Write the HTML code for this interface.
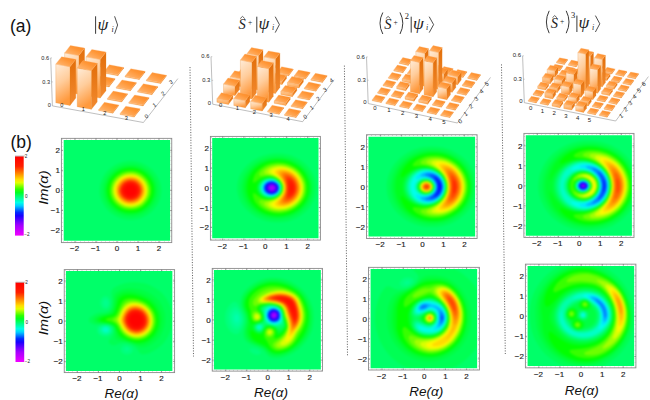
<!DOCTYPE html><html><head><meta charset="utf-8"><style>html,body{margin:0;padding:0;background:#fff}svg{display:block}text{font-family:"Liberation Sans",sans-serif}</style></head><body>
<svg width="650" height="400" viewBox="0 0 650 400">
<defs><filter id="bl" x="-5%" y="-5%" width="110%" height="110%" color-interpolation-filters="sRGB"><feGaussianBlur stdDeviation="0.8"/></filter></defs>
<rect width="650" height="400" fill="#fff"/>
<clipPath id="cP11"><rect x="63.70" y="140.00" width="106.40" height="100.75"/></clipPath>
<g clip-path="url(#cP11)"><g filter="url(#bl)"><rect x="59.7" y="136.0" width="114.4" height="108.8" fill="#00ff69"/><g transform="scale(.25)"><path fill="#00ff54" fill-rule="evenodd" d="M503 646l12-2 12 0 12 1 12 3 12 3 10 4 11 6 10 6 10 8 8 7 8 10 7 10 6 10 4 10 4 12 2 10 1 10 1 11-2 12-1 10-4 12-4 10-5 10-7 10-8 10-8 8-10 8-8 5-12 7-9 4-12 4-13 2-11 2-12 0-12-1-12-2-12-3-12-5-12-6-10-6-10-8-8-8-8-9-7-10-4-8-6-12-3-10-3-12-1-10 0-11 1-10 2-12 4-12 4-10 5-10 7-10 7-9 8-8 10-8 10-7 10-5 14-6 10-3 11-2z"/><path fill="#00ff43" fill-rule="evenodd" d="M507 658l10-1 12 0 12 1 10 2 10 3 10 4 9 6 8 5 8 7 8 7 8 10 5 8 5 8 4 10 3 10 2 10 1 10-1 11-1 10-2 10-4 12-4 8-5 8-6 8-7 8-8 7-8 7-10 6-7 4-10 4-12 3-10 2-10 1-12-1-10-1-10-2-10-3-10-4-8-4-10-6-8-6-8-7-7-8-7-10-5-10-4-8-3-10-2-10-1-10 0-11 1-10 2-10 3-8 4-10 5-10 6-8 7-8 7-7 8-7 10-6 10-5 10-4 12-4 8-1z"/><path fill="#00ff32" fill-rule="evenodd" d="M503 665l10-1 12 0 10 0 10 2 10 3 10 4 8 4 7 4 8 6 8 8 7 7 6 8 4 8 5 10 3 10 2 8 1 10 0 9 0 8-2 10-3 8-4 10-4 8-5 8-6 8-8 7-8 7-8 5-7 5-10 4-10 3-10 2-10 1-10 0-10 0-10-2-10-3-10-4-8-4-8-4-8-6-7-7-6-6-6-8-5-8-4-8-4-10-2-10-1-10-1-9 1-8 1-10 3-8 3-10 4-8 5-8 6-8 7-7 8-7 8-6 10-5 8-4 8-3 10-2z"/><path fill="#00ff1f" fill-rule="evenodd" d="M511 670l8-1 10 0 10 1 10 3 16 5 8 5 7 5 8 6 6 6 7 8 5 8 4 8 4 8 2 8 2 10 1 10 0 7-2 10-1 8-3 8-4 8-4 8-6 8-7 8-6 6-8 6-7 5-16 7-10 3-10 1-10 1-10 0-10-1-8-2-10-3-8-3-8-5-8-5-7-6-7-7-6-7-6-8-4-8-3-8-3-8-1-10-1-8 0-9 1-8 2-10 4-10 3-8 10-15 7-7 7-7 8-6 8-4 8-4 10-4 17-3z"/><path fill="#01ff00" fill-rule="evenodd" d="M505 676l8-1 10-1 10 1 8 1 16 5 8 3 8 5 7 5 6 6 6 6 6 8 5 8 4 8 3 8 2 8 1 10 0 7-2 16-2 8-4 10-8 14-11 13-6 5-7 5-8 5-8 4-10 3-8 2-8 1-10 0-10-1-8-1-16-5-8-3-8-5-8-6-6-5-6-6-6-8-5-8-4-8-2-8-2-8-2-10 0-7 2-16 2-8 3-8 4-8 6-8 10-12 6-5 8-6 8-5 8-3 8-3 9-2z"/><path fill="#37ff00" fill-rule="evenodd" d="M505 684l16-2 16 1 8 2 8 3 14 6 12 10 6 6 5 6 4 6 4 8 3 8 3 8 1 8 0 8 0 7-1 8-5 14-8 14-10 12-6 6-6 5-14 7-8 3-8 2-16 1-16-1-8-2-8-2-14-7-13-10-6-6-5-6-4-6-4-8-3-8-2-8-1-8-1-7 1-8 1-8 4-14 3-6 5-8 10-12 13-10 14-8 15-4z"/><path fill="#6dff00" fill-rule="evenodd" d="M507 689l14-1 8 0 8 1 14 4 14 7 11 10 9 10 7 12 5 14 2 14 0 7-1 8-5 14-6 12-9 10-5 6-6 5-14 7-14 4-14 2-16-1-14-3-14-7-12-9-6-6-5-6-7-12-5-14-1-14 1-13 4-14 3-8 4-6 10-12 12-9 12-7 14-4z"/><path fill="#a3ff00" fill-rule="evenodd" d="M513 694l14-1 14 2 14 6 11 7 10 9 8 11 6 12 3 14 0 13-2 12-5 12-8 13-9 10-12 8-12 5-14 3-14 0-14-2-14-6-12-7-10-9-8-11-5-12-4-14 0-13 2-12 5-12 8-12 10-10 10-7 14-6 13-3z"/><path fill="#d9ff00" fill-rule="evenodd" d="M517 698l14 0 12 3 12 5 11 8 10 10 6 10 5 12 2 12-1 11-2 12-6 12-7 11-10 9-10 6-12 4-14 3-14-1-12-2-12-6-10-6-10-10-7-10-5-12-2-12 0-13 3-12 5-12 8-10 9-8 11-7 12-5 13-2z"/><path fill="#fff700" fill-rule="evenodd" d="M517 702l12 0 12 2 12 5 9 7 9 8 7 10 4 10 2 12 1 11-3 12-4 10-7 10-8 9-10 6-12 5-12 2-12 1-12-2-12-5-10-6-9-8-7-10-5-12-3-12 0-11 3-12 4-10 7-10 10-10 10-6 12-4 11-2z"/><path fill="#ffda00" fill-rule="evenodd" d="M515 705l12 0 12 2 10 4 10 6 8 8 6 9 5 10 3 12 0 11-2 10-5 10-6 10-9 8-8 6-10 4-12 3-12 0-12-2-10-4-10-6-8-8-7-9-4-10-3-10 0-11 1-10 4-10 6-10 9-9 10-7 10-4 11-2z"/><path fill="#ffbc00" fill-rule="evenodd" d="M511 710l10-1 12 1 10 2 10 5 8 7 7 8 5 10 3 10 1 10-1 9-3 10-5 10-7 8-8 7-10 5-10 3-12 1-10-1-10-3-10-5-8-7-7-8-6-10-3-10-1-9 1-10 3-10 6-10 7-8 8-6 10-5z"/><path fill="#ff9f00" fill-rule="evenodd" d="M509 713l10-1 10 0 10 2 10 5 8 6 6 7 5 8 4 10 2 10-1 9-3 10-4 8-6 8-7 7-8 4-10 4-10 1-10 0-10-2-10-5-8-6-7-7-5-8-4-10-1-8 0-9 2-10 5-9 6-8 8-7 8-5 9-3z"/><path fill="#ff8200" fill-rule="evenodd" d="M515 716l10-1 8 1 10 3 8 5 6 6 7 8 4 8 2 8 1 9-2 8-2 8-5 8-5 7-8 7-8 4-10 2-10 1-8-1-10-3-8-4-8-6-6-7-4-8-3-10-1-9 1-8 4-10 5-8 6-7 8-5 8-4 9-2z"/><path fill="#ff6600" fill-rule="evenodd" d="M511 719l8-1 10 1 8 1 8 4 8 6 5 6 5 8 3 8 1 8 0 9-3 8-3 7-6 7-6 6-8 4-8 3-8 1-10 0-8-2-8-4-8-6-6-6-5-8-3-8-1-8 1-7 2-8 4-8 6-8 6-5 8-5 7-2z"/><path fill="#ff4900" fill-rule="evenodd" d="M517 721l8 0 8 2 8 2 8 5 5 6 5 6 3 8 2 8 0 7-2 8-3 8-4 6-6 6-6 4-8 3-8 2-8 0-8-1-8-3-7-5-7-6-4-6-3-6-2-8-1-7 2-8 3-8 4-6 5-6 8-5 8-4 7-1z"/><path fill="#ff2d00" fill-rule="evenodd" d="M513 725l8-1 8 1 6 1 7 4 6 4 5 5 4 5 2 8 2 6 0 7-2 8-3 6-4 6-5 5-6 4-8 3-8 2-8 0-8-2-6-3-7-5-5-5-4-6-3-7-1-6 0-7 2-8 3-6 5-7 6-5 6-4 6-2z"/><path fill="#ff1c00" fill-rule="evenodd" d="M519 727l8 1 6 1 6 3 6 4 4 4 4 6 3 6 2 8-1 7-2 6-3 6-3 5-4 4-6 4-6 2-8 2-8-1-6-1-6-2-6-4-5-5-4-6-3-6-1-6 0-7 1-6 3-6 4-6 5-5 6-3 6-3 7-1z"/><path fill="#ff1500" fill-rule="evenodd" d="M515 731l6 0 6 0 6 1 6 4 6 3 4 5 3 6 2 6 0 6 0 5-2 6-3 6-4 5-5 3-5 3-6 2-6 1-6-1-6-1-6-3-6-5-4-4-2-4-3-6-1-6 1-5 1-6 3-6 5-6 4-3 5-3 5-2z"/><path fill="#ff0f00" fill-rule="evenodd" d="M513 735l6-1 6 0 6 1 4 2 4 2 4 3 4 5 2 5 1 4 1 6-1 5-1 5-3 5-4 4-5 4-5 2-5 2-6 0-6-1-4-1-6-3-4-3-4-6-2-4-2-6 0-5 1-6 2-4 3-5 4-4 4-3 5-2z"/><path fill="#ff0900" fill-rule="evenodd" d="M521 737l6 1 4 1 4 2 4 3 3 4 3 4 2 4 0 6-1 7-2 4-3 5-4 3-4 3-6 1-4 1-6-1-4-1-4-2-4-3-4-4-2-4-3-8 1-5 1-4 2-4 3-4 4-4 4-2 8-2z"/><path fill="#ff0300" fill-rule="evenodd" d="M519 742l8 0 4 1 4 3 5 6 2 4 1 4 0 3-1 4-3 7-6 5-4 2-4 1-8-1-4-1-4-2-6-7-2-4 0-4 0-3 0-4 4-6 6-6 7-2z"/></g></g></g>

<rect x="61.40" y="138.35" width="110.35" height="104.25" fill="none" stroke="#8a8a8a" stroke-width="0.9"/><rect x="62.10" y="139.05" width="108.95" height="102.85" fill="none" stroke="#999" stroke-width="1.0" stroke-dasharray="0.45 3.75"/><path d="M75.0 242.6v-1.6M75.0 138.3v1.6M61.4 230.5h1.6M171.8 230.5h-1.6M96.0 242.6v-1.6M96.0 138.3v1.6M61.4 210.5h1.6M171.8 210.5h-1.6M117.0 242.6v-1.6M117.0 138.3v1.6M61.4 190.4h1.6M171.8 190.4h-1.6M138.0 242.6v-1.6M138.0 138.3v1.6M61.4 170.3h1.6M171.8 170.3h-1.6M159.0 242.6v-1.6M159.0 138.3v1.6M61.4 150.3h1.6M171.8 150.3h-1.6" stroke="#666" stroke-width="0.6" fill="none"/><g font-size="8.0" fill="#1a1a1a" stroke="#1a1a1a" stroke-width="0.15"><text x="74.6" y="251.2" text-anchor="middle">−2</text><text x="59.9" y="233.4" text-anchor="end">−2</text><text x="95.6" y="251.2" text-anchor="middle">−1</text><text x="59.9" y="213.4" text-anchor="end">−1</text><text x="117.0" y="251.2" text-anchor="middle">0</text><text x="59.9" y="193.3" text-anchor="end">0</text><text x="138.0" y="251.2" text-anchor="middle">1</text><text x="59.9" y="173.2" text-anchor="end">1</text><text x="159.0" y="251.2" text-anchor="middle">2</text><text x="59.9" y="153.2" text-anchor="end">2</text></g>

<clipPath id="cP12"><rect x="212.20" y="138.10" width="106.30" height="100.20"/></clipPath>
<g clip-path="url(#cP12)"><g filter="url(#bl)"><rect x="208.2" y="134.1" width="114.3" height="108.2" fill="#00ff69"/><g transform="scale(.25)"><path fill="#00ff54" fill-rule="evenodd" d="M1094 614l14 0 16 0 14 2 16 3 14 4 14 6 12 6 14 9 12 10 10 10 9 11 8 12 6 12 5 12 4 14 2 14 0 14-1 14-2 14-4 12-4 12-8 14-8 12-9 10-10 10-12 9-12 8-16 8-12 4-14 5-16 3-16 1-16 0-16-1-14-2-16-4-16-6-14-6-14-8-9-7-12-10-10-10-9-10-8-12-6-12-5-12-3-12-3-14 0-14 1-12 2-12 4-14 5-12 7-12 7-10 10-12 12-11 11-9 12-7 12-7 14-6 18-5 16-4 14-1zM1068 715l-8 2-8 5-5 5-5 6-4 8-2 6 0 8 2 8 4 8 5 6 5 4 8 5 8 3 8 1 8 0 9-1 7-2 8-5 6-5 6-6 3-6 2-8 0-8-1-8-3-6-5-7-6-6-8-4-8-3-8-2-10 0z"/><path fill="#00ff43" fill-rule="evenodd" d="M1090 626l14-1 14 0 14 1 14 3 12 3 14 5 12 6 12 7 10 8 10 9 9 10 8 10 7 12 5 12 4 12 2 12 1 14 0 12-2 12-3 12-4 12-6 12-6 10-9 11-10 10-10 9-10 7-12 6-12 6-14 4-14 3-14 2-12 1-14 0-14-2-14-2-14-4-14-6-12-6-12-7-10-7-9-9-10-10-7-10-6-10-6-12-4-12-3-12-1-12 0-12 2-12 2-12 4-10 5-12 8-12 8-10 9-10 9-8 11-8 12-7 12-6 14-5 14-4 15-2zM1072 713l-8 2-8 3-7 5-6 6-5 6-3 8-1 8 0 6 3 8 3 6 5 6 7 6 8 4 8 3 10 1 8 0 10-2 8-4 7-4 7-6 4-6 3-8 1-8 0-8-3-8-4-6-5-6-8-6-8-4-8-2-8-1z"/><path fill="#00ff32" fill-rule="evenodd" d="M1096 633l12-1 14 0 14 2 14 3 14 4 10 4 12 7 10 6 10 9 8 8 9 10 6 10 6 10 5 12 3 12 2 12 0 12 0 10-2 12-4 12-5 12-5 10-7 10-8 10-8 8-10 8-10 6-12 7-12 5-12 3-14 3-14 2-12 0-14 0-14-2-12-3-12-4-14-6-12-6-10-7-10-8-8-8-8-10-7-10-5-10-5-12-3-12-2-10-1-12 1-12 2-10 3-12 4-10 7-12 7-10 7-8 8-9 10-8 10-7 12-6 12-5 12-4 14-4zM1067 713l-9 3-8 4-6 5-5 6-4 6-2 8-1 8 1 8 4 8 4 6 6 6 7 5 8 3 10 3 10 0 9-1 9-3 8-4 7-5 5-7 4-7 2-8 1-8-2-8-4-8-4-6-7-6-6-4-8-3-10-3-10 0-8 1z"/><path fill="#00ff1f" fill-rule="evenodd" d="M1090 638l12-1 14 0 12 1 12 1 14 4 12 4 10 5 10 6 10 7 9 8 8 8 8 10 6 10 6 12 4 12 2 10 1 12 0 12-1 10-3 12-4 12-5 10-6 10-7 8-7 8-9 8-10 7-10 6-12 6-12 4-12 3-12 2-12 1-14 0-12-1-12-2-12-3-12-4-12-6-10-6-10-7-8-6-8-9-7-9-6-10-5-10-4-10-3-12-2-10 0-12 1-10 2-12 4-12 4-10 6-10 7-10 7-9 10-9 10-7 10-6 12-6 12-4 10-3 13-2zM1072 711l-10 2-8 3-8 5-6 6-5 6-4 8-1 8 0 8 2 6 3 8 5 6 8 7 8 4 10 4 8 1 10 0 10-2 8-3 8-5 6-5 6-7 4-8 1-8 0-8-2-8-4-8-5-6-8-7-8-4-8-2-10-2z"/><path fill="#01ff00" fill-rule="evenodd" d="M1098 642l12 0 12 0 12 1 12 3 12 3 10 4 12 7 10 6 10 8 8 9 7 8 6 10 4 8 4 10 4 12 1 10 1 12-1 10-1 10-4 12-4 10-4 8-7 10-6 8-8 8-8 6-10 7-10 6-10 4-12 4-14 4-12 1-12 1-12-1-12-2-12-2-10-3-12-5-10-5-10-7-8-6-8-8-7-8-7-10-5-10-4-10-3-10-2-10 0-10 0-12 2-12 2-10 4-10 5-10 5-8 6-9 7-7 10-8 9-7 10-6 10-4 12-5 12-2 13-2zM1064 711l-10 3-8 4-8 7-5 6-4 8-2 8-1 8 2 8 4 8 5 6 6 6 9 5 8 4 10 2 10 0 10-1 10-3 8-4 8-7 6-6 4-8 2-8 0-8-1-8-4-8-6-8-7-6-8-5-8-3-10-2-10 0z"/><path fill="#37ff00" fill-rule="evenodd" d="M1096 651l14-2 16 1 14 2 14 4 14 6 14 8 12 9 9 10 9 12 7 12 4 12 3 14 1 14-1 14-3 14-5 12-7 12-10 12-11 10-12 9-12 6-14 6-16 4-14 2-14 0-16-2-16-4-14-5-14-8-11-8-9-10-8-10-4-10-3-10-1-10 1-2 1-3 2 0 2 1 17 12 13 7 14 4 14 1 8-1 8-1 8-3 6-3 6-4 6-5 4-5 4-6 3-8 1-8-1-10-3-8-5-8-7-7-8-6-10-4-8-3-10-1-8 0-10 2-10 3-10 4-9 6-11 8-4 2-2 0-2-3 0-5 1-6 2-8 2-6 7-12 11-12 13-10 14-9 16-6z"/><path fill="#6dff00" fill-rule="evenodd" d="M1100 657l12-1 12 0 12 1 12 3 10 4 12 5 10 6 10 8 8 8 7 10 6 10 5 10 3 10 2 12 0 12-1 10-2 12-4 10-5 10-7 10-7 8-9 8-10 7-10 6-10 4-12 4-12 2-14 2-12-1-12-1-12-3-10-4-15-8-5-4-7-6-4-6-3-4-1-4 0-4 2-2 1-1 4-1 24 2 16-2 14-4 12-6 6-5 5-5 4-6 3-6 2-6 1-6 0-8-1-6-4-10-6-8-8-7-10-6-12-5-12-2-12 0-24 1-4-2-1-1 0-4 2-6 6-8 6-6 9-6 8-5 10-4 10-3z"/><path fill="#a3ff00" fill-rule="evenodd" d="M1100 662l10-1 10 0 12 1 10 2 10 3 10 4 10 5 8 6 9 7 7 8 6 8 5 8 4 10 3 8 2 10 0 10 0 10-2 10-3 10-3 8-6 9-6 8-8 9-7 6-9 6-10 5-10 4-10 3-12 2-10 1-10 0-10-1-16-4-8-4-7-4-5-4-4-4-3-4 0-4 1-3 4-2 30-8 10-4 8-5 8-6 5-6 5-8 3-8 1-6 1-6-1-6-1-6-5-10-4-6-4-5-8-6-10-6-12-4-26-6-4-3-1-2 0-4 2-4 4-4 5-4 7-4 7-4 8-2 9-2z"/><path fill="#d9ff00" fill-rule="evenodd" d="M1110 666l8 0 10 0 10 2 8 2 10 3 8 4 8 4 8 6 8 7 6 7 5 8 5 8 3 8 3 8 1 8 1 10-1 10-1 8-2 8-3 8-5 8-5 8-7 8-6 5-14 10-8 4-10 4-8 3-10 1-10 1-9 0-15-2-12-5-6-3-4-4-3-4 0-2 0-2 2-2 2-2 25-12 8-5 6-5 6-6 5-6 3-6 3-8 1-10-1-12-4-10-6-10-7-7-8-6-10-6-20-9-3-2-1-2-1-2 0-2 2-4 8-6 11-5 15-3z"/><path fill="#fff700" fill-rule="evenodd" d="M1106 673l8-2 8 0 16 1 16 5 8 3 8 5 13 10 10 12 4 6 4 8 3 8 2 8 2 8 0 8-1 8-1 8-5 14-4 8-4 6-11 12-13 10-15 7-16 5-16 1-8 0-8-1-8-3-6-3-2-2-3-4 0-4 4-4 21-15 6-5 6-7 7-11 3-6 1-8 1-10-1-8-4-10-4-8-7-8-6-6-23-16-3-4-1-4 1-2 2-3 6-4z"/><path fill="#ffda00" fill-rule="evenodd" d="M1116 676l14 0 14 2 14 5 14 8 11 10 10 12 6 12 4 14 1 14-2 14-4 14-7 12-9 11-11 9-13 7-12 5-16 2-14 0-7-2-5-2-3-2-2-4 1-4 2-4 16-15 10-12 4-7 3-6 2-12 1-8-1-8-3-8-4-8-8-12-19-18-3-4-1-2 1-4 2-3 6-3 6-2z"/><path fill="#ffbc00" fill-rule="evenodd" d="M1126 681l12 0 12 3 12 5 12 8 8 8 8 10 6 12 3 12 2 12-1 12-4 12-5 12-7 10-10 9-10 7-13 6-13 3-8 1-6-1-6-1-4-1-3-3-1-2 0-4 2-4 14-18 7-10 4-10 2-10 0-8 0-8-2-8-2-6-4-8-5-7-14-17-3-6 1-4 3-2 5-3z"/><path fill="#ff9f00" fill-rule="evenodd" d="M1126 687l10-1 10 1 12 4 10 6 9 8 7 8 6 10 5 12 2 10 0 12-2 12-4 10-6 10-7 8-8 8-10 6-6 3-8 2-12 2-6-1-4-1-4-3-1-2 0-4 2-4 11-18 5-10 3-10 1-10 0-12-2-8-2-6-5-10-10-16-3-6 0-4 1-2 2-2z"/><path fill="#ff8200" fill-rule="evenodd" d="M1132 692l8-1 10 2 10 4 8 5 8 7 7 8 4 8 4 10 2 10 1 10-2 10-2 8-5 10-6 8-7 7-8 6-10 5-6 2-6 1-6 0-4-1-3-2-1-2-1-4 1-4 9-18 4-10 2-10 0-8 0-10-3-12-3-8-8-18-2-4 0-4 2-2 2-2z"/><path fill="#ff6600" fill-rule="evenodd" d="M1138 698l6-1 6 1 8 3 8 4 8 7 6 7 4 8 4 8 1 8 1 10-1 8-2 8-3 8-5 8-5 6-6 6-10 6-10 3-6 0-3-1-3-2-1-2 0-4 1-4 8-24 1-8 1-8-1-8-1-10-9-28 0-4 1-2 2-2z"/><path fill="#ff4900" fill-rule="evenodd" d="M1146 704l6 0 6 2 6 3 6 5 5 5 4 6 3 6 3 8 1 7 0 7 0 8-2 6-2 6-4 7-4 5-6 6-8 5-8 3-6 0-3-2-1-2 0-6 5-22 1-12-1-16-5-26 0-5 1-1 2-2z"/><path fill="#ff2d00" fill-rule="evenodd" d="M1152 712l4 0 4 1 6 4 4 3 7 9 2 6 2 6 1 6 1 6-1 6-1 6-5 10-4 6-4 4-6 4-6 2-4 0-2-1-2-3 0-6 2-20 1-10-3-32 1-4 2-2z"/><path fill="#ff1c00" fill-rule="evenodd" d="M1158 722l2 0 4 1 6 5 5 9 3 10 0 8-2 10-4 7-6 7-4 2-4 0-2-1-2-4 0-45 0-4 2-4z"/><path fill="#ff1500" fill-rule="evenodd" d="M1164 737l2 1 3 3 2 4 0 6-1 9-2 4-2 2-2 0-2 0-2-7 0-16 2-5z"/><path fill="#00ff7c" fill-rule="evenodd" d="M1076 715l8-1 8 1 8 3 8 4 6 5 5 6 3 6 2 8 1 8-2 6-3 7-4 7-6 5-8 5-8 2-9 2-9 0-8-2-8-3-5-3-5-4-5-6-4-6-2-8-1-6 1-8 4-8 4-6 7-6 6-4 8-3 7-1z"/><path fill="#00ff8b" fill-rule="evenodd" d="M1070 717l8-2 8 0 8 2 8 2 6 4 7 6 4 6 4 8 1 6 0 8-3 8-3 6-5 6-7 5-6 3-8 2-8 1-8 0-8-2-8-3-6-4-6-6-4-6-3-6-1-8 0-6 2-6 3-6 4-6 5-5 8-5z"/><path fill="#00ff9a" fill-rule="evenodd" d="M1074 717l8-1 8 0 8 3 8 3 6 5 5 6 4 6 2 6 0 8 0 6-3 7-4 6-6 6-6 4-8 3-7 2-7 0-8 0-8-3-7-3-6-4-5-6-4-6-2-6-1-6 1-8 2-6 3-6 5-6 6-4 8-4z"/><path fill="#00ffab" fill-rule="evenodd" d="M1080 717l8 0 8 2 6 2 7 4 5 5 4 5 4 8 1 6-1 8-1 6-3 6-5 6-7 5-6 3-6 2-8 1-8 0-8-1-8-3-6-4-5-5-4-6-3-6-1-6 0-8 2-6 3-6 4-6 6-5 6-3 8-3z"/><path fill="#00ffc7" fill-rule="evenodd" d="M1074 719l8-1 8 0 8 2 6 3 6 4 6 6 3 6 2 6 1 8-1 6-2 6-4 6-5 5-6 4-6 3-8 2-6 1-8-1-8-2-6-3-6-4-5-5-4-6-2-6-1-6 1-6 1-6 3-6 5-6 5-4 7-4 7-2z"/><path fill="#00ffec" fill-rule="evenodd" d="M1074 721l6-1 8 0 8 1 6 3 6 3 4 4 5 6 2 6 2 6-1 6-1 6-3 6-4 5-6 5-6 3-7 3-7 1-8-1-8-2-6-2-5-4-5-4-4-6-2-6-1-6 1-6 1-6 4-6 3-5 6-4 6-3z"/><path fill="#00e6ff" fill-rule="evenodd" d="M1074 723l6-1 8-1 6 1 6 3 6 3 6 5 3 4 3 6 1 6 0 6-2 6-3 6-4 5-4 3-6 4-6 2-8 1-6 0-6-2-6-2-6-3-4-4-3-4-3-6-2-6 0-6 1-6 2-4 5-6 4-4 6-4z"/><path fill="#00b5ff" fill-rule="evenodd" d="M1076 724l6-1 6 0 6 1 6 2 6 4 4 4 4 5 2 5 1 5 0 6-1 4-2 6-4 5-4 3-6 4-6 2-6 1-6 0-6-1-6-2-6-4-4-3-4-5-2-4-1-6 0-6 1-6 2-4 3-4 4-4 5-4 6-2z"/><path fill="#0084ff" fill-rule="evenodd" d="M1076 726l6-1 6 0 10 2 6 4 4 3 4 5 2 4 2 6 0 4-1 6-3 5-3 5-5 4-4 2-6 2-6 1-6 0-10-2-5-3-5-4-3-4-2-4-1-4-1-6 1-6 2-4 2-4 4-4 6-4 5-2z"/><path fill="#0053ff" fill-rule="evenodd" d="M1086 727l6 0 5 2 5 2 4 3 4 5 2 4 2 4 0 6-1 6-2 4-3 4-4 4-4 2-6 2-10 1-6 0-4-2-4-2-4-3-4-4-2-4-2-4 0-6 0-5 2-5 3-4 3-3 4-3 5-2 5-2 5 0z"/><path fill="#0022ff" fill-rule="evenodd" d="M1084 729l6 0 4 1 8 3 4 4 4 4 1 4 1 4 0 6-1 4-2 4-3 4-4 3-4 2-4 2-6 1-6-1-4-1-8-3-3-3-3-4-2-4-2-4 0-6 1-4 2-4 3-4 4-4 4-2 9-2z"/><path fill="#0900ff" fill-rule="evenodd" d="M1084 731l8 0 4 1 5 3 3 2 3 4 2 4 2 4 0 4-1 4-2 4-2 4-4 3-4 2-8 3-6 0-4-1-8-3-6-6-2-4-1-4 0-4 0-4 2-4 3-4 6-5 9-3z"/><path fill="#2700ff" fill-rule="evenodd" d="M1084 733l8 0 4 1 4 2 3 3 3 4 3 6 0 4-1 4-3 6-3 2-4 3-8 3-8-1-8-3-3-2-3-4-2-6-1-4 1-4 3-6 5-5 4-2 5-1z"/><path fill="#4500ff" fill-rule="evenodd" d="M1084 735l8 0 6 2 6 6 3 6 0 4-1 4-4 6-6 4-6 2-8-1-6-2-5-5-3-6 0-6 3-6 5-5z"/><path fill="#6300ff" fill-rule="evenodd" d="M1088 737l6 1 5 3 4 4 1 6-1 6-3 4-6 4-6 1-6 0-5-3-4-4-2-6 1-6 2-5 6-4 7-1z"/><path fill="#8000ff" fill-rule="evenodd" d="M1082 740l4-1 6 1 6 3 3 4 1 6-1 4-4 4-5 2-6 1-4-1-4-2-3-4-1-4 0-5 2-3 5-4z"/><path fill="#9e00ff" fill-rule="evenodd" d="M1086 743l4 0 4 1 3 3 2 4-1 4-2 2-4 3-3 1-5-1-2-1-3-2-1-4 0-4 1-2 2-2 4-2z"/><path fill="#ad00ff" fill-rule="evenodd" d="M1084 749l4-2 4 2 1 2 0 2-1 2-4 1-3-1-2-2 0-2z"/></g></g></g>

<rect x="210.40" y="136.40" width="110.00" height="103.70" fill="none" stroke="#8a8a8a" stroke-width="0.9"/><rect x="211.10" y="137.10" width="108.60" height="102.30" fill="none" stroke="#999" stroke-width="1.0" stroke-dasharray="0.45 3.80"/><path d="M222.7 240.1v-1.6M222.7 136.4v1.6M210.4 227.3h1.6M320.4 227.3h-1.6M243.9 240.1v-1.6M243.9 136.4v1.6M210.4 207.6h1.6M320.4 207.6h-1.6M265.2 240.1v-1.6M265.2 136.4v1.6M210.4 187.9h1.6M320.4 187.9h-1.6M286.4 240.1v-1.6M286.4 136.4v1.6M210.4 168.2h1.6M320.4 168.2h-1.6M307.7 240.1v-1.6M307.7 136.4v1.6M210.4 148.5h1.6M320.4 148.5h-1.6" stroke="#666" stroke-width="0.6" fill="none"/><g font-size="8.0" fill="#1a1a1a" stroke="#1a1a1a" stroke-width="0.15"><text x="222.3" y="248.8" text-anchor="middle">−2</text><text x="208.9" y="230.2" text-anchor="end">−2</text><text x="243.5" y="248.8" text-anchor="middle">−1</text><text x="208.9" y="210.5" text-anchor="end">−1</text><text x="265.2" y="248.8" text-anchor="middle">0</text><text x="208.9" y="190.8" text-anchor="end">0</text><text x="286.4" y="248.8" text-anchor="middle">1</text><text x="208.9" y="171.1" text-anchor="end">1</text><text x="307.7" y="248.8" text-anchor="middle">2</text><text x="208.9" y="151.4" text-anchor="end">2</text></g>

<clipPath id="cP13"><rect x="368.50" y="136.85" width="106.60" height="99.75"/></clipPath>
<g clip-path="url(#cP13)"><g filter="url(#bl)"><rect x="364.5" y="132.8" width="114.6" height="107.8" fill="#00ff69"/><g transform="scale(.25)"><path fill="#00ff54" fill-rule="evenodd" d="M1702 587l16-1 16 0 16 1 16 2 16 4 16 5 14 6 14 8 14 9 12 9 12 11 10 12 8 12 7 12 7 14 4 14 0 84-3 10-6 14-7 14-9 12-11 14-14 12-14 11-16 10-16 8-18 6-20 5-20 3-18 0-18 0-16-2-18-4-18-6-14-6-16-8-12-8-14-11-11-10-11-12-10-14-7-14-7-14-5-16-3-16-1-16 0-16 2-14 4-16 6-16 6-12 8-14 11-14 11-12 13-11 14-10 14-8 16-8 16-5 16-5zM1688 675l-16 4-14 7-12 9-10 10-7 12-5 14-2 14 0 8 1 8 5 14 7 12 5 6 5 6 13 9 14 7 16 4 16 1 14-1 14-4 14-7 12-8 10-11 8-12 5-14 2-14-1-8-1-8-4-14-7-12-10-11-12-9-14-7-14-4-16-2zM1696 719l6-1 6 1 6 1 6 2 6 4 4 4 3 5 3 6 0 6 0 6-3 6-2 4-4 4-5 4-6 2-6 2-6 1-8-1-6-2-5-2-6-4-3-4-3-4-2-6-1-6 1-6 2-6 3-4 4-4 4-3 6-3z"/><path fill="#00ff43" fill-rule="evenodd" d="M1718 597l16 0 16 1 16 2 16 4 16 6 14 6 14 9 12 8 12 11 11 11 9 12 7 12 7 14 5 14 4 16 2 14 0 14-1 16-3 14-5 16-6 14-7 12-9 12-10 12-10 9-12 9-14 9-14 7-16 7-14 4-18 3-16 2-16 0-16-1-16-3-16-4-16-5-14-7-14-8-12-8-12-10-9-10-10-12-8-12-7-14-5-14-4-14-2-16-1-16 2-14 3-16 4-14 6-14 7-12 8-12 10-12 12-11 12-9 14-9 14-7 16-6 14-5 18-3 14-2zM1693 673l-9 1-8 2-14 6-14 8-12 11-8 12-3 6-3 8-3 14 0 14 3 14 4 8 3 6 9 12 11 10 14 8 15 5 16 3 16 0 16-3 8-3 8-3 12-8 6-5 6-6 8-12 3-6 3-8 3-14 0-14-3-14-6-12-8-12-6-6-6-5-6-4-8-5-14-5-16-3-16 0zM1702 719l6 0 6 1 6 3 6 4 4 4 4 6 1 4 1 6-1 6-1 4-4 6-4 4-4 3-6 3-6 1-6 1-6 0-6-2-5-2-5-3-4-4-4-5-1-4-2-6 1-6 1-4 3-6 3-4 5-4 4-3 6-2z"/><path fill="#00ff32" fill-rule="evenodd" d="M1706 605l16-1 16 0 16 1 16 3 16 4 14 6 12 6 12 7 12 9 11 9 9 10 9 12 8 14 6 12 4 14 3 14 2 14 0 16-2 14-3 14-4 12-6 14-7 12-8 12-11 12-11 9-12 9-12 7-14 7-14 5-14 4-16 3-16 1-16 0-14-1-16-3-16-4-12-5-14-6-14-9-12-9-12-10-9-10-8-12-7-12-6-14-4-12-3-14-2-14 0-14 1-14 3-14 5-14 6-14 7-12 9-12 9-10 11-10 12-9 12-8 14-7 14-5 14-4zM1683 673l-17 5-14 7-12 9-11 11-4 6-4 8-5 14-1 8 0 8 2 14 2 8 3 6 3 6 6 8 11 11 12 8 14 7 16 4 16 2 16-2 16-4 14-7 13-9 6-6 5-6 4-7 4-7 4-13 1-7 1-8-2-14-4-14-4-7-4-7-6-7-5-5-13-9-14-7-16-4-16-2-16 2zM1694 721l6-1 6 0 6 1 6 2 6 3 4 4 4 5 2 4 1 4 0 6-1 6-2 4-4 5-4 4-4 2-6 3-6 1-6 0-6 0-6-2-5-3-5-4-3-4-3-6-1-4-1-6 2-6 1-4 3-4 4-4 6-4z"/><path fill="#00ff1f" fill-rule="evenodd" d="M1718 609l16 0 14 0 16 3 12 2 12 4 14 6 14 8 12 8 12 9 9 10 9 10 7 12 7 12 5 14 4 14 2 12 0 12 0 14-2 14-4 14-5 14-6 12-8 12-8 10-10 10-12 9-12 8-12 7-14 6-14 5-14 3-14 2-14 0-16 0-14-2-16-3-14-5-14-6-12-6-12-8-10-8-10-10-8-10-8-12-6-12-4-12-4-14-3-14 0-14 0-14 2-14 3-14 6-14 5-12 8-12 8-10 10-10 11-10 12-8 12-6 14-6 14-5 14-3 14-2zM1685 671l-15 3-8 3-8 4-14 9-6 5-6 6-9 12-4 8-2 6-2 8-1 6 0 8 1 8 3 14 3 6 5 8 10 12 12 10 8 5 8 4 16 5 16 3 10 0 8-1 16-3 8-3 8-4 12-7 6-5 6-6 5-6 5-8 6-14 2-14 0-8 0-8-2-8-2-8-4-7-4-7-10-12-12-10-14-7-16-6-16-2-10 0-8 1zM1698 721l6-1 6 1 6 1 4 2 4 3 4 4 3 4 3 6 0 4 0 6-2 6-2 4-3 4-5 4-6 3-6 1-6 1-6-1-6-1-4-2-5-3-4-4-3-4-2-6-1-4 1-6 1-6 3-4 3-4 5-4 6-3 5-1z"/><path fill="#01ff00" fill-rule="evenodd" d="M1712 615l20-1 20 1 20 3 18 6 18 9 18 11 15 13 12 14 10 16 8 18 3 10 3 10 2 18-1 20-4 18-7 18-8 16-12 16-15 14-8 6-10 7-18 9-18 7-12 3-10 2-20 1-22-1-12-2-10-2-20-7-18-9-9-6-7-6-9-8-7-8-5-8-5-8-4-10-3-10-1-8 2-3 2 0 2 2 15 13 9 7 10 6 8 4 10 4 12 3 12 2 10 1 12-1 12-2 12-4 10-4 10-6 8-7 8-8 6-9 4-6 3-8 2-8 2-8 0-8 0-8-2-8-2-8-3-7-4-7-4-6-6-7-12-11-8-5-8-4-16-5-16-2-16 0-18 3-14 4-12 6-8 5-8 6-18 15-2 2-2 0-1-1-1-4 1-8 3-8 4-10 5-8 6-8 13-14 15-12 9-5 10-5 20-7 21-5zM1704 721l6 0 6 2 4 2 6 4 3 4 3 4 1 4 1 6-1 6-1 4-3 4-3 4-4 3-6 3-6 2-6 0-6 0-6-2-6-3-4-3-3-4-2-4-2-4-1-6 1-6 2-4 2-4 4-4 3-3 6-3 6-2 5 0z"/><path fill="#37ff00" fill-rule="evenodd" d="M1716 623l16-1 16 0 16 2 14 4 14 5 14 7 14 9 12 10 10 10 9 12 8 14 6 14 4 14 2 14 0 14-1 14-3 14-5 14-7 14-8 12-10 12-11 10-12 8-14 8-14 6-14 5-16 3-16 1-16 0-16-3-14-3-14-6-13-7-10-8-3-4-3-4 0-4 1-2 2-2 4 0 28 1 20-1 10-2 10-3 16-7 8-5 8-6 6-5 7-8 6-8 4-8 3-8 2-10 1-10-1-12-2-10-4-10-5-10-7-9-8-9-8-6-10-6-10-5-10-3-10-3-12-2-10 0-32 1-4 0-3-2-1-2 1-2 3-6 8-8 8-6 10-5 11-5 13-4zM1700 723l10 0 6 2 5 2 3 3 4 4 3 5 1 4 0 6 0 4-2 4-2 4-4 3-4 3-4 2-6 2-10 0-6-1-4-2-4-2-4-4-3-5-2-4 0-4 0-6 1-4 2-4 3-4 5-4 6-3 5-1z"/><path fill="#6dff00" fill-rule="evenodd" d="M1728 629l12 0 14 0 14 3 12 3 12 4 12 6 12 8 11 8 9 10 8 10 7 10 6 12 4 12 3 12 2 12 0 14-2 14-3 12-4 12-6 12-6 10-9 10-9 10-11 8-12 8-12 6-12 4-14 4-14 2-12 0-14 0-12-2-13-4-12-6-6-6-1-2 0-2 2-2 3-2 3-1 24-6 16-6 16-8 12-9 6-5 6-7 5-6 5-8 3-8 3-8 1-8 1-8 0-10-1-8-2-8-3-8-4-8-4-7-6-7-6-7-12-9-16-9-16-6-30-8-5-3-1-2 0-2 3-4 5-4 7-4 13-5 17-3zM1698 725l4-1 6 0 6 1 4 2 4 3 4 3 2 4 2 4 1 4 0 6-2 4-2 4-3 4-4 3-8 3-4 1-6 0-6-1-4-2-4-2-4-4-3-4-2-4 0-4 0-6 1-4 2-4 6-6 4-2 5-2z"/><path fill="#a3ff00" fill-rule="evenodd" d="M1738 635l10 0 12 1 12 2 10 3 10 4 10 5 10 6 10 8 8 8 8 9 6 8 6 10 4 10 4 12 2 10 1 12 0 10-1 12-3 10-4 12-4 10-6 10-6 8-7 8-8 8-10 7-10 6-10 5-12 5-10 2-10 2-12 1-16-1-14-3-9-4-3-4 0-2 1-2 5-4 22-11 14-8 12-10 10-10 9-13 7-14 3-14 1-8 0-8-2-14-5-14-6-12-9-11-10-10-10-8-14-8-22-11-5-4-1-2 0-2 4-4 3-2 11-4 12-2zM1696 727l4-1 6-1 8 2 4 2 4 3 3 3 3 4 1 4 1 4-1 4-1 4-2 4-4 3-4 3-4 2-4 1-6 1-9-2-7-4-3-4-3-4-1-4-1-4 1-4 1-4 3-4 3-4z"/><path fill="#d9ff00" fill-rule="evenodd" d="M1748 641l10 0 10 2 10 2 10 3 10 5 8 5 8 5 8 7 8 7 6 8 6 8 4 8 4 8 3 10 2 10 2 10 0 10-1 10-1 8-3 10-3 10-4 8-5 8-6 8-6 8-8 7-8 6-8 6-8 4-10 4-10 4-10 2-14 1-12-1-6-1-5-2-2-2-1-2 0-2 2-4 30-23 8-8 8-10 7-11 5-10 3-10 2-12 0-14-2-14-5-14-6-12-8-10-10-11-10-8-18-13-6-6 0-2 0-2 1-2 3-2 6-2 11-2zM1704 727l6 0 4 1 4 2 4 3 4 6 2 4 0 4 0 4-2 4-4 6-4 3-4 2-8 1-8-1-4-1-4-3-5-5-2-4 0-4 0-4 0-4 2-4 3-3 7-5 8-2z"/><path fill="#fff700" fill-rule="evenodd" d="M1748 649l6-1 8 0 8 0 10 3 16 6 8 4 9 6 13 12 11 14 5 8 3 8 4 10 2 8 2 16 0 10-1 8-2 10-2 8-7 16-5 8-6 7-12 12-14 11-16 8-16 4-14 2-6-1-5-1-4-2-1-2 0-4 3-4 23-24 7-8 7-10 4-10 4-10 2-10 1-12 0-10-2-10-2-8-4-10-6-12-7-10-8-9-15-15-6-6-1-4 0-2 2-2 3-2zM1700 729l8-1 8 3 6 5 3 3 1 4 1 4-1 4-3 6-5 5-6 3-8 1-8-2-4-3-3-2-4-6-1-4 0-4 2-6 3-4 3-2 4-3z"/><path fill="#ffda00" fill-rule="evenodd" d="M1762 655l6-1 6 1 14 4 14 6 14 10 12 12 9 14 7 14 4 16 1 14-1 16-3 16-6 14-9 13-10 11-12 10-13 8-13 4-12 3-6-1-4 0-3-2-1-2 0-4 2-4 18-23 6-9 4-8 4-10 3-10 1-10 1-8 0-10-2-10-2-10-4-10-5-9-5-9-17-22-4-6 0-2 0-3 2-2 3-1zM1700 731l8-1 6 2 6 4 4 5 1 4 0 4-2 6-5 5-6 3-8 1-6-1-6-4-4-6-2-6 1-4 1-3 4-5 7-4z"/><path fill="#ffbc00" fill-rule="evenodd" d="M1770 663l4-1 6 0 12 3 12 6 12 9 10 11 8 12 6 12 4 14 2 14-1 14-2 14-5 12-6 12-8 10-10 10-10 8-12 6-10 3-6 0-4 0-2-1-2-2 0-4 1-4 15-24 7-16 4-16 2-16-1-16-4-16-3-8-4-10-17-28 0-4 0-2zM1700 732l6-1 7 2 5 3 4 5 1 6-1 6-4 5-6 3-4 1-4 0-6-1-6-4-2-4-2-6 2-6 3-4 5-4z"/><path fill="#ff9f00" fill-rule="evenodd" d="M1780 671l4-1 4 0 10 4 10 5 10 9 8 9 6 10 6 12 3 12 1 12 0 12-2 12-4 12-5 10-6 10-9 9-8 7-10 5-8 3-4 1-4 0-2-1-2-2 0-4 2-4 9-22 6-16 3-12 1-14-1-14-2-12-5-16-12-28-1-5zM1700 734l6-1 6 1 5 3 3 4 2 6-2 6-3 4-5 3-6 1-6-1-5-3-3-4-1-4 0-6 3-5 4-3z"/><path fill="#ff8200" fill-rule="evenodd" d="M1790 680l2-1 4 1 8 3 8 5 8 8 6 8 5 9 4 10 3 10 1 10 0 10-2 10-2 10-5 10-4 8-6 8-8 7-8 5-8 3-4 1-2-1-2-1 0-2 0-6 7-22 4-12 1-12 1-12 0-10-2-12-4-14-7-22 0-4 0-4zM1700 736l6-1 6 1 4 3 3 4 1 4-2 5-4 5-4 1-6 1-4-1-4-3-2-2-1-4 0-4 2-4 4-4z"/><path fill="#ff6600" fill-rule="evenodd" d="M1798 690l4 0 6 2 6 5 6 6 5 6 4 8 3 9 2 9 1 8 0 8-1 8-2 9-2 7-4 7-4 6-6 7-8 7-6 2-4 0-2-3 0-6 6-28 2-18-1-10-1-12-6-28 0-6 1-2zM1700 739l4-2 6 1 4 2 3 3 1 4-1 4-3 3-4 2-4 1-4-1-4-2-2-3-1-2 0-4 3-4z"/><path fill="#ff4900" fill-rule="evenodd" d="M1806 702l2 0 4 2 4 3 4 5 6 11 3 6 1 8 1 14-2 12-5 13-6 9-6 5-4 2-2 0-2-3 0-8 2-18 1-14-1-16-2-22 0-6 1-2zM1702 741l2-1 4 0 3 1 2 2 1 2 1 4-3 3-2 2-2 0-4 0-2-1-3-2-1-2 1-4 1-2z"/><path fill="#ff2d00" fill-rule="evenodd" d="M1812 721l2-2 2 1 4 5 3 6 2 8 1 8-1 8-2 8-3 6-4 5-2 1-2-2 0-2-1-8 0-32 0-6zM1704 744l2 0 4 1 0 2 0 2-2 1-2 0-2 0-1-3 1-2z"/><path fill="#00ff7c" fill-rule="evenodd" d="M1688 677l14-1 16 1 14 3 14 7 12 9 10 11 8 12 2 7 2 7 2 14-2 14-2 7-2 7-8 12-10 11-12 9-14 7-14 3-16 1-14-1-14-4-14-7-12-9-9-10-7-12-2-6-3-8-1-14 1-14 3-8 2-6 7-12 9-10 12-9 14-7zM1692 719l-6 2-6 4-4 4-4 6-3 6 0 4 0 6 2 6 3 6 3 4 5 4 6 3 6 2 8 1 6-1 7-1 5-2 6-4 4-4 4-6 2-4 1-6 0-6-2-6-3-5-4-5-4-3-6-4-6-2-6-1-8 1z"/><path fill="#00ff8b" fill-rule="evenodd" d="M1698 677l16 0 14 3 14 6 12 7 10 10 9 12 5 12 3 14 0 14-3 12-6 13-8 11-10 10-6 4-8 4-14 5-14 3-16 0-14-3-14-5-12-8-10-9-8-11-6-12-3-14 0-14 3-14 5-12 8-12 11-10 12-8 14-5 15-3zM1697 717l-7 2-6 2-6 4-4 4-3 4-2 6-2 6 1 6 1 6 4 6 3 4 6 5 6 3 6 2 8 0 6 0 6-1 6-3 6-3 5-5 3-5 2-5 2-6-1-6-1-6-4-6-3-4-5-4-6-3-6-2-8-1-6 0z"/><path fill="#00ff9a" fill-rule="evenodd" d="M1692 679l16-1 14 2 14 4 12 6 12 9 8 10 7 12 2 6 2 8 1 14-2 14-4 12-7 12-9 10-12 8-12 6-14 4-16 1-14-1-14-4-12-6-6-4-6-6-9-10-7-12-4-12-1-14 2-14 3-12 7-12 9-10 12-10 13-6 14-4zM1693 717l-7 2-6 3-5 5-4 4-3 6-2 6 0 6 1 6 3 6 3 4 5 5 6 4 6 2 8 2 8 0 6-1 6-2 6-3 6-5 3-4 3-6 2-6 0-6-1-6-3-6-4-6-4-3-6-4-6-2-6-2-8 0-6 1z"/><path fill="#00ffab" fill-rule="evenodd" d="M1702 679l14 1 14 3 14 6 12 8 10 10 6 10 5 12 3 14-1 14-3 12-6 12-4 6-5 6-11 9-12 6-14 5-14 2-14-1-14-3-12-5-12-8-9-9-8-12-5-12-2-14 0-14 3-12 6-12 4-6 5-6 10-8 12-7 14-5 13-2zM1690 717l-6 2-6 4-5 4-4 6-3 6-1 6 0 6 2 6 3 6 4 5 6 5 6 3 6 2 8 1 8-1 6-1 6-2 6-4 5-4 4-6 3-6 1-6 0-6-2-6-3-6-4-5-6-4-6-4-6-2-8-1-8 1z"/><path fill="#00ffc7" fill-rule="evenodd" d="M1696 681l14-1 14 2 14 5 12 7 10 8 9 11 6 12 3 12 1 14-2 12-5 12-6 10-9 10-11 8-12 6-14 4-14 1-14-2-14-4-12-6-11-9-8-10-6-12-3-12-1-12 1-14 2-7 3-7 7-12 10-10 10-7 12-6zM1693 715l-7 2-6 3-6 4-5 5-3 6-3 6 0 6 0 6 2 6 4 6 5 5 6 4 6 3 8 2 8 1 8-1 8-2 6-4 6-4 4-4 3-6 2-6 1-6-1-6-2-6-4-6-5-5-6-5-6-2-8-2-8-1-6 1z"/><path fill="#00ffec" fill-rule="evenodd" d="M1706 683l14 1 12 3 12 5 10 7 10 10 6 10 5 12 2 12 0 12-3 12-6 12-7 10-9 8-12 7-12 4-13 3-13 0-12-3-12-4-11-7-5-4-5-6-6-10-4-12-2-12 0-14 1-8 2-6 4-10 7-10 9-9 12-7 12-4zM1691 713l-7 2-8 3-7 5-4 4-4 6-3 8-1 6 1 6 2 6 3 6 6 6 7 5 8 3 8 2 8 1 8-1 8-2 6-2 6-4 6-6 4-6 2-6 1-6 0-8-2-6-4-6-5-6-6-4-8-4-8-2-8-1-8 1z"/><path fill="#00e6ff" fill-rule="evenodd" d="M1700 687l8-1 8 0 8 1 8 2 8 4 8 4 6 5 6 6 6 7 3 6 3 7 2 7 1 8 1 8-2 8-2 7-3 9-4 6-5 5-6 6-6 5-8 4-8 4-8 2-10 1-8 0-8-1-8-2-9-4-6-4-4-4-5-6-2-6 0-2 2-1 16 4 12 2 12 0 12-4 8-4 7-5 4-6 4-8 2-6 0-6-1-6-2-6-4-6-4-4-4-4-6-4-10-4-6-1-8 0-12 1-18 5-2 0-2-1 0-4 2-4 7-8 5-4 8-4 12-4z"/><path fill="#00b5ff" fill-rule="evenodd" d="M1710 689l7 0 7 1 12 3 12 7 10 8 8 11 5 12 3 12 0 6-1 8-4 12-3 6-4 6-9 10-11 7-12 5-14 2-8 0-6-1-6-2-6-2-6-5-2-2 0-2 4-2 14-2 10-1 6-2 8-4 7-5 6-6 5-8 2-8 0-8-2-10-3-6-2-4-7-7-6-4-10-4-12-3-17-2-3-2 1-2 1-2 5-4 4-2 7-2z"/><path fill="#0084ff" fill-rule="evenodd" d="M1712 693l11 0 11 3 12 5 8 7 8 9 5 8 3 10 2 12-2 12-3 10-6 10-7 8-10 7-11 5-11 2-12 0-6-2-3-2-1-2 2-2 20-9 6-4 6-5 5-6 5-8 2-6 0-8 0-8-2-6-5-8-5-6-6-5-6-4-21-9-1-2 1-2 3-2z"/><path fill="#0053ff" fill-rule="evenodd" d="M1720 699l8-1 8 2 8 4 8 5 6 7 6 9 3 8 2 8 0 8-1 9-2 7-4 8-6 8-6 5-8 5-8 4-6 1-6 0-3-1-1-2 2-2 14-12 6-6 4-6 2-6 2-6 1-8-1-6-3-10-4-8-9-10-13-10-1-2 1-2z"/><path fill="#0022ff" fill-rule="evenodd" d="M1736 709l2-2 6 2 6 4 4 3 4 5 4 7 2 5 2 8 0 12-2 8-2 5-6 10-4 4-6 4-4 2-4 1-1 0-1-2 9-14 4-10 2-10 0-10-2-8-2-6z"/><path fill="#0900ff" fill-rule="evenodd" d="M1756 730l2 2 2 4 2 9 0 4-1 6-3 7-2 2-1-1 1-16-1-16z"/></g></g></g>

<rect x="366.50" y="134.75" width="110.60" height="103.75" fill="none" stroke="#8a8a8a" stroke-width="0.9"/><rect x="367.20" y="135.45" width="109.20" height="102.35" fill="none" stroke="#999" stroke-width="1.0" stroke-dasharray="0.45 3.74"/><path d="M380.6 238.5v-1.6M380.6 134.8v1.6M366.5 226.8h1.6M477.1 226.8h-1.6M401.6 238.5v-1.6M401.6 134.8v1.6M366.5 206.8h1.6M477.1 206.8h-1.6M422.5 238.5v-1.6M422.5 134.8v1.6M366.5 186.8h1.6M477.1 186.8h-1.6M443.4 238.5v-1.6M443.4 134.8v1.6M366.5 166.8h1.6M477.1 166.8h-1.6M464.4 238.5v-1.6M464.4 134.8v1.6M366.5 146.8h1.6M477.1 146.8h-1.6" stroke="#666" stroke-width="0.6" fill="none"/><g font-size="8.0" fill="#1a1a1a" stroke="#1a1a1a" stroke-width="0.15"><text x="380.2" y="247.2" text-anchor="middle">−2</text><text x="365.0" y="229.7" text-anchor="end">−2</text><text x="401.2" y="247.2" text-anchor="middle">−1</text><text x="365.0" y="209.7" text-anchor="end">−1</text><text x="422.5" y="247.2" text-anchor="middle">0</text><text x="365.0" y="189.7" text-anchor="end">0</text><text x="443.4" y="247.2" text-anchor="middle">1</text><text x="365.0" y="169.7" text-anchor="end">1</text><text x="464.4" y="247.2" text-anchor="middle">2</text><text x="365.0" y="149.7" text-anchor="end">2</text></g>

<clipPath id="cP14"><rect x="525.80" y="135.35" width="106.10" height="100.30"/></clipPath>
<g clip-path="url(#cP14)"><g filter="url(#bl)"><rect x="521.8" y="131.3" width="114.1" height="108.3" fill="#00ff69"/><g transform="scale(.25)"><path fill="#00ff54" fill-rule="evenodd" d="M2335 563l14 0 14 0 16 1 14 2 12 2 14 4 13 4 14 6 12 6 14 8 12 9 10 8 9 8 9 10 8 10 8 11 0 182-3 5-8 10-8 10-17 16-10 8-12 8-22 13-24 9-25 6-26 4-26 1-20-2-16-2-18-4-18-6-18-8-16-9-16-11-14-11-12-12-11-14-10-14-8-16-7-16-5-16-3-18-2-16 1-18 2-16 4-18 5-14 7-16 9-16 10-14 12-14 14-13 14-10 14-9 16-8 16-7 18-6 18-4 21-3zM2311 645l-10 2-10 3-10 4-10 5-8 6-8 6-8 8-7 8-5 8-5 10-4 8-2 10-2 8-1 10 1 10 1 10 3 10 3 8 3 8 7 10 6 8 7 8 9 7 8 6 10 5 10 4 10 4 10 2 10 1 12 1 10-1 10-1 10-2 10-4 10-4 10-5 8-6 8-7 7-6 6-8 6-8 5-10 3-8 3-10 1-8 1-10 0-10-2-10-2-10-3-8-4-8-6-10-7-8-8-8-8-7-8-5-8-5-10-4-10-4-10-2-10-2-10 0-12 0zM2323 685l14 0 12 2 12 4 10 6 9 8 7 9 6 11 2 10 1 12-2 10-5 12-6 9-8 8-10 7-12 5-12 3-14 1-12-2-12-4-10-6-8-7-9-10-5-10-3-12 0-12 2-12 4-10 7-10 8-8 10-6 12-5zM2324 719l-5 1-6 3-4 4-3 4-2 4-2 4 0 6 1 4 2 6 4 4 4 4 4 2 4 2 6 1 6 0 6-1 6-2 4-2 5-4 3-4 2-4 1-4 0-6-1-4-1-4-3-4-4-4-4-2-4-2-6-2-6-1-6 1z"/><path fill="#00ff43" fill-rule="evenodd" d="M2329 575l14-1 16 0 14 0 16 2 18 4 15 4 12 4 14 7 14 8 12 8 12 9 9 9 9 10 8 10 8 12 8 14 0 137-5 9-8 12-12 16-15 15-16 13-20 13-22 9-21 7-20 4-24 3-16 0-18-2-20-3-16-4-18-7-16-7-14-8-14-10-12-11-12-12-9-12-9-14-7-14-7-16-4-16-3-16-1-16 1-16 2-16 4-16 6-16 7-14 8-14 11-14 11-12 14-12 14-10 14-8 18-9 16-5 16-5zM2313 643l-10 2-12 3-10 4-10 5-10 6-8 6-7 6-7 8-6 8-5 8-4 10-4 10-2 10-1 8 0 10 1 10 2 10 4 10 4 10 5 8 6 8 7 8 7 7 8 6 9 5 9 5 10 4 10 3 10 2 12 1 12 0 10-1 10-1 10-3 10-3 10-5 10-6 8-5 8-8 8-7 6-8 5-8 4-10 4-9 2-9 1-10 1-10-1-10-2-10-3-10-4-8-4-9-7-9-6-7-8-8-8-6-8-5-10-6-10-4-10-3-10-2-12-1-12-1-10 1zM2317 687l12-1 12 0 12 3 12 5 10 7 8 9 6 9 5 12 1 10-1 12-3 12-6 10-8 8-10 8-10 5-12 4-12 1-12-1-12-3-10-5-10-7-8-8-6-10-4-10-1-10 0-12 3-12 6-10 8-10 8-7 10-5zM2321 719l-5 2-5 3-3 3-3 4-2 4-2 6 0 4 2 6 1 4 4 4 4 4 5 3 6 2 6 1 6-1 6-1 6-2 4-3 6-7 2-4 2-6-1-6-1-4-2-4-4-5-4-3-6-3-10-2-6 0z"/><path fill="#00ff32" fill-rule="evenodd" d="M2339 581l14-1 16 1 16 1 14 3 14 3 17 6 14 6 12 6 12 8 12 9 10 10 10 10 9 12 7 12 7 12 5 12 0 104-9 20-6 10-7 10-12 15-14 13-16 12-18 10-18 8-21 7-18 4-20 2-18 0-16-1-18-3-16-4-16-6-14-6-14-8-14-10-13-11-12-12-9-12-9-14-6-14-6-16-4-14-2-16-1-16 1-16 2-16 5-16 6-16 7-14 9-14 10-12 11-12 12-10 13-9 14-8 14-6 18-6 16-4 19-3zM2316 641l-11 2-10 2-12 4-10 4-10 5-10 7-7 6-9 8-6 8-7 10-4 8-4 10-2 8-2 10 0 10 0 10 2 10 2 8 4 10 4 8 7 10 6 8 8 8 8 7 10 6 10 6 10 4 10 3 12 3 10 1 10 1 12-1 12-1 10-3 10-3 10-4 8-4 10-6 8-7 8-8 8-8 5-8 4-8 5-10 3-10 1-10 1-10 0-10-2-10-2-10-4-10-4-9-6-9-7-8-8-8-8-7-8-5-10-6-10-4-10-3-12-3-10-2-12 0-10 0zM2323 687l12-1 12 2 12 4 10 6 9 7 7 9 5 9 4 12 0 12-1 10-4 10-7 10-9 9-10 6-10 5-12 2-12 1-12-2-10-3-11-6-9-8-7-8-5-10-3-10-1-12 2-10 3-10 6-10 7-8 11-8 11-5zM2319 719l-6 3-4 3-4 4-2 4-3 6 0 4 1 6 1 4 3 4 4 5 5 3 5 2 10 2 6 0 6-1 6-3 4-3 4-3 4-6 2-4 0-6 0-6-2-4-3-4-3-4-4-3-6-3-6-1-6-1-6 0z"/><path fill="#00ff1f" fill-rule="evenodd" d="M2333 587l22-2 24 1 22 4 23 7 22 9 18 11 10 7 8 7 15 16 10 14 10 16 6 14 5 16 0 73-4 11-5 14-7 12-6 10-7 10-7 8-16 15-10 8-10 7-10 5-12 6-23 8-14 3-12 2-24 2-14 0-14-2-14-2-14-4-12-4-12-5-12-6-12-8-16-13-13-14-12-16-9-18-4-14-4-16 0-14 0-1 2-1 9 18 7 10 7 10 8 8 11 10 12 9 12 6 14 6 14 4 16 3 14 0 16-1 14-2 14-5 14-6 12-7 12-10 10-10 9-11 6-12 4-10 3-10 1-10 1-12-1-12-2-10-4-10-4-11-6-10-8-9-7-8-10-8-10-6-10-6-12-5-10-3-12-2-12-2-12 0-12 1-12 2-10 3-12 4-12 5-10 6-8 6-9 7-8 8-8 10-6 8-6 10-7 14-2 0 0-10 1-12 3-12 5-12 5-12 6-10 8-10 8-10 11-10 10-8 11-7 12-7 12-5 12-4 14-4 15-3zM2319 689l12-2 12 1 12 3 10 5 10 7 8 8 6 10 3 10 2 10-1 12-3 10-5 10-8 8-10 8-10 5-12 4-10 1-12-1-12-3-10-4-8-6-8-8-6-10-4-10-2-10 1-12 2-10 5-10 6-8 9-8 10-6 11-4zM2324 717l-5 1-6 3-6 4-3 4-3 6-2 4 0 4 1 6 2 6 3 4 4 4 4 3 6 2 6 2 6 0 6-1 6-1 4-2 5-3 4-4 3-4 2-6 1-6 0-4-2-6-3-4-3-4-5-3-6-3-6-2-6-1-6 1z"/><path fill="#01ff00" fill-rule="evenodd" d="M2345 591l20 0 22 1 20 5 23 7 18 9 18 11 15 13 13 14 13 18 8 16 7 20 4 18 2 17-1 21-4 20-7 18-9 18-11 16-14 16-16 13-18 12-20 9-21 7-20 4-22 2-22-1-22-4-20-6-18-8-10-6-9-6-7-6-8-8-4-6-4-6-1-4 1-2 4-1 28 10 12 3 14 3 16 1 12 0 12-1 12-2 10-2 12-5 12-5 10-7 10-7 8-8 9-10 6-9 6-12 5-16 2-8 0-10 0-10 0-8-4-16-3-8-4-9-11-15-12-12-14-11-16-9-16-6-18-4-18-2-18 1-16 2-16 4-28 10-4 0-2-1-1-2 1-2 1-4 4-6 5-6 11-10 15-10 16-9 16-6 18-4zM2325 689l12-1 12 2 10 4 10 5 8 7 8 9 5 10 2 10 1 12-2 10-4 10-6 9-8 8-10 7-10 4-12 3-12 0-10-2-10-3-11-6-9-8-6-8-5-10-2-10-1-12 2-10 4-10 5-8 7-8 9-6 9-5 12-3zM2320 717l-5 2-6 3-5 5-3 4-3 6 0 4 0 6 1 4 3 6 3 4 5 4 5 3 6 2 6 1 8-1 6-1 6-2 4-3 4-3 5-6 1-4 2-6-1-6-1-4-2-4-4-5-4-4-6-3-6-2-6-1-6 0-6 1z"/><path fill="#37ff00" fill-rule="evenodd" d="M2359 599l18 1 16 1 16 4 17 5 16 8 14 8 14 10 11 11 11 12 9 14 7 14 6 14 4 16 2 14 1 16-2 16-3 14-5 16-6 14-9 14-10 13-12 13-12 9-14 9-16 9-17 6-16 4-16 2-18 1-16-1-16-2-16-5-9-4-9-6-4-4 0-2 0-2 2-2 4-1 34-4 22-6 20-7 10-6 8-5 10-8 8-7 9-9 5-9 6-10 4-10 3-10 2-10 1-12-1-14-2-12-4-12-5-12-6-10-8-10-10-9-10-8-10-7-12-6-12-5-12-4-12-2-38-5-4-2-2-2 0-2 1-2 3-4 6-4 10-5 9-3 11-3 12-2zM2327 691l12 0 10 1 10 4 10 5 8 8 6 8 5 8 3 10 0 10-2 11-4 10-5 9-8 8-9 5-10 5-10 2-10 1-10-1-10-3-10-5-7-6-7-8-5-10-3-10 0-12 1-10 3-10 6-10 8-8 8-6 10-4 9-2zM2320 715l-7 2-6 3-6 5-3 4-2 4-2 6 0 6 1 6 3 6 3 4 5 4 5 3 6 3 8 1 8 0 6-1 6-2 6-3 6-5 3-4 2-4 2-6 0-6-1-6-3-6-3-4-5-4-5-3-6-2-6-2-8 0-6 1z"/><path fill="#6dff00" fill-rule="evenodd" d="M2361 607l14 0 14 1 14 2 14 4 13 4 14 7 12 8 12 9 10 9 10 12 8 12 6 12 5 12 4 12 3 14 1 14 0 14-2 14-3 12-5 14-5 12-8 12-8 11-10 11-10 9-12 8-12 7-14 7-15 4-14 4-14 1-14 1-16-2-12-3-8-4-2-2 0-2 0-2 3-2 3-2 28-11 20-10 16-11 8-7 7-7 8-9 6-9 4-8 4-10 3-10 2-10 2-10 0-10-1-10-2-10-3-10-3-8-9-16-6-8-8-8-14-13-16-11-18-8-29-12-3-2-2-2 0-2 1-2 5-4 12-4zM2331 693l8 0 6 1 12 3 6 3 6 4 10 9 4 6 2 5 3 7 1 6 0 12-2 7-2 6-3 7-5 6-4 4-6 5-6 3-8 4-8 2-6 0-10 0-8-2-7-2-7-4-7-6-3-4-2-4-1-4 1-2 4 2 12 5 8 2 10 1 8-1 8-3 8-4 6-6 5-8 2-6 0-4-1-6-1-4-3-6-4-4-4-3-6-4-6-2-6-2-12 0-10 2-16 7-2 0-1-2 2-6 5-6 4-4 6-4 6-3 6-2z"/><path fill="#a3ff00" fill-rule="evenodd" d="M2369 615l10-1 12 1 12 1 12 3 13 4 10 5 12 7 10 7 10 8 8 9 8 10 7 10 5 10 5 12 3 10 3 12 1 12 1 12-1 12-3 12-2 10-5 12-6 12-6 10-8 10-7 8-9 8-10 8-10 6-12 6-10 4-13 4-18 3-10 0-8 0-6-1-5-2-3-2-1-2 0-2 2-2 5-4 24-16 14-11 14-13 7-8 5-8 5-8 5-10 3-10 2-8 2-18 0-10-1-10-3-14-5-14-8-14-10-13-10-11-10-8-14-10-21-14-5-4-1-2 0-2 1-2 3-2zM2327 697l10-1 13 1 11 5 10 7 8 8 5 10 2 6 1 6 0 10-3 10-5 10-8 9-10 7-12 4-12 2-6-1-6-1-9-4-4-4-1-2 2-1 14-1 10-1 10-4 8-5 5-4 4-6 2-4 2-6 0-8-3-8-5-8-7-6-6-3-10-3-8-2-14 0-2 0-2-2 1-2 5-4 9-4z"/><path fill="#d9ff00" fill-rule="evenodd" d="M2385 623l8-1 10 1 10 2 11 3 10 4 10 5 10 6 8 6 8 7 8 9 6 8 6 10 5 10 4 10 4 10 2 10 1 12 0 10 0 10-2 10-2 10-3 10-4 10-5 8-6 10-6 8-6 7-8 7-8 7-10 6-8 5-10 4-17 5-16 2-6 0-6-1-3-2 0-2 1-4 4-4 18-16 12-12 9-10 8-12 7-14 5-14 3-14 1-14-1-14-2-14-5-14-5-12-9-14-11-13-12-12-19-17-3-4-1-4 1-2 3-2zM2331 701l8-2 8 1 10 3 8 4 7 6 5 6 5 8 2 10 1 8-2 9-3 9-5 7-6 7-8 5-8 3-10 2-6 0-4-1-2-1-1-2 3-2 8-3 8-4 6-4 6-5 5-6 3-6 1-8 0-6-1-6-2-4-4-5-4-5-4-3-6-4-8-4-9-3-3-2z"/><path fill="#fff700" fill-rule="evenodd" d="M2401 631l6 0 8 0 9 2 10 4 16 9 8 6 8 6 12 13 10 16 4 8 4 10 5 18 2 18-1 18-4 18-4 10-4 8-9 16-12 14-14 12-7 5-9 5-13 5-15 4-6 0-5-1-2-2 0-2 1-4 3-4 13-16 11-12 6-10 5-10 5-12 4-12 3-12 1-14-1-12-2-12-3-12-4-12-6-13-8-12-27-33-2-4 1-2zM2355 708l4 1 5 2 5 5 4 4 4 7 2 5 2 9 0 6-2 7-4 9-6 8-5 4-5 2-4 1 0-1 10-10 5-8 3-8 1-10-2-8-3-8-6-7-8-9z"/><path fill="#ffda00" fill-rule="evenodd" d="M2415 641l4-1 7 1 8 2 6 3 14 8 14 12 10 13 9 14 7 16 4 16 1 16-1 16-3 16-6 16-8 14-9 13-12 12-12 8-12 7-12 3-5 0-4 0-1-1-1-2 0-4 2-4 17-26 6-10 4-10 5-12 2-10 2-10 0-12 0-10-1-10-2-10-3-12-4-10-6-12-21-32-1-4 0-2 1-2z"/><path fill="#ffbc00" fill-rule="evenodd" d="M2428 651l4-1 4 1 6 2 6 3 12 8 10 10 8 11 8 14 5 14 3 14 2 14-1 14-3 14-4 12-5 12-8 12-9 11-10 9-10 7-10 3-6 1-3-1-1-2 0-4 2-4 13-26 6-16 5-20 1-18-1-18-3-18-7-18-15-32-1-4 0-2 1-2z"/><path fill="#ff9f00" fill-rule="evenodd" d="M2440 662l2 0 4 0 8 4 10 8 8 9 6 10 6 12 4 12 3 12 1 12-1 12-1 12-4 12-4 10-6 11-8 10-8 7-8 6-8 3-4 0-2-1-1-2 2-8 9-24 4-16 3-14 1-16-1-14-2-14-5-16-10-28-1-4 1-4z"/><path fill="#ff8200" fill-rule="evenodd" d="M2450 675l4 0 6 3 8 8 6 8 4 7 4 10 4 10 1 10 1 10 0 10-1 10-2 8-3 9-4 8-5 7-6 8-7 7-6 3-4 0-2-2 0-8 6-22 2-12 2-22 0-12-2-14-8-38 0-4 1-2z"/><path fill="#ff6600" fill-rule="evenodd" d="M2460 691l4 1 4 3 4 5 4 7 5 14 3 14 0 14-2 14-5 14-3 6-4 6-4 4-4 3-2 0-2-1-1-2 0-6 3-26 1-16-1-18-3-28 0-6 2-2z"/><path fill="#ff4900" fill-rule="evenodd" d="M2468 713l2 1 4 5 3 10 1 10 0 8 0 8-2 8-4 8-2 2-2 0-2-4-1-48 1-4 1-4z"/><path fill="#00ff7c" fill-rule="evenodd" d="M2315 647l10-1 10 0 10 0 10 2 10 3 10 3 10 5 8 5 8 5 8 8 7 6 6 8 6 10 3 8 3 8 3 10 1 10 0 10-1 8-2 10-3 10-3 8-5 10-6 8-7 7-8 7-8 6-8 5-8 4-10 4-10 3-10 2-10 2-10 0-10-1-10-2-10-2-10-4-10-4-8-5-8-6-7-6-7-8-6-8-5-8-5-10-3-8-2-10-1-10 0-10 1-10 1-8 4-10 3-8 4-8 6-8 7-8 6-6 7-6 9-6 8-4 10-5 10-3 11-2zM2315 685l-13 4-11 6-9 8-8 10-5 10-4 12 0 10 2 12 3 10 6 10 9 10 10 7 12 5 12 3 12 1 14-1 12-4 12-6 10-8 8-9 5-10 4-12 1-12-2-12-5-12-6-10-9-8-10-7-12-5-12-3-14-1zM2321 721l6-2 6 0 6 1 4 1 6 4 4 3 4 5 1 4 1 4 0 6-1 4-3 5-4 4-4 3-4 2-6 2-10 0-6-1-4-2-7-5-3-4-2-4-1-4-1-6 1-4 2-4 5-7 4-3 5-2z"/><path fill="#00ff8b" fill-rule="evenodd" d="M2327 647l10 0 10 1 10 2 10 2 10 4 8 4 8 5 9 6 7 7 7 7 6 8 5 8 4 10 3 8 2 8 1 10 0 10-1 10-2 10-2 8-4 8-4 8-7 9-6 7-6 6-8 6-8 5-10 5-10 4-10 3-10 2-10 1-10 0-10 0-10-2-10-3-8-3-10-5-9-5-8-6-6-6-7-8-6-8-5-8-3-8-4-10-2-9-1-9 0-10 1-10 2-10 3-8 3-8 5-8 5-8 7-8 6-6 8-6 9-6 8-4 10-4 10-3 10-2zM2319 683l-12 3-12 5-10 7-9 9-7 10-4 12-2 12 1 12 2 10 7 12 8 10 8 7 12 6 12 4 12 2 14 0 12-3 12-5 12-7 8-9 7-9 5-12 2-12 0-12-3-12-5-10-8-10-10-8-12-7-12-4-12-2-14 1zM2323 721l6-1 6 0 6 1 4 2 4 2 4 4 3 4 2 4 1 4 0 6-2 4-2 4-6 6-4 2-6 3-10 1-6-1-4-2-4-2-4-3-3-4-2-4-1-4-1-6 1-4 2-4 3-4 3-3 4-3 5-2z"/><path fill="#00ff9a" fill-rule="evenodd" d="M2321 649l10-1 10 1 10 1 10 2 10 3 8 3 10 5 8 5 8 7 7 6 5 7 7 9 4 8 3 8 3 8 2 10 1 10 0 8-1 9-3 9-3 10-4 8-4 8-6 8-7 7-8 7-8 6-8 4-8 4-10 4-18 4-10 1-10 0-10-1-10-2-10-3-8-3-8-4-10-6-7-6-7-6-6-8-6-8-4-8-4-8-2-8-2-10-1-10 0-10 1-10 2-8 2-8 4-9 4-7 6-9 7-7 6-6 8-6 9-6 9-4 9-4 10-2zM2313 683l-12 4-12 6-10 8-8 10-7 12-3 10-1 12 2 12 5 12 6 10 10 10 10 7 12 5 14 3 12 1 14-2 12-3 12-6 10-8 8-10 7-11 3-12 1-12-2-12-4-12-7-10-10-10-10-7-12-5-14-3-14-1zM2325 721l10-1 6 2 4 1 4 3 4 4 4 5 1 4 0 6-1 4-1 4-3 3-6 6-4 2-6 2-10 0-6-2-4-1-4-3-3-3-2-4-2-4-1-6 0-4 2-4 2-4 6-6 4-2z"/><path fill="#00ffab" fill-rule="evenodd" d="M2317 651l10-1 10 0 10 0 10 2 10 2 8 3 10 5 8 5 8 6 8 6 6 7 5 7 6 8 4 9 3 9 2 8 1 8 0 10 0 8-2 10-2 8-4 10-5 8-5 8-7 8-6 5-8 7-8 5-8 4-10 5-8 2-10 2-10 2-10 0-18-2-8-2-10-3-10-5-7-4-8-6-7-6-6-6-6-8-5-8-4-8-3-9-2-9-1-10-1-8 1-10 1-9 3-9 3-8 4-8 4-8 7-8 5-6 7-6 9-6 7-4 9-4 10-4zM2318 681l-15 4-12 5-10 7-10 10-7 10-5 12-1 12 0 12 4 12 7 12 9 10 9 7 12 6 12 4 14 2 14-1 14-3 12-5 10-7 10-9 7-10 5-12 2-12-1-12-3-12-6-11-8-10-10-9-12-6-12-4-14-3-14 1zM2329 721l4 0 6 1 8 3 5 4 3 4 2 4 1 4 0 4-1 4-2 4-3 4-7 5-4 2-6 1-6 1-4-1-4-1-5-3-6-6-3-4-1-4 0-4 0-4 2-4 2-4 3-4 4-3 4-1 6-2z"/><path fill="#00ffc7" fill-rule="evenodd" d="M2317 653l18-2 10 1 10 1 10 2 8 3 16 7 8 6 8 6 6 6 6 8 6 8 4 8 4 8 2 8 1 8 1 10 0 8-1 10-2 9-4 9-3 8-5 8-7 8-6 6-6 6-8 5-8 5-8 4-10 4-8 2-18 2-18-1-8-1-10-3-8-3-8-4-7-4-8-6-6-6-7-8-4-6-4-8-4-8-2-8-2-8-1-12 0-12 1-11 4-17 4-8 4-8 6-8 5-6 7-6 8-6 15-8 9-3zM2324 679l-13 2-14 4-12 6-11 8-10 10-6 10-3 8-2 6-1 6 0 6 0 6 2 6 5 12 4 6 4 6 10 9 12 8 14 6 12 2 14 1 14-1 14-4 12-6 10-8 9-9 7-12 3-12 1-6 1-8-2-12-5-12-6-10-10-10-12-9-12-5-14-3-14-1zM2323 723l4-1 6-1 6 1 4 2 4 2 4 3 3 4 2 4 1 4 0 6-2 4-2 4-4 4-2 2-6 2-4 1-6 1-4 0-8-3-7-5-3-4-1-4-1-4 0-4 1-4 2-4 5-6 7-4z"/><path fill="#00ffec" fill-rule="evenodd" d="M2331 655l12 0 10 1 10 1 12 4 10 5 10 6 8 6 8 8 6 8 7 9 4 10 4 12 1 10 1 11-2 11-2 10-4 10-4 10-7 8-8 9-8 7-10 7-10 5-12 5-12 3-12 1-12-1-10-1-10-3-10-4-9-6-7-7-1-3 1-1 4 0 22 4 16 1 8-1 10-2 14-5 8-4 6-4 10-8 5-6 4-6 4-8 3-6 2-10 0-10-1-10-2-8-5-10-5-8-7-7-8-7-8-5-10-5-10-3-10-1-10-1-10 0-28 5-2-1-1-1 2-4 4-4 5-4 7-4 13-5 15-3zM2329 723l6 0 4 1 8 3 2 2 4 4 2 4 1 4 0 4-1 4-4 6-4 4-3 2-9 3-6 0-4-1-8-4-2-2-4-4-2-6-1-4 1-4 1-4 3-4 6-5 9-3z"/><path fill="#00e6ff" fill-rule="evenodd" d="M2335 659l8 0 10 0 10 2 8 2 10 4 8 4 7 4 7 6 7 6 6 8 6 9 4 8 3 9 2 8 1 8 0 10-3 16-3 10-4 8-5 8-5 8-7 6-6 6-8 5-8 5-9 4-9 2-8 2-10 1-10-1-8-1-9-3-3-2-1-2 1-1 2-1 24-5 16-6 14-8 6-5 6-6 8-10 5-10 4-12 1-10-1-14-2-6-3-8-7-12-5-6-6-6-12-8-14-7-12-4-24-5-1-2 1-2 4-2 5-2zM2325 725l8-1 8 2 4 2 4 3 4 6 1 4 0 4-1 6-3 4-3 2-4 3-4 1-4 1-6 0-8-2-6-5-4-6-1-4 0-4 2-6 5-6z"/><path fill="#00b5ff" fill-rule="evenodd" d="M2345 665l6-1 6 0 8 1 8 2 14 6 12 8 6 5 6 7 8 11 7 14 2 7 1 8 1 14-2 15-5 13-8 13-10 12-10 9-14 7-13 5-9 1-8 1-7-2 0-2 2-2 19-10 10-7 10-9 7-8 7-12 4-12 2-12-1-14-2-8-3-10-5-8-7-9-8-8-8-6-10-6-16-9-2-2zM2325 726l8-1 8 2 7 4 4 6 1 4 0 4-2 6-3 4-3 2-4 2-4 2-8 0-6-2-6-4-4-6-1-6 1-6 4-6 6-4z"/><path fill="#0084ff" fill-rule="evenodd" d="M2369 673l4-1 4 1 10 4 10 6 10 9 8 11 6 10 4 12 2 10 1 12-2 12-3 10-6 12-6 8-8 9-8 7-10 5-6 3-6 1-4 0-1-1 1-2 2-2 12-12 8-8 5-8 5-8 3-10 2-8 1-10 0-10-2-8-2-8-7-14-5-7-6-7-15-14-1-2-1-2zM2329 727l8 0 6 2 5 4 3 6 1 6-3 6-3 4-2 2-7 2-8 1-6-2-4-3-2-2-3-6 0-6 2-6 5-5 7-3z"/><path fill="#0053ff" fill-rule="evenodd" d="M2391 688l2-1 2 1 6 4 6 6 6 7 4 7 5 10 2 7 1 10 0 8-1 8-2 10-3 5-4 8-4 6-6 7-6 5-6 3-2 0 0-2 11-20 5-12 2-14 1-14-2-10-3-12-5-10-9-16zM2327 729l4-1 4 0 6 2 5 3 4 6 0 6-2 6-5 5-6 2-6 1-6-2-6-4-3-4-1-6 2-6 3-4 6-4z"/><path fill="#0022ff" fill-rule="evenodd" d="M2413 718l5 7 1 7 2 9-2 14-2 7-2 4-2 3-1-2 2-24-2-24zM2325 731l6-2 6 1 6 3 4 4 2 6-1 6-5 5-6 3-6 0-6-1-4-3-3-4-1-4 1-6 2-4z"/><path fill="#0900ff" fill-rule="evenodd" d="M2329 731l6 0 4 1 5 3 3 4 0 6-1 4-4 4-5 2-6 1-4-1-3-2-2-2-3-4 0-6 1-4 5-4z"/><path fill="#2700ff" fill-rule="evenodd" d="M2329 733l4-1 5 1 4 2 3 4 1 4-1 4-3 4-5 3-6 0-4-1-3-2-3-4-1-4 1-4 4-4 3-2z"/><path fill="#4500ff" fill-rule="evenodd" d="M2329 734l4 0 4 1 4 2 2 2 1 4-1 4-2 2-4 3-4 1-4-1-4-2-2-3 0-2 0-4 2-4 3-2z"/><path fill="#6300ff" fill-rule="evenodd" d="M2329 737l2-1 4 0 3 1 2 2 2 2 0 4-3 3-2 2-2 0-4 0-3-1-2-2-1-2 0-4 1-2z"/><path fill="#8000ff" fill-rule="evenodd" d="M2331 739l4 0 3 2 1 2 0 2-2 2-2 1-4 0-2-1-1-2 0-2 0-2z"/></g></g></g>

<rect x="523.90" y="133.40" width="110.10" height="104.00" fill="none" stroke="#8a8a8a" stroke-width="0.9"/><rect x="524.60" y="134.10" width="108.70" height="102.60" fill="none" stroke="#999" stroke-width="1.0" stroke-dasharray="0.45 3.75"/><path d="M537.2 237.4v-1.6M537.2 133.4v1.6M523.9 225.8h1.6M634.0 225.8h-1.6M558.2 237.4v-1.6M558.2 133.4v1.6M523.9 205.8h1.6M634.0 205.8h-1.6M579.2 237.4v-1.6M579.2 133.4v1.6M523.9 185.8h1.6M634.0 185.8h-1.6M600.2 237.4v-1.6M600.2 133.4v1.6M523.9 165.8h1.6M634.0 165.8h-1.6M621.2 237.4v-1.6M621.2 133.4v1.6M523.9 145.8h1.6M634.0 145.8h-1.6" stroke="#666" stroke-width="0.6" fill="none"/><g font-size="8.0" fill="#1a1a1a" stroke="#1a1a1a" stroke-width="0.15"><text x="536.9" y="246.1" text-anchor="middle">−2</text><text x="522.4" y="228.7" text-anchor="end">−2</text><text x="557.9" y="246.1" text-anchor="middle">−1</text><text x="522.4" y="208.7" text-anchor="end">−1</text><text x="579.2" y="246.1" text-anchor="middle">0</text><text x="522.4" y="188.7" text-anchor="end">0</text><text x="600.2" y="246.1" text-anchor="middle">1</text><text x="522.4" y="168.7" text-anchor="end">1</text><text x="621.2" y="246.1" text-anchor="middle">2</text><text x="522.4" y="148.7" text-anchor="end">2</text></g>

<clipPath id="cP21"><rect x="65.90" y="271.10" width="106.45" height="99.80"/></clipPath>
<g clip-path="url(#cP21)"><g filter="url(#bl)"><rect x="61.9" y="267.1" width="114.4" height="107.8" fill="#00ff69"/><g transform="scale(.25)"><path fill="#00ff54" fill-rule="evenodd" d="M521 1130l16-1 16 1 14 2 16 3 14 5 14 7 12 7 12 8 12 10 9 10 9 12 7 12 7 14 5 14 3 14 2 16 0 25-1 13-5 18-7 18-10 18-10 14-13 13-14 11-16 10-18 9-14 3-6 1-6 0-6-2-4-3-9-14-5-6-7-6-10-6-9-4-8-2-8-2-8 0-14 1-19 7-6 1-6 0-6-3-4-3-3-3-2-4 0-2 0-2 2-4 9-11 4-7 4-10 1-8 0-6-2-6-3-5-4-3-6-4-6-2-8-1-16 0-26 2-10-1-8-4-6-4-3-6-1-4 1-6 5-6 8-6 10-5 8-4 8-2 20-1 10-2 8-3 6-6 3-5 3-6 1-6 1-8 0-14-3-24 0-8 3-7 5-7 7-5 6-3 15-7 20-6z"/><path fill="#00ff43" fill-rule="evenodd" d="M503 1154l12-1 14 0 14 2 14 2 14 4 12 4 12 6 12 7 10 7 10 9 7 8 8 10 7 12 4 10 4 12 3 12 1 14 0 14-2 14-3 12-5 14-6 12-8 12-10 11-12 10-12 8-12 6-12 4-10 1-8-1-8-3-14-6-14-6-10-3-14-4-25-4-6-2-5-3-4-4-2-6 0-20-1-12-4-8-7-6-9-4-10-3-12-1-22 0-8-1-4-2-5-3-2-2-2-4-1-4 2-4 4-4 8-5 14-6 26-5 6-2 6-3 4-3 5-8 5-12 1-12 2-28 1-6 4-6 6-6 10-6 11-4z"/><path fill="#00ff32" fill-rule="evenodd" d="M497 1166l10-1 12 0 12 1 12 2 14 4 16 5 12 6 10 5 10 7 8 7 8 9 8 9 6 10 3 8 5 12 2 10 2 12 0 14-2 12-2 12-5 12-6 12-6 10-7 8-10 9-10 7-12 6-10 4-8 1-10 1-10-2-13-4-47-15-7-3-6-4-6-6-3-6-5-20-3-8-4-6-5-5-8-4-10-3-10-1-20-2-8-2-7-3-2-2-2-4 1-4 3-4 9-5 12-5 27-6 5-2 6-4 3-4 2-4 4-10 3-12 3-24 1-6 3-6 5-6 7-5 10-4z"/><path fill="#00ff1f" fill-rule="evenodd" d="M499 1174l10-1 12 0 12 2 12 2 14 4 12 5 12 5 10 7 8 5 8 8 7 7 6 8 6 10 4 10 3 8 2 10 2 12 0 12-2 12-2 10-4 10-5 10-6 10-7 8-8 7-10 7-10 6-10 3-8 2-10 1-10-1-12-3-22-7-14-5-10-5-8-5-5-6-4-6-9-22-3-6-3-4-5-4-6-3-10-4-34-5-5-2-3-2-1-2-1-2 0-2 2-4 8-5 10-4 29-7 5-2 5-4 4-6 4-10 3-12 4-22 4-10 5-6 6-5 8-4z"/><path fill="#01ff00" fill-rule="evenodd" d="M503 1182l8-1 10 0 12 1 12 3 14 4 10 4 10 4 10 6 8 6 8 7 5 6 6 8 6 10 4 8 3 8 2 10 1 12 0 10-1 10-2 10-4 10-5 10-5 8-8 9-8 7-10 7-8 4-10 3-10 2-8 1-10-1-8-2-16-4-14-6-10-5-8-5-6-6-5-8-10-20-3-6-4-4-5-4-4-2-8-3-31-7-5-2-3-2-1-2 0-2 1-2 2-2 5-3 10-4 26-6 5-3 5-3 3-5 4-8 10-34 4-10 4-5 6-5 6-3 9-3z"/><path fill="#37ff00" fill-rule="evenodd" d="M511 1194l8-1 10 0 10 1 10 2 10 3 10 4 8 4 8 4 8 6 6 6 11 13 5 8 3 8 3 8 2 10 1 10 0 10-2 10-2 8-4 10-4 8-6 8-5 5-6 6-8 6-8 4-8 3-10 2-8 1-8 0-9-1-11-3-10-3-10-5-7-5-7-6-7-8-6-8-8-17-6-7-6-5-6-3-26-8-2-2-1-2 1-2 3-2 25-7 6-3 4-4 3-4 3-4 12-30 4-8 4-6 4-4 5-5 6-3z"/><path fill="#6dff00" fill-rule="evenodd" d="M519 1202l8-1 8 0 16 2 8 3 10 3 14 8 12 11 10 12 8 14 4 14 1 8 0 8 0 8-2 8-2 8-3 8-8 12-4 6-7 6-7 5-6 4-8 3-8 2-14 2-12-1-14-4-12-5-10-6-8-7-6-7-5-8-8-16-4-6-6-6-12-8-1-2 0-2 2-2 11-8 6-7 3-7 12-24 8-13 6-6 6-4 6-3 7-2z"/><path fill="#a3ff00" fill-rule="evenodd" d="M523 1208l14-1 14 2 14 4 14 7 12 10 9 10 7 12 4 14 2 14 0 8-1 8-4 14-6 12-9 11-10 8-12 6-6 2-8 2-12 0-14-2-14-5-12-7-8-7-7-8-5-8-9-16-8-12-2-4 0-4 1-4 9-13 10-23 7-11 6-7 6-5 8-4 9-3z"/><path fill="#d9ff00" fill-rule="evenodd" d="M531 1212l12 0 14 3 12 4 12 8 10 9 8 10 6 12 4 14 0 14-2 14-4 12-7 12-10 10-11 7-12 4-12 2-12 0-12-3-12-5-10-7-8-7-6-9-14-26-4-8 0-6 3-6 12-26 5-8 4-6 6-6 8-6 8-4 11-2z"/><path fill="#fff700" fill-rule="evenodd" d="M533 1216l14 1 12 2 12 6 10 6 9 9 7 10 6 12 2 12 1 14-2 12-5 12-6 10-10 9-10 7-12 4-11 2-11-1-12-2-12-6-9-7-8-8-7-10-10-20-2-8-1-4 1-4 4-10 8-18 8-12 8-8 8-5 8-3z"/><path fill="#ffda00" fill-rule="evenodd" d="M533 1220l12 0 12 2 12 5 10 7 9 8 7 10 4 10 3 12 1 12-2 12-4 10-6 10-8 9-10 7-10 4-12 2-12 0-12-3-10-5-9-6-7-8-7-10-8-16-3-10 0-8 4-10 7-16 7-10 6-7 8-5 8-4 8-2z"/><path fill="#ffbc00" fill-rule="evenodd" d="M529 1224l10-1 12 1 10 3 10 5 10 8 7 8 6 10 4 10 2 12-1 10-3 12-4 10-7 9-8 7-10 5-10 4-10 1-12-2-12-4-10-6-8-7-6-9-7-12-5-12 0-8 1-8 6-14 5-10 6-8 8-7 8-4z"/><path fill="#ff9f00" fill-rule="evenodd" d="M527 1228l10-2 12 1 10 3 10 4 8 6 8 9 6 9 4 10 2 10-1 12-2 10-4 10-7 8-8 7-8 5-10 3-10 2-10-1-10-3-10-6-8-6-7-9-6-10-5-12-1-8 1-8 3-10 6-12 6-8 6-6 7-5z"/><path fill="#ff8200" fill-rule="evenodd" d="M533 1230l10-1 10 2 10 3 8 5 8 7 6 8 5 8 3 10 1 10-1 10-3 10-5 9-6 7-8 7-8 4-10 2-10 1-8-2-10-3-8-5-8-7-6-8-5-11-4-10-1-8 2-8 3-10 6-10 6-8 7-6 8-4z"/><path fill="#ff6600" fill-rule="evenodd" d="M531 1234l8-2 10 1 10 3 8 4 8 6 6 7 6 9 2 8 2 10 0 10-3 10-4 8-6 8-7 5-8 4-8 3-10 1-8-1-10-3-8-5-7-6-6-8-5-8-3-10-2-8 1-8 4-10 4-8 4-6 6-6 6-4 8-4z"/><path fill="#ff4900" fill-rule="evenodd" d="M535 1236l8-1 10 2 8 3 8 4 6 6 6 8 4 8 2 8 1 10-1 8-2 8-5 8-5 6-6 5-8 4-8 2-8 1-10-2-8-3-8-5-6-6-6-7-4-9-3-8 0-6 0-8 3-9 5-9 5-6 6-6 8-4 7-2z"/><path fill="#ff2d00" fill-rule="evenodd" d="M531 1240l8-1 8 0 8 2 8 3 6 4 6 7 5 7 4 8 1 8 0 8-1 8-3 8-6 8-6 5-8 5-6 2-8 1-8-1-8-2-8-4-6-5-6-7-4-8-3-8-1-8 0-6 2-8 4-8 4-6 6-6 6-4z"/><path fill="#ff1c00" fill-rule="evenodd" d="M537 1242l8 0 8 1 8 3 6 4 6 6 4 6 3 6 2 8 0 8-1 7-2 7-4 7-4 5-6 4-6 3-8 2-6 1-8-1-7-3-7-4-6-5-5-7-3-6-3-8 0-6 1-8 2-8 4-6 5-6 5-5 6-3z"/><path fill="#ff1500" fill-rule="evenodd" d="M535 1246l6-1 8 0 6 2 6 3 6 5 5 5 4 6 2 8 1 8 0 6-2 8-4 6-4 5-6 5-6 3-6 1-8 0-6-1-6-2-6-3-6-6-4-5-3-7-2-6-1-6 1-6 1-6 3-6 4-6 5-4 4-3 7-3z"/><path fill="#ff0f00" fill-rule="evenodd" d="M533 1250l6-1 6-1 6 2 7 2 5 4 5 4 4 6 2 6 2 6 0 6-1 6-2 6-4 5-4 5-6 4-5 2-7 1-6 0-6-2-6-3-5-4-4-4-4-6-2-6-1-6 0-6 1-4 2-6 3-6 4-4 4-3z"/><path fill="#ff0900" fill-rule="evenodd" d="M535 1254l4-1 6-1 6 2 6 2 4 3 4 4 4 5 1 4 2 6 0 6-1 4-2 6-2 4-4 4-5 4-5 2-6 1-4 0-5-1-5-2-6-4-4-4-3-6-2-4-1-4 0-6 0-5 2-5 3-4 3-4 4-4 5-2z"/><path fill="#ff0300" fill-rule="evenodd" d="M537 1258l4-1 6 1 8 2 5 4 3 4 4 8 0 6 0 4-3 8-3 4-4 3-4 2-4 1-8 0-5-2-4-2-6-6-2-4-2-4-1-8 2-8 3-4 3-4 4-2z"/><path fill="#00ff7c" fill-rule="evenodd" d="M416 1186l4-1 4 0 4 1 4 2 3 4 2 4 3 8 1 10-1 6-1 4-3 4-2 4-4 3-4 1-4 1-4-1-6-2-4-4-2-2-3-6-1-4-1-10 1-6 2-4 2-4 3-4 6-4zM412 1300l8-1 6 1 6 1 6 2 4 2 3 3 3 4 1 4 1 4-1 6-1 5-4 5-4 4-4 3-4 2-6 1-10 0-6-1-6-2-5-3-5-4-3-4-3-6-1-8 1-4 2-4 4-4 4-2 6-2 7-2zM497 1382l4-1 6 0 10 3 8 4 4 6 2 4 0 4-2 6-3 4-3 2-6 3-4 1-8 0-9-2-7-4-4-6-2-4 0-4 1-6 3-4 2-2 3-2z"/><path fill="#00ff8b" fill-rule="evenodd" d="M420 1198l4-1 2 0 4 2 3 5 1 4 1 6-2 6-3 5-4 2-4 0-4-1-4-4-2-6-1-6 1-4 4-5 3-3zM414 1302l10 0 10 2 4 1 3 3 4 6 1 4 0 4 0 4-2 4-4 4-2 2-4 3-6 1-4 1-6 0-8-2-4-2-4-4-4-3-2-4-1-4 0-4 1-4 2-4 6-5 4-2 5-1zM505 1390l4 0 4 1 3 3 1 2 0 4-1 2-5 2-4 1-4-1-3-2-1-2-1-4 1-2 2-3z"/><path fill="#00ff9a" fill-rule="evenodd" d="M418 1304l8 0 8 2 5 4 2 2 2 4 0 6-1 4-2 3-6 5-8 3-8-1-8-3-6-5-3-6 0-6 1-4 2-2 5-4 7-2z"/><path fill="#00ffab" fill-rule="evenodd" d="M414 1308l6-2 8 1 4 1 3 2 3 4 1 4-1 6-2 4-3 2-4 2-5 1-7-1-5-3-4-4-3-5 1-4 2-4 5-4z"/><path fill="#00ffc7" fill-rule="evenodd" d="M418 1311l4-1 4 0 4 2 2 2 2 2 0 4-2 4-3 2-3 1-4 0-4-1-4-2-1-2-1-4 1-4 3-2z"/></g></g></g>

<rect x="64.25" y="269.60" width="110.35" height="103.00" fill="none" stroke="#8a8a8a" stroke-width="0.9"/><rect x="64.95" y="270.30" width="108.95" height="101.60" fill="none" stroke="#999" stroke-width="1.0" stroke-dasharray="0.45 3.76"/><path d="M77.4 372.6v-1.6M77.4 269.6v1.6M64.2 361.4h1.6M174.6 361.4h-1.6M98.5 372.6v-1.6M98.5 269.6v1.6M64.2 341.3h1.6M174.6 341.3h-1.6M119.5 372.6v-1.6M119.5 269.6v1.6M64.2 321.2h1.6M174.6 321.2h-1.6M140.6 372.6v-1.6M140.6 269.6v1.6M64.2 301.1h1.6M174.6 301.1h-1.6M161.6 372.6v-1.6M161.6 269.6v1.6M64.2 281.0h1.6M174.6 281.0h-1.6" stroke="#666" stroke-width="0.6" fill="none"/><g font-size="8.0" fill="#1a1a1a" stroke="#1a1a1a" stroke-width="0.15"><text x="77.0" y="381.2" text-anchor="middle">−2</text><text x="62.8" y="364.3" text-anchor="end">−2</text><text x="98.0" y="381.2" text-anchor="middle">−1</text><text x="62.8" y="344.2" text-anchor="end">−1</text><text x="119.5" y="381.2" text-anchor="middle">0</text><text x="62.8" y="324.1" text-anchor="end">0</text><text x="140.6" y="381.2" text-anchor="middle">1</text><text x="62.8" y="304.0" text-anchor="end">1</text><text x="161.6" y="381.2" text-anchor="middle">2</text><text x="62.8" y="283.9" text-anchor="end">2</text></g>

<clipPath id="cP22"><rect x="213.90" y="270.10" width="106.95" height="99.50"/></clipPath>
<g clip-path="url(#cP22)"><g filter="url(#bl)"><rect x="209.9" y="266.1" width="115.0" height="107.5" fill="#00ff69"/><g transform="scale(.25)"><path fill="#00ff54" fill-rule="evenodd" d="M1073 1112l14-1 16 0 16 2 14 3 14 4 14 5 16 9 12 8 12 9 10 10 9 9 10 14 7 12 7 16 5 14 4 16 1 14 1 16-1 14-2 16-3 14-6 16-7 14-8 14-9 12-11 12-13 12-12 9-12 8-12 6-14 6-16 5-14 3-12 0-14-1-10-4-8-6-16-20-9-7-13-7-31-11-12-7-5-4-5-6-3-6-3-8-1-10 1-10 2-12 5-20 1-6 1-8-1-8-2-10-3-8-9-22-4-14-1-10 0-8 2-10 3-8 6-12 10-12 14-13 14-10 14-8 14-6 18-6zM1075 1220l-9 2-11 4-5 4-3 4 1 6 5 14 2 12 0 14 0 4-2 4-3 2-2 1-14 3-6 2-6 4-2 2-1 4 0 4 1 4 4 7 4 3 4 2 4 1 4 0 6-2 4-4 2-5 8-13 3-3 5 0 3 0 14 2 13 4 15 7 6 1 6-1 6-5 2-2 2-3 2-5-1-6-2-16-4-22-3-10-4-8-3-4-5-3-10-5-8-2-8-2-8 0z"/><path fill="#00ff43" fill-rule="evenodd" d="M1075 1120l14-1 14 0 14 2 14 3 14 4 14 6 14 7 12 8 10 8 11 9 8 10 9 12 7 14 6 14 5 14 3 14 2 16 0 14-1 14-2 14-3 12-5 14-5 12-7 12-9 12-10 12-13 12-12 10-12 8-10 5-14 6-14 5-12 2-14 1-12-2-10-4-6-4-16-17-8-6-12-6-27-11-8-4-6-4-7-7-4-6-4-8-2-8-1-8 1-8 1-10 4-18 1-8 0-6-1-8-2-10-3-8-9-22-3-12 0-8 0-8 2-8 2-8 6-10 9-12 12-11 14-11 14-9 14-6 18-6zM1069 1220l-11 4-7 2-4 4-2 4 0 6 6 14 3 10 0 8 0 6-1 4-1 4-3 2-3 2-14 4-8 3-4 3-2 2-2 6 1 4 1 4 3 4 3 3 4 3 4 2 4 1 4 0 6-2 4-4 10-16 2-2 4-3 4 0 11 1 13 3 9 4 12 10 4 1 4-1 4-3 8-7 3-6 1-6-9-48-4-10-5-7-4-4-4-3-6-2-8-3-16-2-6 0-7 1z"/><path fill="#00ff32" fill-rule="evenodd" d="M1071 1126l14-1 14 0 12 0 14 3 14 4 14 5 14 7 12 7 12 9 10 8 8 10 8 10 8 14 5 12 4 12 4 14 2 14 1 12-1 14-1 14-3 12-4 14-6 14-6 12-8 12-10 12-11 11-12 11-12 8-12 7-10 5-14 4-14 3-12 0-12-1-10-5-6-4-15-14-8-6-10-5-28-12-7-4-5-4-6-6-5-6-4-8-2-8-1-8 0-8 2-8 3-18 1-8-2-14-2-10-2-7-9-21-3-12-1-8 1-8 1-6 3-8 5-10 9-12 12-12 12-9 12-8 14-6 14-5zM1074 1218l-10 2-12 4-4 3-4 3-2 4 0 4 8 16 3 10 0 10-1 8-2 3-5 3-17 6-7 2-4 4-3 6 0 4 1 4 3 6 3 4 5 4 4 2 6 1 4 0 4-1 4-2 4-5 10-15 2-2 4-2 5-1 6 1 8 1 8 3 10 6 8 11 4 2 2 0 4-2 8-6 7-9 2-4 1-4-1-8-9-42-3-10-4-8-4-4-5-3-10-5-16-3-8-1-6 0z"/><path fill="#00ff1f" fill-rule="evenodd" d="M1073 1130l14-1 14 0 12 1 14 3 14 4 12 4 12 6 14 9 10 7 8 8 8 7 7 10 7 12 6 12 5 14 3 12 2 12 1 14 0 14-2 14-2 12-4 14-5 12-6 12-8 12-10 12-11 12-11 10-10 8-12 7-12 5-12 4-14 3-12 0-10-1-10-4-8-6-13-12-8-6-10-5-24-11-10-6-7-6-5-6-4-8-3-8-1-8 0-8 4-20 1-8-2-12-4-22-4-10-6-14-3-10-1-8 1-6 1-6 2-8 6-12 7-10 12-12 12-9 12-8 14-7 14-4 14-4zM1068 1218l-14 4-6 2-6 4-2 4 0 4 1 4 7 12 3 10 1 6 0 6-1 4-2 4-1 3-4 3-20 6-8 4-4 2-1 2-1 2 0 4 1 4 2 6 3 4 4 4 4 3 6 3 6 2 4 0 6-2 4-3 10-16 4-5 4-2 5-1 6 0 6 1 11 4 5 4 4 4 7 12 2 2 3 1 4-2 4-2 4-4 6-6 4-6 2-5 1-8-11-52-4-9-4-7-4-4-6-3-12-5-18-3-6 0-7 1z"/><path fill="#01ff00" fill-rule="evenodd" d="M1077 1134l14-1 16 1 16 3 16 4 16 6 16 9 14 9 10 9 10 10 7 12 8 16 6 16 4 16 1 14 1 14-2 16-4 20-4 10-4 10-10 18-14 18-14 16-15 12-8 5-8 5-8 3-10 3-12 3-10 0-10-1-8-3-10-6-15-14-8-6-8-4-24-11-9-6-8-8-5-10-2-10 0-6 2-3 2-1 2 1 13 9 11 5 8 1 6-1 4-3 2-3 7-15 5-5 6-4 7-1 6 1 5 1 5 2 4 4 5 4 2 4 3 12 2 4 2 1 2 1 4-1 8-5 8-8 8-12 3-8 0-4-1-6-8-31-3-15-2-8-4-8-7-6-8-5-10-4-12-2-8-1-7 0-18 4-10 3-4 3-3 2-3 6 1 4 2 4 8 12 2 6 1 6 0 6 0 5-2 5-3 2-3 3-5 1-25 7-4-1-2-1-4-7-4-12-4-23-8-19-3-10 0-8 0-8 3-8 2-6 6-10 8-10 12-10 12-9 12-7 12-5 12-4 14-3z"/><path fill="#37ff00" fill-rule="evenodd" d="M1083 1142l12 0 14 1 14 2 12 3 12 4 14 6 14 7 8 6 8 7 8 8 5 8 7 12 4 10 4 12 3 14 2 12 0 18-2 16-5 16-6 16-18 30-12 18-7 8-6 6-7 5-8 6-10 4-12 4-10 2-10 1-8-1-8-3-8-5-6-7-6-10-7-14-6-8-4-6-2-10 1-6 1-6 3-8 5-6 4-3 5-1 8 0 8 4 5 4 3 6 1 4 1 6-4 14 0 4 2 2 6-1 6-2 6-3 6-4 6-5 6-7 4-6 4-7 3-7 1-8-2-11-8-29-4-20-4-8-4-6-7-6-9-4-12-3-14-3-12 1-17 2-8 2-8 3-3 2-4 4-2 4 0 4 1 4 12 12 3 6 2 8 0 8-3 6-5 4-9 3-10 1-4-1-4-2-3-3-3-6-3-10-1-24-6-18-1-8 0-6 1-6 2-8 3-6 9-12 13-12 13-9 14-7 16-5z"/><path fill="#6dff00" fill-rule="evenodd" d="M1099 1152l14 0 12 1 12 3 12 3 12 5 12 6 8 5 6 5 8 8 5 8 5 10 5 12 4 12 2 12 2 12 0 12-1 12-2 10-3 10-4 10-4 8-11 17-15 29-6 8-9 9-12 8-12 6-14 4-12 0-6-1-5-2-3-2-4-4-3-4-1-4 1-4 2-4 8-6 19-13 10-9 6-7 4-7 4-7 3-9 2-10-2-10-3-14-6-18-3-14-5-12-5-8-7-6-10-4-12-3-16-2-11 0-30 4-20 7-4-1-2-3-2-4 0-4 0-6 2-6 6-9 10-11 12-10 14-8 14-6 11-2zM1018 1246l2-1 4 0 8 4 7 5 4 6 1 4 1 4-1 6-2 4-2 2-6 3-8 1-6 0-6-4-3-6-2-8 0-8 3-8 4-4zM1073 1314l6-1 7 1 5 4 4 6 1 6-1 4-1 4-5 6-6 4-6 1-6-2-4-3-4-6-1-6 1-8 4-6 5-4z"/><path fill="#a3ff00" fill-rule="evenodd" d="M1109 1160l10 0 10 0 10 1 10 3 10 3 12 6 8 5 6 6 6 6 5 6 5 10 4 10 4 12 2 10 2 12 1 12-1 10-1 10-3 10-4 10-5 10-12 18-14 28-9 12-9 8-11 7-10 3-12 2-6 0-4-1-2-1-4-2-2-3 0-3 1-4 3-4 20-18 10-12 4-7 3-7 3-7 2-8 1-11-2-12-3-12-6-16-4-18-3-8-5-7-4-5-8-4-10-4-14-3-14-2-25 1-16 0-6-2-2-2-1-4 1-6 4-6 6-6 8-5 12-6 17-8 16-4 15-3zM1024 1252l4 0 6 3 4 3 3 6 0 6-1 4-4 4-5 2-5 1-4-1-4-3-3-5-1-6 1-6 3-5 2-1 2-2zM1073 1318l4-1 6 1 5 2 3 4 0 4-1 6-3 4-4 3-6 1-4-1-3-3-2-4-1-4 1-5 2-3z"/><path fill="#d9ff00" fill-rule="evenodd" d="M1117 1164l8 0 10 1 10 2 8 2 16 7 8 5 6 5 6 6 4 6 7 16 4 12 3 10 2 10 1 12 0 10-1 10-3 10-3 10-7 12-12 18-12 24-5 8-8 8-8 6-8 5-10 2-8 0-3-3-1-2 1-4 5-7 12-15 6-10 6-16 2-8 1-8 0-10-4-16-7-20-5-20-4-10-4-6-5-4-8-4-8-4-12-2-16-3-8 0-17 1-8-1-4-1-4-2-1-2-1-2 0-2 1-4 5-6 6-4 12-7 13-6 12-4 16-3zM1024 1258l4-1 4 2 2 1 3 4 0 4-1 4-2 3-3 1-3 1-4-1-2-2-3-4 0-4 0-4 2-2 2-2zM1077 1322l2 0 3 0 3 2 1 2-1 5-2 3-2 1-4 1-2-2-2-2-1-2 1-4 1-2 2-2z"/><path fill="#fff700" fill-rule="evenodd" d="M1111 1168l8 0 10 0 10 1 8 2 10 3 8 3 6 3 6 4 10 10 4 6 3 6 7 18 4 18 2 16-1 16-3 14-7 16-5 8-12 18-12 20-8 9-4 3-6 4-4 1-2 0-2-2 0-3 4-8 4-12 4-14 3-14 0-12-1-12-3-12-7-18-5-20-3-6-3-6-5-5-6-4-6-3-8-3-12-3-16-2-21 0-6-1-4-1-3-2-2-2-1-2 1-4 5-6 5-4 9-5 9-4 10-3 12-3zM1028 1266l2 0 0 3-2 0-1-3z"/><path fill="#ffda00" fill-rule="evenodd" d="M1103 1172l16-2 16 1 16 4 14 5 10 6 5 4 5 6 6 10 5 14 5 18 3 20-1 16-1 8-3 8-4 10-6 10-18 25-6 7-4 3-2 1-2-2-1-6 3-30-1-8-1-10-3-12-6-18-7-22-2-6-4-6-4-4-6-4-6-3-8-3-10-3-16-2-27-2-4-1-3-2-1-2 0-4 3-4 4-4 7-4 15-7 10-2 13-3z"/><path fill="#ffbc00" fill-rule="evenodd" d="M1105 1174l16-1 14 1 14 3 14 5 10 6 7 6 6 8 6 12 5 18 4 22 0 16-1 8-2 8-4 10-5 10-6 8-12 14-4 3-2 1-2-1-2-5 0-6 0-20-4-18-14-46-3-6-5-6-3-4-6-4-7-3-6-2-8-3-14-2-29-3-4-1-2-2-1-2 0-2 2-4 5-4 8-4 13-5 21-5z"/><path fill="#ff9f00" fill-rule="evenodd" d="M1105 1176l14-1 14 1 12 2 14 4 8 4 8 7 7 7 5 10 7 18 4 20 1 16-1 8-1 8-4 12-5 10-5 8-8 8-4 3-2 1-2 0-2-3-1-9-2-18-4-16-13-40-4-8-4-6-5-4-5-4-14-5-12-3-33-4-5-2-2-2-1-2 2-4 5-4 6-3 14-5z"/><path fill="#ff8200" fill-rule="evenodd" d="M1107 1178l14-1 12 1 12 2 12 4 8 4 8 6 6 7 5 7 6 16 5 20 2 18-2 14-2 10-4 10-6 9-6 6-4 3-2 0-2-1-2-5-1-6-4-22-13-40-4-10-7-10-5-4-6-3-12-5-12-3-30-5-5-2-2-2 0-2 3-4 8-5 12-4 17-3z"/><path fill="#ff6600" fill-rule="evenodd" d="M1107 1180l12-1 12 1 12 2 12 3 8 4 8 6 6 7 5 6 5 14 5 18 2 18 0 14-2 8-3 8-4 9-4 5-4 4-2 1-2 0-2-3-2-6-5-20-13-40-5-10-7-9-8-7-12-5-12-3-30-6-4-2-1-2 0-2 2-2 7-4 12-3z"/><path fill="#ff4900" fill-rule="evenodd" d="M1109 1182l12-1 12 1 12 2 10 4 8 4 6 4 6 6 4 6 6 14 4 16 3 18 0 12-1 8-3 8-3 6-4 6-4 3-2-1-2-2-2-6-19-56-4-8-7-8-8-6-12-6-12-4-20-4-7-2-3-2 0-2 1-2 4-2 11-3 13-3z"/><path fill="#ff2d00" fill-rule="evenodd" d="M1111 1184l10 0 10 0 10 2 10 3 8 3 6 4 6 4 4 6 6 12 5 14 3 18 1 14-3 13-2 6-4 6-2 1-2 0-2-2-3-6-18-50-4-8-7-8-8-6-12-6-14-4-16-4-5-2-1-2 2-2 4-2 6-2z"/><path fill="#ff1c00" fill-rule="evenodd" d="M1123 1186l16 2 16 5 6 3 6 4 4 5 4 5 4 10 5 14 2 16 1 12-2 10-2 5-2 3-2 1-2-1-4-8-17-42-4-8-5-6-7-6-9-5-12-5-16-6-3-2 1-2 6-2 8-1z"/><path fill="#ff1500" fill-rule="evenodd" d="M1123 1190l6 0 8 1 9 1 7 3 10 5 4 4 4 4 3 6 3 9 4 11 2 12 0 10-1 8-1 2-2 2-2-1-4-6-13-31-6-10-7-7-6-6-6-4-16-9-1-2z"/><path fill="#ff0f00" fill-rule="evenodd" d="M1139 1197l2 0 4 0 6 1 4 2 7 4 5 6 4 7 4 13 2 10 0 4-2 3-4-5-8-16-7-10-17-18z"/><path fill="#00ff7c" fill-rule="evenodd" d="M936 1208l6 0 4 2 4 4 4 6 16 34 4 12 2 12-1 10-2 10-5 14-6 12-4 6-6 5-4 2-6 0-6-2-8-4-8-7-6-8-5-8-4-10-3-10-1-12 0-12 1-10 3-10 4-10 5-8 6-8 8-7 6-3zM1075 1222l8-1 8 1 10 2 8 2 6 4 4 4 4 4 3 6 3 10 3 22 1 14 0 6-4 5-4 3-4 2-6 1-8 0-43-12-3-1-2-2-3-28-1-10-4-14 0-4 2-4 5-4 9-4 7-2zM1034 1296l8-1 8 0 4 1 1 2-1 8-3 8-4 6-5 4-6 0-6-2-5-4-3-6 0-6 2-4 4-3 5-3zM1004 1394l6-1 10 1 8 2 8 4 4 4 2 2 1 4 0 2-1 3-5 3-5 2-8-1-8-2-9-5-5-4-4-6 0-4 1-2 4-2z"/><path fill="#00ff8b" fill-rule="evenodd" d="M1073 1224l8-1 6 0 8 0 8 2 6 3 6 3 6 5 3 4 3 8 2 8 2 20 0 14-2 5-4 4-6 4-6 1-6 0-6-1-27-7-8-3-4-4-2-3-1-6-5-42 1-4 4-4 5-2 8-4zM936 1228l6-1 4 1 4 3 4 4 6 9 5 10 3 8 3 10 0 8-1 6-1 6-3 8-4 8-4 5-4 3-4 2-4 0-6-1-6-3-5-4-5-6-3-6-3-8-2-8-1-8 0-8 1-8 2-8 4-8 3-6 5-4 5-4zM1042 1296l4 1 4 1 2 2 0 2 0 6-3 6-3 5-4 3-4 1-3-1-3-1-5-3-3-4-1-6 1-4 4-4 6-2 6-2z"/><path fill="#00ff9a" fill-rule="evenodd" d="M1077 1224l6 0 8 0 8 1 8 3 6 3 5 3 4 4 3 6 3 10 2 20 0 8-1 7-2 5-6 4-6 3-6 1-6 0-8-1-22-6-7-5-2-2-2-4-2-10-3-22-1-8 1-6 1-4 5-4 8-4zM940 1242l4-1 4 1 4 3 4 4 6 11 3 12 0 10-1 6-2 5-2 4-4 4-4 3-4 0-2 0-4-1-4-2-4-4-6-9-2-10-1-12 2-10 5-8 3-4 3-2zM1036 1298l6 0 4 1 2 1 2 4 0 4-2 6-4 5-4 2-6-1-4-2-4-4-1-4 0-4 3-4 4-2 3-2z"/><path fill="#00ffab" fill-rule="evenodd" d="M1075 1226l6-1 8 0 8 1 8 2 6 3 6 3 4 4 2 6 4 10 2 18 0 6-1 8-1 4-6 5-6 4-6 1-6 0-8-1-18-4-8-5-3-3-2-3-3-8-2-14-1-14 1-8 1-4 4-4 6-3zM942 1258l4-2 4 2 4 4 2 4 1 6 0 8-2 4-3 4-4 2-4-2-4-3-3-5-1-6 0-6 2-6 3-4zM1036 1300l4 0 4 0 2 2 2 2 0 4-1 4-3 5-4 2-4 0-4-2-2-1-3-4 0-4 1-2 2-4 4-2z"/><path fill="#00ffc7" fill-rule="evenodd" d="M1083 1226l6 0 8 1 6 1 6 3 6 3 4 4 3 4 2 6 3 10 1 16-1 8-1 4-3 4-6 5-6 2-6 2-6-1-8-1-8-2-7-3-5-2-3-4-3-4-1-3-3-11-1-12 0-10 2-6 2-4 4-4 7-4 7-2zM1036 1302l4 0 2 0 2 2 1 2 0 4-1 3-2 2-4 2-3-1-3-2-3-4 1-4 2-2 3-2z"/><path fill="#00ffec" fill-rule="evenodd" d="M1089 1228l6 1 6 1 6 2 6 3 4 4 4 5 2 6 2 6 1 18-1 6-2 4-4 4-6 4-6 3-8 1-6-1-8-2-6-3-6-3-2-3-3-4-3-6-1-6-1-8 0-8 1-6 3-6 3-4 5-4 6-2 7-2z"/><path fill="#00e6ff" fill-rule="evenodd" d="M1083 1232l6-1 6 0 6 1 6 2 5 2 4 4 3 4 2 6 2 8 1 12-1 6-1 4-3 4-4 4-6 3-5 1-11 0-6-1-6-2-4-3-4-3-3-5-2-4-2-6-1-8 1-6 1-6 3-5 3-5 4-3z"/><path fill="#00b5ff" fill-rule="evenodd" d="M1085 1234l4-1 6 0 6 1 6 2 4 3 4 3 3 4 2 4 1 6 1 6-1 10-1 6-3 4-4 4-4 2-6 2-6 0-6 0-9-4-5-2-3-4-2-4-2-4-2-6 0-6 0-6 2-6 2-4 3-4 4-3z"/><path fill="#0084ff" fill-rule="evenodd" d="M1087 1236l4-1 6 0 6 2 4 1 4 3 4 3 2 4 2 4 1 10-1 10-1 4-2 4-3 2-4 3-6 2-4 1-6 0-6-1-4-2-4-3-3-4-3-4-2-4-1-4 0-6 1-6 1-4 2-4 3-4 4-3z"/><path fill="#0053ff" fill-rule="evenodd" d="M1089 1238l4-1 6 1 8 3 4 3 3 2 2 4 1 4 1 6 0 6-1 6-1 4-3 3-3 3-5 2-4 2-4 0-6-1-8-3-4-3-2-3-2-4-2-4-1-4 0-6 2-8 3-4 2-3 4-3 5-2z"/><path fill="#0022ff" fill-rule="evenodd" d="M1089 1240l8-1 8 3 7 4 2 4 2 4 1 6 0 4-1 6-2 4-3 4-2 2-4 2-4 1-8 1-8-3-6-5-2-4-2-4-1-4 0-6 3-8 5-6z"/><path fill="#0900ff" fill-rule="evenodd" d="M1089 1242l4-1 4 0 4 1 4 2 6 4 3 6 1 8-2 10-3 4-2 2-7 3-8 1-6-2-6-5-2-3-2-4-1-8 1-4 1-4 5-6z"/><path fill="#2700ff" fill-rule="evenodd" d="M1091 1244l4-1 4 1 6 2 5 4 3 6 0 8-2 8-2 2-4 3-6 3-4 0-4-1-5-3-5-4-2-6-1-4 0-4 2-6 4-4 6-4z"/><path fill="#4500ff" fill-rule="evenodd" d="M1091 1246l6-1 6 2 5 3 1 3 2 3 0 6-2 8-4 5-6 2-6 0-6-2-4-4-2-5-1-6 2-6 3-4z"/><path fill="#6300ff" fill-rule="evenodd" d="M1093 1248l6 0 4 2 4 4 2 4 0 6-2 4-2 4-3 2-5 2-6-1-3-3-4-4-1-4 0-6 1-4 3-3 5-3z"/><path fill="#8000ff" fill-rule="evenodd" d="M1093 1250l4 0 4 1 4 3 2 4 0 4-2 5-4 5-4 1-4 0-4-2-2-3-2-4 0-4 1-4 3-4z"/><path fill="#9e00ff" fill-rule="evenodd" d="M1091 1254l2-1 4 0 4 1 2 2 1 2 1 4-2 4-2 2-4 2-2 0-4-1-2-3-1-2 0-4 1-4z"/><path fill="#ad00ff" fill-rule="evenodd" d="M1093 1258l2-1 2 0 2 1 2 2 0 2-1 2-3 2-2 0-3-2-1-2 1-2z"/></g></g></g>

<rect x="212.25" y="268.40" width="110.25" height="102.70" fill="none" stroke="#8a8a8a" stroke-width="0.9"/><rect x="212.95" y="269.10" width="108.85" height="101.30" fill="none" stroke="#999" stroke-width="1.0" stroke-dasharray="0.45 3.75"/><path d="M225.8 371.1v-1.6M225.8 268.4v1.6M212.2 360.1h1.6M322.5 360.1h-1.6M246.8 371.1v-1.6M246.8 268.4v1.6M212.2 340.1h1.6M322.5 340.1h-1.6M267.8 371.1v-1.6M267.8 268.4v1.6M212.2 320.0h1.6M322.5 320.0h-1.6M288.8 371.1v-1.6M288.8 268.4v1.6M212.2 299.9h1.6M322.5 299.9h-1.6M309.8 371.1v-1.6M309.8 268.4v1.6M212.2 279.9h1.6M322.5 279.9h-1.6" stroke="#666" stroke-width="0.6" fill="none"/><g font-size="8.0" fill="#1a1a1a" stroke="#1a1a1a" stroke-width="0.15"><text x="225.4" y="379.8" text-anchor="middle">−2</text><text x="210.8" y="363.0" text-anchor="end">−2</text><text x="246.4" y="379.8" text-anchor="middle">−1</text><text x="210.8" y="342.9" text-anchor="end">−1</text><text x="267.8" y="379.8" text-anchor="middle">0</text><text x="210.8" y="322.9" text-anchor="end">0</text><text x="288.8" y="379.8" text-anchor="middle">1</text><text x="210.8" y="302.8" text-anchor="end">1</text><text x="309.8" y="379.8" text-anchor="middle">2</text><text x="210.8" y="282.8" text-anchor="end">2</text></g>

<clipPath id="cP23"><rect x="370.60" y="269.00" width="106.50" height="99.35"/></clipPath>
<g clip-path="url(#cP23)"><g filter="url(#bl)"><rect x="366.6" y="265.0" width="114.5" height="107.4" fill="#00ff69"/><g transform="scale(.25)"><path fill="#00ff54" fill-rule="evenodd" d="M1650 1076l169 0 13 7 14 9 12 10 12 10 10 10 11 12 9 12 8 13 0 226 0 1-9 14-9 11-12 13-12 12-12 10-14 10-14 8-14 7-5 2-87 0-88 0-22-11-22-14-16-13-14-14-12-15-13-18-10-18-8-18-6-20-5-20-3-18-1-20 1-20 2-18 5-20 5-18 8-18 7-14 6-8 5-6 5-4 6-3 4 0 4 1 17 8 9 3 8 2 10 0 14-2 12-3 12-5 11-7 9-8 6-8 5-10 2-8-1-6-4-6-6-7-10-9-3-4zM1712 1196l-14 2-12 4-12 6-10 8-8 10-5 10-3 10 0 6 1 4 2 4 3 5 4 5 6 4 3-2 17-9 14-9 10-5 6-2 4-1 6 0 4 1 6 3 4 4 3 4 2 6 1 6-1 8-2 6-2 4-5 5-6 4-6 2-8 1-8-2-6-3-6-3-14-9-12-6-4-1-2 0-4 4-3 4-2 4-2 6 0 4 1 6 4 10 6 8 8 6 10 6 12 4 14 2 14 0 12-1 12-3 10-5 10-7 8-7 7-9 5-8 3-10 2-8 1-10-1-10-2-10-3-10-6-10-6-8-7-8-9-7-8-5-10-4-10-3-8-1z"/><path fill="#00ff43" fill-rule="evenodd" d="M1714 1102l16-1 16 1 18 3 14 3 12 5 14 8 12 8 13 11 15 16 10 14 9 16 8 16 7 18 4 16 2 16 1 18-1 18-2 18-4 18-5 14-7 16-9 16-10 14-10 12-13 11-12 10-12 7-16 9-16 6-16 4-18 3-16 1-16-1-16-2-16-4-16-5-14-7-16-9-14-11-12-10-12-14-11-14-8-14-7-16-5-14-4-16-2-16-2-18 1-14 1-14 2-14 3-12 4-12 5-12 6-10 5-6 7-6 7-4 10-4 28-9 8-3 10-6 10-6 8-6 20-21 8-7 10-5 6-2 7-1zM1702 1196l-16 4-8 4-8 5-6 5-6 6-4 6-4 6-3 8-1 10 1 8 5 14 0 4-4 16 0 4 1 6 3 10 6 8 8 8 10 6 12 4 12 3 14 1 16-2 14-3 12-6 12-9 6-6 4-5 7-11 4-14 2-14-2-14-2-8-3-8-6-12-10-12-12-10-8-5-6-3-14-5-12-1zM1714 1248l6-1 6 1 6 2 4 3 4 5 2 6 1 6 0 6-2 6-3 5-4 5-4 3-4 2-6 1-6 0-6-1-8-3-6-4-15-12-1-2-1-2 1-2 1-2 18-14 7-4z"/><path fill="#00ff32" fill-rule="evenodd" d="M1718 1114l14-1 18 1 12 1 14 4 12 4 12 6 12 9 10 8 11 12 12 16 10 18 7 14 5 16 4 16 2 16 1 16-1 16-3 20-4 16-5 14-6 14-8 14-8 12-10 12-11 10-12 9-14 9-12 6-16 7-14 3-16 3-16 1-16-1-16-3-14-3-16-7-12-5-14-9-12-9-11-11-10-12-9-12-7-12-7-16-4-14-3-12-2-18-1-16 1-18 1-12 2-12 2-12 4-12 5-10 4-8 7-8 7-6 6-4 29-14 16-8 14-10 20-16 8-5 12-5zM1704 1194l-10 2-8 3-8 3-8 5-6 5-6 6-5 6-4 6-4 10-2 10 0 8 3 14 0 4-1 16 0 8 4 10 6 10 9 8 10 6 12 5 14 3 16 1 15-1 13-4 14-6 10-8 10-11 7-11 5-14 1-14-1-15-1-7-3-8-7-14-9-12-12-10-14-9-6-3-10-3-6-1-6 0zM1720 1248l6 1 4 1 6 4 3 4 2 4 1 6 0 6-1 6-3 6-3 4-5 4-4 2-4 1-6 0-10-2-8-4-6-5-7-8-2-4 0-2 5-6 11-10 11-6 4-1z"/><path fill="#00ff1f" fill-rule="evenodd" d="M1742 1120l18 1 10 2 12 3 10 5 10 6 12 9 12 12 10 12 9 14 7 12 7 18 4 14 3 14 2 16 0 16-1 16-3 18-4 14-5 14-5 12-8 14-9 12-10 12-11 9-12 9-14 9-12 6-16 5-12 3-16 2-14 0-14-1-18-3-14-4-14-6-14-8-12-8-12-11-11-12-9-12-7-12-6-14-4-12-3-14-2-16-1-18 1-22 2-18 1-10 3-10 3-10 4-8 8-12 6-6 5-4 9-6 31-17 32-22 12-6 8-3 8-2 14-1zM1705 1192l-9 2-10 3-16 8-11 9-6 6-5 8-6 12-3 12 0 8 2 18 0 18 4 12 6 10 7 8 12 8 12 6 14 3 14 1 16 0 14-3 14-6 12-8 6-6 5-5 8-12 5-14 2-14-1-14-3-14-6-14-8-12-6-7-6-6-14-9-8-4-8-3-8-2-6-1-12 2zM1714 1250l6-1 4 0 6 2 4 3 4 4 2 4 1 4 1 6-1 6-1 4-3 4-3 4-4 3-6 2-4 1-6 0-8-2-9-6-7-8-2-6 0-2 1-4 7-8 8-6z"/><path fill="#01ff00" fill-rule="evenodd" d="M1742 1126l16 0 10 2 12 3 10 4 10 5 10 8 10 9 11 13 8 12 8 14 6 14 5 12 3 16 2 14 1 16-1 16-2 14-4 16-4 14-6 14-7 14-8 12-9 10-9 10-12 9-12 8-14 7-12 5-14 4-14 2-14 1-12-1-18-2-14-4-14-5-14-8-12-8-12-10-11-12-8-12-7-12-5-12-4-12-3-12 0-18 1-62 2-10 2-8 6-16 5-8 5-6 7-6 5-4 55-35 10-5 6-3 14-4zM1713 1188l-17 4-16 6-14 7-11 9-10 12-7 12-5 14-1 8 0 6 1 18 4 16 4 8 3 6 8 10 6 5 6 4 6 4 8 3 16 5 18 1 16-1 16-4 8-3 6-4 12-8 6-6 4-6 7-12 5-14 1-14 0-8-1-8-5-16-7-14-10-13-12-11-8-5-8-5-14-5-6-1-8 0zM1712 1251l4-1 6 0 4 1 4 1 4 3 2 3 3 4 1 4 1 4-1 6-1 4-3 5-4 5-4 2-4 2-4 1-4 0-6-1-8-4-6-6-4-8-1-4 1-2 2-4 3-4 5-6 9-4z"/><path fill="#37ff00" fill-rule="evenodd" d="M1756 1134l14 1 14 4 12 6 12 9 13 12 11 14 8 14 8 16 5 16 3 16 2 18-1 18-2 16-4 18-6 18-8 16-10 16-13 15-14 12-16 11-18 8-16 5-18 3-18 0-12-2-14-3-12-4-10-5-10-6-10-7-8-7-9-10-5-8-5-8-4-8-2-8-2-8-1-8 0-6 2-6 2-3 2-1 2 0 4 1 6 4 12 11 8 6 9 6 9 5 10 4 8 2 10 2 10 1 10 0 12-1 10-2 8-3 8-3 8-5 8-6 6-5 6-7 6-8 4-8 2-8 2-8 1-10 0-10-1-8-2-8-4-10-3-8-5-8-6-8-6-6-8-8-8-6-18-11-6-3-8-1-4-1-10 3-22 8-22 10-11 7-19 14-8 5-4 1-2-1-2-2-1-5 0-8 2-8 3-8 6-8 5-6 10-8 9-8 14-9 16-9 8-3 8-3 8-1 20-3 16-3 15-1zM1712 1254l4-2 4 0 4 1 4 1 6 5 3 3 1 4 1 8-1 4-2 4-2 4-4 3-4 2-4 1-8 0-4-1-4-2-5-5-3-4-1-4-1-6 3-6 6-6z"/><path fill="#6dff00" fill-rule="evenodd" d="M1746 1142l12-2 8 0 8 2 12 3 8 4 6 4 11 9 13 14 9 14 8 14 6 16 4 16 2 16 0 18-1 18-4 18-6 18-6 14-10 15-10 15-12 11-14 11-16 9-14 5-16 4-16 2-18-1-10-2-10-3-10-4-8-4-8-4-8-6-6-6-7-8-4-8-3-8-1-6 1-5 2-2 2-1 6 0 30 9 18 3 10 0 10 0 10-1 10-2 8-3 10-4 8-4 6-4 8-7 6-7 5-6 5-8 5-14 2-14 0-14-3-16-6-15-8-14-10-13-12-11-28-23-8-5-6-1-32 14-19 8-11 1-2-1-2-2 0-2 1-4 4-6 7-6 14-9 14-6 8-2 8 0 10 1 8-3 12-6zM1714 1255l4-1 4 0 6 2 4 3 2 3 3 6-1 8-2 6-3 4-3 2-6 2-4 0-4 0-6-3-5-5-3-6 0-6 2-6 4-5 7-3z"/><path fill="#a3ff00" fill-rule="evenodd" d="M1756 1146l10-1 12 2 10 4 10 5 10 8 8 8 8 10 8 12 6 12 5 14 4 14 2 12 1 12 0 14-2 16-3 12-4 14-5 14-6 12-7 10-8 12-9 8-10 9-10 7-12 7-10 4-12 4-12 2-12 1-12 0-12-3-12-3-8-4-7-4-6-4-6-6-5-6-2-4 0-4 1-4 3-2 6-2 32 1 20-2 16-3 16-6 8-4 8-6 8-6 5-6 5-7 5-7 3-8 2-8 3-14 0-16-3-16-6-16-6-11-8-11-10-11-22-23-5-6-3-6 0-6 2-4 2-2 6-5zM1714 1257l6-1 7 2 5 4 3 6 0 4 0 4-3 5-4 4-6 3-6 0-6-2-4-4-3-6 0-6 1-4 3-4 6-4z"/><path fill="#d9ff00" fill-rule="evenodd" d="M1756 1152l8-2 10 0 8 2 10 5 8 4 8 7 9 10 8 10 6 10 5 10 5 14 3 12 2 12 1 12-1 14-1 12-3 12-3 12-5 14-6 11-6 11-7 10-8 10-8 8-11 8-9 6-11 5-10 3-10 3-12 1-10 1-9-1-9-2-8-3-6-3-6-4-4-4-3-4 0-4 1-2 3-2 6-2 29-6 16-4 14-5 14-8 8-6 6-5 6-6 4-6 4-7 4-7 2-8 2-8 1-14-1-16-3-14-5-14-5-10-7-11-8-10-19-21-5-8-2-4-1-6 1-4 4-5zM1714 1259l6-1 6 2 4 3 3 5 0 6-2 6-4 4-4 2-5 0-6-2-4-3-3-5 0-6 2-4 3-4 3-2z"/><path fill="#fff700" fill-rule="evenodd" d="M1762 1156l8-2 8 1 8 2 8 4 8 6 6 5 8 9 7 9 5 8 5 10 4 12 3 10 3 12 1 10 0 10-1 12-2 12-3 12-4 11-5 13-5 9-6 10-6 9-8 10-8 7-7 7-9 6-10 4-8 4-10 3-10 1-8 1-12-1-7-2-4-2-3-2-4-4 0-2 0-2 2-3 7-3 27-10 16-7 10-6 10-8 11-11 8-12 5-14 3-14 1-12-2-14-2-14-5-14-5-10-5-10-7-9-18-23-5-8-2-4 0-6 1-4 4-4zM1714 1261l6-1 4 1 4 3 3 4 0 6-1 4-4 4-4 2-4 0-4-1-4-3-2-4-1-4 1-4 2-4 4-2z"/><path fill="#ffda00" fill-rule="evenodd" d="M1768 1160l6-1 6 0 6 2 8 4 8 5 6 6 7 8 5 6 6 10 4 8 7 18 3 18 1 10 0 10-3 18-2 8-4 13-10 22-10 16-12 15-7 8-7 5-15 9-9 3-8 3-12 1-8-1-5-2-1-2 0-2 2-2 6-4 18-10 12-7 12-9 10-10 7-10 6-12 3-12 2-14 0-14-2-14-3-12-4-12-4-10-6-10-7-10-14-20-6-10-1-6 1-4 2-3zM1716 1263l4-1 4 1 3 3 2 4 0 4-2 4-3 3-3 1-3 0-4-2-2-1-2-3 0-4 0-2 2-4 3-2z"/><path fill="#ffbc00" fill-rule="evenodd" d="M1774 1163l4 0 6 1 10 4 10 8 11 12 9 14 6 12 5 16 3 16 0 14-2 13-3 15-5 13-8 16-6 9-8 10-14 16-8 5-2 1-1 0 15-18 5-10 4-10 3-10 1-10 0-14 0-12-4-22-4-12-4-10-9-16-17-26-5-10-1-6 1-3 3-3 3-2zM1716 1266l4-1 2 0 2 1 2 3 1 3-1 3-2 3-2 1-2 0-4 0-3-3-1-2 0-4 2-2z"/><path fill="#ff9f00" fill-rule="evenodd" d="M1774 1170l6-2 6 1 6 2 8 5 8 8 7 8 7 10 5 10 3 10 3 12 2 10 0 12-1 8-2 11-4 12-3 7-5 5-2 1-2-2-2-8-4-28-5-18-4-10-7-14-6-12-11-16-4-8-1-4-1-4 1-4zM1716 1269l2-1 2 0 3 2 1 2-1 2-2 2-3 0-2-1-1-3 1-2z"/><path fill="#ff8200" fill-rule="evenodd" d="M1782 1173l6 1 4 1 6 3 6 5 6 7 6 8 4 7 4 8 4 11 2 8 1 10 1 8-1 8-1 8-2 6-4 7-2 1-2 0-2-3-4-10-6-23-5-12-8-16-16-28-2-6 0-4 1-2 3-2z"/><path fill="#ff6600" fill-rule="evenodd" d="M1786 1179l4 0 4 2 4 2 6 5 4 4 6 8 7 12 5 16 2 16 0 8-2 6-2 4-2 2-2-1-2-2-2-4-11-27-20-38-1-4-1-4 1-2 2-2z"/><path fill="#ff4900" fill-rule="evenodd" d="M1792 1189l2-1 2 0 6 4 8 8 5 8 4 8 3 12 1 10-1 6-2 1-2 0-4-5-18-36-4-8 0-6z"/><path fill="#ff2d00" fill-rule="evenodd" d="M1808 1210l2 3 0 3-2-2-1-2z"/><path fill="#00ff7c" fill-rule="evenodd" d="M1624 1110l10-1 10 2 4 2 4 3 1 2 1 4 0 4-2 4-6 7-4 3-6 3-10 4-10 1-4 0-5-2-5-4-2-4-1-4 1-4 1-4 3-4 2-3 8-6zM1700 1200l12-2 10 0 10 2 8 3 8 3 10 6 8 7 6 7 6 8 4 8 4 10 2 10 1 10-1 10-2 10-4 8-6 10-6 7-8 7-8 5-8 4-10 3-10 2-14 0-12-1-12-3-10-4-7-4-7-6-6-8-3-8 0-8 2-6 3-3 4-2 6-1 8 2 16 9 10 4 8 2 8 1 6-2 6-3 6-6 4-6 2-5 1-8 0-6-2-6-1-4-4-4-4-4-6-3-6-1-8 1-16 7-16 9-12 3-6 0-4-1-4-3-2-4-2-4 0-4 1-8 2-8 7-10 7-8 9-6 10-5 11-3z"/><path fill="#00ff8b" fill-rule="evenodd" d="M1626 1122l6-1 4 1 4 2 1 2 0 4-3 3-2 3-6 2-6 1-4 0-3-3-1-2 0-4 2-3 4-3zM1708 1200l10-1 8 1 10 3 10 3 8 5 8 6 6 6 6 7 6 10 4 8 3 10 1 8 0 10-1 8-3 9-4 9-6 9-6 7-8 6-10 6-10 4-10 2-12 1-12-1-12-2-10-3-8-3-8-6-6-8-4-8 0-8 0-3 2-3 4-4 4-1 4 0 6 2 26 12 8 2 6 0 8-2 6-3 6-5 4-6 3-5 1-6 0-8-1-6-2-6-3-4-4-4-6-3-8-2-8 1-18 8-14 7-6 2-4 0-6 0-4-1-4-2-3-4-1-4 0-4 0-4 2-6 5-10 6-8 9-8 10-5 10-3z"/><path fill="#00ff9a" fill-rule="evenodd" d="M1702 1202l10-1 10 0 10 2 8 2 8 4 8 5 8 6 6 6 6 8 4 8 4 10 2 8 1 10 0 8-1 8-4 10-4 8-6 8-8 8-8 5-8 5-8 2-10 2-10 1-12 0-12-2-12-3-8-4-7-6-5-6-2-4-2-4 0-8 2-4 2-2 4-2 4 0 8 3 24 10 8 1 8 0 6-1 8-5 6-6 4-6 2-6 1-6 0-8-2-6-2-6-3-4-4-3-6-3-8-2-8 1-18 7-14 7-6 2-4 0-6 0-3-1-3-2-3-4-1-4 0-4 1-8 4-8 6-8 6-6 9-6 8-3z"/><path fill="#00ffab" fill-rule="evenodd" d="M1698 1204l10-2 10 0 8 1 10 2 8 3 8 4 8 6 7 6 5 6 6 10 4 9 3 9 1 8 0 10-1 8-2 8-4 8-5 8-6 7-6 5-8 5-8 4-8 3-10 1-14 1-12-1-10-2-9-3-9-6-6-5-4-7-1-6 0-4 3-4 2-2 4-1 4 1 6 2 24 9 8 1 8 0 8-4 6-4 6-6 4-8 1-6 1-8-1-6-1-6-2-4-4-5-4-3-6-4-8-1-8 1-32 13-8 2-4 0-4 0-4-2-2-3-2-6 1-8 3-8 5-8 6-6 7-6 8-3z"/><path fill="#00ffc7" fill-rule="evenodd" d="M1696 1205l10-1 10 0 10 1 10 2 8 3 6 3 8 5 6 5 6 7 6 8 4 8 3 8 2 8 1 10-1 8-2 8-3 7-4 8-6 7-6 6-6 5-8 5-10 3-8 2-14 1-14-1-10-2-10-3-7-4-6-6-4-6-1-6 2-4 2-2 6-1 8 2 22 8 8 2 8-1 8-4 8-6 5-6 4-8 1-6 1-8-1-8-2-6-2-4-4-5-4-3-6-3-6-2-8 1-34 13-8 2-4 0-3-1-5-4-2-6 1-6 2-6 4-8 6-6 5-5 8-4 9-3z"/><path fill="#00ffec" fill-rule="evenodd" d="M1700 1208l8-1 10 0 18 4 8 3 6 3 12 8 6 6 5 7 4 6 3 8 2 8 2 8-1 8 0 6-3 8-4 8-4 6-4 6-7 6-7 4-8 4-6 1-12 2-24-2-10-1-6-2-7-4-5-6 0-2 0-2 2-2 2-1 8 2 14 5 8 2 6 1 6-2 6-2 4-3 8-7 7-9 3-10 1-8 0-8-1-6-2-6-2-4-4-6-4-3-6-3-8-2-8 1-20 7-18 6-4 0-4-1-3-3-2-4 1-6 3-8 4-6 5-5 6-4 8-4 7-1z"/><path fill="#00e6ff" fill-rule="evenodd" d="M1694 1212l10-2 14 1 16 4 10 3 11 6 9 8 8 9 5 9 4 12 0 12 0 6-2 6-3 6-3 6-5 6-6 6-6 4-6 3-8 3-4 0-2-1-1-1 0-2 1-3 10-14 4-7 2-6 1-10 0-12 0-6-3-8-3-6-5-5-8-4-8-3-4 0-6 1-15 7-11 3-10 2-4 0-2-1-2-2-2-4 1-6 3-6 3-4 5-4 6-4z"/><path fill="#00b5ff" fill-rule="evenodd" d="M1700 1214l6 0 8 1 16 6 7 1 7 2 8 4 6 4 6 5 6 7 6 10 3 10 0 10-2 10-3 6-4 7-6 6-6 4-6 2-2-1 0-4 3-8 2-8 1-6 0-16 0-10-2-8-3-6-5-6-4-4-10-5-6-2-6 1-4 2-13 8-11 3-4 1-6 0-2 0-3-2-1-4 0-4 2-4 2-3 4-3 6-4z"/><path fill="#0084ff" fill-rule="evenodd" d="M1698 1218l4 0 6 2 2 2 0 2-3 4-4 4-7 3-5 1-5 0-4-2-1-2 1-4 3-4 3-3 4-2 5-1zM1760 1245l2 0 2 0 4 4 4 6 4 9 0 8-1 8-3 7-3 5-3 2-4 3-2-1-1-2 1-44 0-4z"/><path fill="#0053ff" fill-rule="evenodd" d="M1694 1225l3 1-1 1-2 1-2 0 2-2zM1766 1261l2 0 2 2 2 7 0 6-2 3-2 3-2 0-2-4 0-12 2-4z"/></g></g></g>

<rect x="368.50" y="267.35" width="110.90" height="102.65" fill="none" stroke="#8a8a8a" stroke-width="0.9"/><rect x="369.20" y="268.05" width="109.50" height="101.25" fill="none" stroke="#999" stroke-width="1.0" stroke-dasharray="0.45 3.78"/><path d="M382.0 370.0v-1.6M382.0 267.4v1.6M368.5 358.9h1.6M479.4 358.9h-1.6M403.2 370.0v-1.6M403.2 267.4v1.6M368.5 338.9h1.6M479.4 338.9h-1.6M424.3 370.0v-1.6M424.3 267.4v1.6M368.5 318.8h1.6M479.4 318.8h-1.6M445.4 370.0v-1.6M445.4 267.4v1.6M368.5 298.8h1.6M479.4 298.8h-1.6M466.6 370.0v-1.6M466.6 267.4v1.6M368.5 278.7h1.6M479.4 278.7h-1.6" stroke="#666" stroke-width="0.6" fill="none"/><g font-size="8.0" fill="#1a1a1a" stroke="#1a1a1a" stroke-width="0.15"><text x="381.6" y="378.6" text-anchor="middle">−2</text><text x="367.0" y="361.8" text-anchor="end">−2</text><text x="402.8" y="378.6" text-anchor="middle">−1</text><text x="367.0" y="341.8" text-anchor="end">−1</text><text x="424.3" y="378.6" text-anchor="middle">0</text><text x="367.0" y="321.7" text-anchor="end">0</text><text x="445.4" y="378.6" text-anchor="middle">1</text><text x="367.0" y="301.6" text-anchor="end">1</text><text x="466.6" y="378.6" text-anchor="middle">2</text><text x="367.0" y="281.6" text-anchor="end">2</text></g>

<clipPath id="cP24"><rect x="527.60" y="265.90" width="106.55" height="100.00"/></clipPath>
<g clip-path="url(#cP24)"><g filter="url(#bl)"><rect x="523.6" y="261.9" width="114.5" height="108.0" fill="#00ff69"/><g transform="scale(.25)"><path fill="#00ff54" fill-rule="evenodd" d="M2238 1065l4-1 163 0 18 9 16 10 18 13 16 14 14 16 12 16 10 16 9 16 5 14 6 18 5 18 3 16 0 57-4 19-6 20-8 20-9 18-12 18-14 18-15 15-16 13-16 11-20 11-9 4-154-1-18-8-18-10-18-13-16-13-14-15-12-16-10-16-11-20-7-20-5-18-4-22-2-24 0-24 2-20 4-22 6-18 8-20 9-16 12-18 13-16 14-14 15-13 18-12 17-9zM2327 1162l-11 1-12 3-18 7-10 5-8 6-10 7-7 7-7 8-6 8-5 8-5 10-4 10-2 10-1 10 0 8 2 10 2 10 4 10 5 8 5 8 6 8 7 7 8 7 8 6 10 6 10 4 10 3 12 3 10 2 13 0 10 0 10-1 12-3 12-3 10-5 10-5 8-5 8-7 8-7 6-7 6-8 5-9 4-8 3-10 2-10 1-10 0-10-1-10-3-10-3-10-5-10-5-9-8-9-6-8-8-6-10-7-8-5-8-3-10-3-10-2-12-1-12 0-10 0zM2333 1199l6 0 4 1 5 2 5 2 8 8 16 20 6 8 4 10 1 10 0 10-2 10-3 9-6 9-6 6-10 6-10 3-24 7-9 1-8 0-8-3-7-4-6-6-4-6-7-12-11-18-3-10 0-8 2-8 2-6 4-6 6-5 14-10 28-15 5-2 6-2zM2322 1244l-4 2-2 3-2 7 0 8 2 6 4 4 9 4 4 1 4 0 6-2 4-3 1-2 3-6 1-4 0-4-2-6-3-4-2-2-6-3-8-1-4 0-5 1z"/><path fill="#00ff43" fill-rule="evenodd" d="M2282 1065l7-1 73 0 17 4 18 7 16 7 18 11 16 11 16 14 12 12 15 18 10 16 9 18 6 16 6 20 4 20 2 20 0 18-1 18-4 18-5 16-8 20-8 16-11 18-12 14-13 14-14 12-14 10-18 11-18 8-18 6-18 4-18 2-18 0-19-2-16-3-20-5-20-8-16-8-16-11-16-12-12-12-13-14-9-14-11-18-7-18-5-16-4-16-3-26-1-24 0-24 3-20 3-16 6-18 6-14 11-18 12-16 12-14 14-13 16-12 18-11 18-8 21-6zM2320 1160l-12 2-10 3-10 3-10 5-10 6-8 6-8 7-8 8-6 8-7 10-5 10-4 10-3 8-2 10 0 10 1 10 2 10 3 10 5 10 5 8 5 8 7 8 9 8 8 6 10 7 8 4 10 4 12 3 12 3 11 0 12 0 12 0 12-3 10-2 10-4 10-4 10-6 8-6 8-6 8-9 6-7 6-10 4-8 4-10 3-10 1-10 1-12-1-10-2-10-3-10-4-10-5-10-6-9-8-10-8-7-8-6-8-6-8-4-10-3-10-3-12-2-12 0-12 0-13 1zM2329 1201l8-1 8 1 8 4 6 7 4 6 16 28 3 10 0 6 0 6-1 9-4 10-4 6-6 6-8 5-28 12-6 2-7 1-8 0-8-2-6-4-5-5-4-6-5-14-10-12-4-6-2-8-1-8 2-6 1-5 4-5 4-5 8-5 18-8 4-3 12-9 6-4 4-2zM2326 1240l-4 0-4 2-2 1-2 3-1 6-1 6 0 6 0 4 2 3 3 3 8 5 10 3 4 0 3 0 7-4 5-6 2-8 0-6 0-4-4-6-6-4-9-3-10-1z"/><path fill="#00ff32" fill-rule="evenodd" d="M2314 1068l19-1 18 2 20 4 18 6 18 7 18 10 16 11 18 14 12 11 13 16 10 14 6 12 8 16 6 18 4 16 4 20 1 20-1 18-2 18-4 16-6 18-7 14-10 18-9 14-12 14-13 13-14 12-14 9-18 10-16 7-18 6-16 3-16 1-18 0-19-2-16-3-18-6-16-6-16-9-16-10-14-11-12-12-10-12-10-14-8-14-7-16-5-16-4-18-2-26-2-34 0-16 1-18 3-16 5-16 8-16 9-16 12-16 13-14 15-14 16-11 16-9 20-8 20-5 21-3zM2322 1156l-14 2-10 3-10 3-10 5-10 5-8 6-8 6-8 8-7 8-7 10-6 10-6 12-4 10-2 10-1 8 0 10 1 8 3 10 5 12 5 10 7 10 7 8 8 8 9 8 10 7 8 4 8 4 12 4 10 2 12 2 13 1 12-1 12-1 12-3 12-3 10-4 10-6 10-6 8-7 8-7 8-10 6-9 4-9 4-10 3-10 2-10 1-12 0-10-2-12-2-10-4-10-5-10-7-10-6-9-8-9-10-8-8-6-10-5-8-3-10-3-12-2-12-1-12 0zM2335 1201l6 0 4 1 4 2 4 3 6 7 3 6 1 4 0 6 0 3-2 4-2 2-2 1-4 1-11-1-24-5-4-2-1-1-1-2 0-4 1-6 4-8 6-6 6-3 4-1zM2286 1231l6-1 6 0 6 2 4 2 2 2 1 4-2 24 0 4 1 3 5 5 21 12 3 4 1 6 0 4-2 4-4 4-5 4-9 3-8 1-6-1-6-3-6-4-3-4-2-4-2-6-1-8-2-4-10-9-4-5-2-4-1-4 0-6 1-6 1-4 2-4 3-4 4-3 7-3z"/><path fill="#00ff1f" fill-rule="evenodd" d="M2308 1074l19-2 16 1 16 2 16 4 16 5 18 8 18 11 20 13 12 10 14 14 11 14 9 14 9 16 6 14 6 20 3 16 2 16 1 18-2 18-2 16-4 16-8 20-8 16-9 14-10 14-12 13-14 13-14 11-16 9-16 8-16 6-16 4-16 3-16 1-16-1-17-2-18-5-16-6-14-6-16-9-14-10-13-11-11-12-9-12-9-14-7-14-5-14-3-14-2-14-1-32-5-40 0-20 1-12 4-14 5-14 6-14 10-16 13-16 15-14 15-12 18-11 18-8 20-6zM2322 1152l-14 2-10 2-10 4-10 4-10 5-10 6-8 7-9 8-9 10-8 10-6 10-10 16-4 8-3 10-2 8-1 10 2 8 3 10 14 24 7 10 9 10 8 8 9 8 10 7 10 5 8 4 10 4 12 3 10 1 10 1 13 0 12-1 12-2 12-3 12-4 10-5 10-6 10-7 8-7 8-9 7-9 6-10 5-11 4-11 2-10 1-12 0-12-1-12-2-12-4-10-4-11-6-10-8-11-8-9-10-9-8-6-10-6-8-3-10-3-10-2-14-2-12 0-15 1zM2331 1203l8-1 4 1 4 1 4 2 3 4 4 6 1 4 1 4-2 6-3 4-2 1-6 2-8 0-10-3-6-2-3-4-2-6 0-4 1-4 5-6 6-4zM2288 1234l6 0 4 2 6 4 2 4 1 8-1 18 0 2 1 2 2 2 12 6 6 4 4 4 2 4 1 4 0 4-2 4-2 4-3 2-5 3-8 2-6-1-6-2-4-2-3-4-3-4-2-6 0-6 0-8 0-2-3-2-7-4-4-2-4-5-3-5-1-4 0-6 2-6 2-4 2-4 4-3 4-2z"/><path fill="#01ff00" fill-rule="evenodd" d="M2306 1079l21-1 20 1 22 3 20 7 22 9 24 14 20 15 15 15 13 16 11 16 9 20 7 20 4 20 2 22 0 22-3 20-3 14-4 12-10 22-7 12-7 10-9 12-8 9-10 10-10 8-20 14-12 6-12 5-12 5-12 3-14 2-16 2-16-1-15-2-16-3-14-5-16-7-14-8-10-6-12-10-9-8-9-10-7-10-7-12-4-10-3-10 0-6 0-6 1-2 2-2 4 1 8 5 22 18 14 10 14 8 14 6 16 5 16 2 16 1 19-2 18-3 16-5 14-5 14-9 12-9 10-10 10-13 7-12 6-14 4-14 1-10 1-12 0-12-1-10-2-10-4-10-3-8-5-11-6-9-8-11-8-9-10-9-8-5-8-5-10-4-10-3-10-2-10-1-12 0-12 1-13 1-12 2-10 3-12 4-10 5-10 5-18 13-13 13-25 26-8 6-4 2-4 1-4-2-2-2-3-7-1-10 1-12 3-12 4-12 6-12 7-12 10-12 9-10 11-10 11-9 12-7 12-6 14-6 14-4 13-2zM2337 1204l6 0 6 3 5 5 2 6 1 6-2 4-2 2-4 3-6 1-8-1-6-2-4-4-3-5 0-6 3-6 5-4 6-2zM2284 1237l6 0 4 1 3 2 3 3 2 3 2 6 0 8-3 8-3 4-2 1-6 2-4 0-4-1-6-4-4-4-2-6 0-6 1-4 1-4 4-5 7-3zM2300 1281l6-1 8 1 9 5 5 6 2 6-1 6-3 6-6 3-6 2-4 0-4-1-6-3-5-5-2-6 0-6 1-4 2-4 4-4z"/><path fill="#37ff00" fill-rule="evenodd" d="M2318 1087l19 0 18 1 16 4 18 5 18 8 22 11 16 11 14 11 10 10 11 14 10 14 6 12 5 14 6 20 3 16 2 20-1 20-3 22-6 20-8 18-11 18-12 16-14 15-16 13-10 7-12 8-14 6-12 5-14 4-12 2-12 1-12 0-10-1-11-2-10-2-10-4-8-4-9-6-4-4-3-4 0-2 0-2 3-2 3-1 41-4 18-3 14-3 14-5 12-4 10-5 10-6 10-8 8-7 8-9 8-11 6-10 6-13 4-11 3-14 2-14 0-12-2-18-4-18-7-18-10-17-12-16-14-14-8-7-6-3-12-6-14-4-20-3-20-1-21 2-20 4-18 6-14 6-32 15-6 1-2-1-2-1 0-3 0-6 2-6 5-8 5-8 5-6 9-8 7-6 15-10 16-9 18-6 21-3zM2335 1207l4-1 6 2 3 2 3 4 1 4 0 4-3 4-4 3-4 0-4 0-4-2-4-4-2-5 0-4 3-4 3-2zM2280 1243l4-1 6 0 6 4 2 4 1 4 0 6-3 4-4 4-4 1-6 0-4-3-3-4-1-4 0-6 2-5 4-3zM2304 1287l4-1 6 0 6 4 3 4 1 4-1 6-2 4-5 3-4 0-6 0-5-3-3-4-1-4 0-4 2-4 4-4z"/><path fill="#6dff00" fill-rule="evenodd" d="M2316 1098l17-2 16 0 16 3 18 5 22 8 20 9 14 8 14 9 12 11 10 11 8 12 8 14 7 16 4 14 4 16 2 18 0 18-2 18-3 16-5 16-8 16-9 16-10 13-14 15-16 14-16 10-19 10-17 6-18 3-10 0-8 0-8-1-5-2-3-2-1-2 1-2 1-2 7-4 36-15 18-10 10-7 8-7 8-7 6-8 8-10 6-10 6-13 4-11 3-14 2-12 1-14 0-12-2-18-4-16-6-15-8-16-10-15-12-15-12-12-10-7-12-7-12-4-10-2-14-2-14-1-15-1-44 4-6 0-3-1-1-2 0-2 3-4 3-4 9-6 8-4 9-4zM2335 1211l2-1 4 0 4 1 2 3 1 4-1 2-1 2-2 2-5 0-3 0-3-2-1-2 0-4 0-2 2-2zM2282 1247l2-1 4 1 4 2 2 3 1 2-1 4-2 3-3 3-3 0-4 0-2-2-2-2 0-2 0-4 1-4 3-2zM2306 1291l2 0 4 0 4 2 2 3 1 4-1 4-2 2-3 2-4 0-3-1-2-2-2-3 0-4 0-2 1-2 3-2z"/><path fill="#a3ff00" fill-rule="evenodd" d="M2389 1119l6 1 16 4 12 3 10 5 14 7 8 6 8 7 8 9 6 7 6 9 4 9 8 18 4 12 3 12 3 22 0 22-2 12-2 10-6 20-5 10-5 10-6 10-8 10-8 9-8 8-8 6-8 6-9 5-11 5-4 1-4 0-2-2 4-6 18-21 10-14 8-15 6-16 6-20 3-22 0-20-2-20-3-13-5-13-7-16-9-16-11-16-12-16-14-15-12-9-2-2 0-2zM2286 1254l1 2-1 1-2-1 0-2zM2308 1299l2-1 2 2-2 1-2-1z"/><path fill="#d9ff00" fill-rule="evenodd" d="M2425 1139l4-1 4 1 7 3 5 2 6 4 8 6 12 12 10 13 7 15 7 16 4 16 3 16 0 16-1 16-2 15-4 14-6 14-8 14-10 13-8 8-6 3-4 1-2-2 2-8 9-30 4-20 2-24-1-12-1-12-3-19-6-18-12-26-21-35-2-6 0-2 1-2z"/><path fill="#fff700" fill-rule="evenodd" d="M2439 1150l4 0 4 1 8 5 10 8 8 9 7 11 5 10 5 12 5 14 3 14 1 12 0 12-1 14-2 12-3 12-4 10-7 12-5 7-4 3-2 0-2-1-1-1 0-6 2-28 1-18-1-16-2-16-4-16-5-16-7-16-16-34-1-4 1-4 1-2 1 0z"/><path fill="#ffda00" fill-rule="evenodd" d="M2449 1161l4 1 8 5 6 5 6 7 5 7 5 10 4 10 4 12 3 10 2 12 0 10 0 10-1 12-2 10-2 6-5 10-3 5-2 1-2 1-2-3-2-8-2-34-3-24-6-22-15-36-2-8-1-6 2-2z"/><path fill="#ffbc00" fill-rule="evenodd" d="M2457 1174l2 0 2 0 4 3 4 3 6 7 8 15 5 16 4 16 1 16-2 16-3 12-1 2-2 2-2 0-2-4-10-48-4-14-10-30-1-6 0-4z"/><path fill="#ff9f00" fill-rule="evenodd" d="M2467 1189l2 1 2 1 6 8 4 8 4 11 2 12 1 10 0 10-2 6-1 1-2-2-2-5-7-26-7-25-2-7 1-2z"/><path fill="#00ff7c" fill-rule="evenodd" d="M2327 1165l12-1 10 0 10 1 10 2 8 2 10 3 10 5 8 5 8 7 8 8 7 9 5 8 4 8 4 10 3 10 1 10 1 10-1 10-2 8-3 10-4 10-5 8-6 8-6 7-8 7-8 6-8 6-10 5-10 4-10 3-10 2-12 2-10 0-11 0-10-2-10-2-10-3-10-4-10-6-8-5-7-6-7-7-6-7-5-8-5-10-3-8-3-10-1-8-1-10 1-8 2-10 3-8 4-10 4-8 6-8 6-7 8-8 8-7 8-5 10-5 8-4 10-4 10-2 11-2zM2332 1198l-10 2-22 9-9 5-9 6-10 9-6 8-3 9-2 10 1 10 2 6 2 6 11 18 10 14 7 6 8 5 10 2 13 0 18-2 12-3 10-4 9-6 7-6 6-9 4-10 2-13 0-12-2-10-4-10-6-9-20-19-8-8-4-2-6-2-10 0zM2327 1245l4-1 4 1 6 2 4 3 3 6 0 6-1 6-4 5-4 2-3 1-5 0-6-2-5-4-3-4-1-6 1-6 3-5 5-3z"/><path fill="#00ff8b" fill-rule="evenodd" d="M2329 1167l10-1 10 0 10 1 10 2 8 2 10 3 8 4 10 7 8 6 6 7 7 8 5 8 5 8 4 10 2 10 2 10 0 8 0 10-2 10-3 8-3 8-4 8-6 8-7 8-8 7-8 7-8 5-10 5-10 4-10 4-10 2-10 1-10 1-10-1-11-1-10-2-10-3-10-4-8-4-8-6-7-5-7-7-6-7-6-8-4-8-4-10-3-8-1-10-1-10 1-8 2-8 2-8 3-8 5-10 6-8 6-7 8-7 7-6 9-6 10-6 9-4 9-4 10-3 11-1zM2324 1198l-19 6-10 4-9 5-8 7-10 10-5 10-3 10-1 10 2 12 6 14 11 16 11 12 7 5 10 4 10 2 17-1 16-2 12-4 10-4 10-8 6-8 3-6 2-6 3-12 0-14 0-7-2-7-7-12-8-10-17-16-8-7-8-3-10-2-10 2zM2327 1247l6-1 6 2 5 4 2 4 0 6-1 4-2 4-2 2-4 2-4 0-6-1-5-3-3-4-1-4 1-6 1-4 5-4z"/><path fill="#00ff9a" fill-rule="evenodd" d="M2329 1170l10-2 12 0 10 1 10 2 10 3 8 3 8 4 8 6 8 6 6 7 6 8 6 8 4 8 4 10 2 8 2 10 0 8-1 10-2 10-2 8-3 7-4 7-6 8-6 7-8 8-8 6-8 5-10 6-10 4-8 3-10 2-10 2-10 0-10 0-11-1-10-2-10-3-8-3-10-5-8-5-7-6-7-6-6-8-6-8-4-8-4-9-2-9-1-8-1-10 1-8 2-8 2-8 7-15 6-9 6-7 8-7 7-6 9-6 10-6 9-4 9-4 20-4zM2327 1196l-18 4-13 4-10 5-9 7-9 9-6 11-3 6-1 6-1 10 0 6 2 8 5 14 7 12 13 14 8 7 10 5 12 3 15 0 16-2 14-3 12-6 9-6 7-8 6-10 3-14 1-12 0-12-3-10-5-11-8-9-21-18-9-7-10-3-6-1-6 0zM2331 1248l4 0 4 2 4 4 2 4-1 6-1 3-4 4-4 1-6 0-4-2-4-4-1-4 0-6 2-4 5-3 3-1z"/><path fill="#00ffab" fill-rule="evenodd" d="M2329 1172l10-2 10 0 10 1 10 1 10 3 8 3 8 4 8 5 8 6 6 7 7 8 5 8 4 8 4 8 3 10 1 8 1 8-1 8-1 10-2 8-7 14-4 7-6 7-8 8-8 7-8 5-10 6-8 4-11 4-9 2-10 2-10 1-10 0-11-1-10-2-8-2-10-4-9-4-7-5-7-5-7-6-6-6-6-9-4-7-4-8-2-8-2-10 0-10 0-8 2-8 2-8 4-10 4-6 10-13 7-7 9-8 9-6 9-6 9-4 9-4 18-4zM2316 1196l-14 3-12 4-12 7-6 5-4 4-7 11-3 8-2 6-2 12 1 12 4 14 6 12 5 6 6 8 12 11 10 5 12 4 12 1 17 0 14-3 14-5 6-3 6-4 8-8 6-9 4-13 2-14 0-15-2-7-2-7-4-7-4-6-8-9-20-15-8-6-10-4-10 0zM2329 1249l4 0 4 1 4 3 1 3 1 4 0 4-3 4-3 2-4 1-4-1-5-2-2-4-1-4 1-4 3-4 3-2z"/><path fill="#00ffc7" fill-rule="evenodd" d="M2333 1174l14-2 16 1 14 3 12 5 12 7 11 10 9 10 8 12 6 12 4 14 1 14-1 12-3 12-6 12-7 10-12 12-10 8-17 10-14 6-13 3-16 2-14 0-13-1-16-5-13-5-12-8-12-10-9-12-6-11-4-13-1-14 1-14 2-6 2-4 2 2 1 16 2 12 5 12 7 12 6 8 9 9 10 7 8 5 10 3 12 2 15 0 12-1 12-2 10-4 8-4 8-6 7-9 5-8 4-11 2-15 0-14-2-10-4-11-6-9-8-9-17-13-9-7-10-5-8-2-8 0-35 3-2 0-2-1 1-2 4-4 11-6 10-5 16-3zM2329 1251l2 0 4 0 4 2 1 3 1 4 0 4-2 3-2 1-4 1-4-1-4-2-1-2-1-2 0-4 2-4 3-2z"/><path fill="#00ffec" fill-rule="evenodd" d="M2343 1178l14-1 12 1 12 3 12 6 10 7 11 10 8 10 7 12 5 12 2 14 1 12-2 12-4 11-6 10-8 9-10 8-6 3-4 1-3 0 0-2 7-20 3-14 1-10 0-10-1-8-2-8-3-8-4-8-5-6-6-6-7-7-24-17-8-4-12-4-3-2 1-2 4-2 7-2zM2331 1255l3 1 2 2 1 2 0 2-2 2-2 1-2 0-2-2-2-1 0-2 1-2 2-2z"/><path fill="#00e6ff" fill-rule="evenodd" d="M2357 1181l8 0 10 2 10 3 10 5 8 6 8 8 7 9 5 8 5 10 3 10 2 10 1 10-2 10-2 8-4 8-5 7-4 3-4 2-2 1-2-1-1-2-1-8 1-22-1-12-2-12-6-12-5-8-7-8-36-28-1-2 1-2 4-2z"/><path fill="#00b5ff" fill-rule="evenodd" d="M2365 1187l4 0 8 0 8 3 8 4 7 6 7 6 7 8 6 8 4 8 3 8 2 8 1 10 0 8-1 7-2 6-4 7-4 3-2 1-2-1-1-1-1-6-1-18-2-12-4-12-5-10-6-8-6-6-23-20-3-4 1-2z"/><path fill="#0084ff" fill-rule="evenodd" d="M2383 1196l6 2 3 2 11 8 10 11 6 9 4 10 1 8 1 6 1 6-1 6-2 6-2 2-3-2-5-24-3-10-4-8-9-12-14-14-2-4z"/></g></g></g>

<rect x="525.40" y="264.15" width="110.50" height="103.70" fill="none" stroke="#8a8a8a" stroke-width="0.9"/><rect x="526.10" y="264.85" width="109.10" height="102.30" fill="none" stroke="#999" stroke-width="1.0" stroke-dasharray="0.45 3.77"/><path d="M538.9 367.9v-1.6M538.9 264.1v1.6M525.4 356.5h1.6M635.9 356.5h-1.6M560.0 367.9v-1.6M560.0 264.1v1.6M525.4 336.3h1.6M635.9 336.3h-1.6M581.1 367.9v-1.6M581.1 264.1v1.6M525.4 316.2h1.6M635.9 316.2h-1.6M602.2 367.9v-1.6M602.2 264.1v1.6M525.4 296.1h1.6M635.9 296.1h-1.6M623.3 367.9v-1.6M623.3 264.1v1.6M525.4 275.9h1.6M635.9 275.9h-1.6" stroke="#666" stroke-width="0.6" fill="none"/><g font-size="8.0" fill="#1a1a1a" stroke="#1a1a1a" stroke-width="0.15"><text x="538.5" y="376.5" text-anchor="middle">−2</text><text x="523.9" y="359.4" text-anchor="end">−2</text><text x="559.6" y="376.5" text-anchor="middle">−1</text><text x="523.9" y="339.2" text-anchor="end">−1</text><text x="581.1" y="376.5" text-anchor="middle">0</text><text x="523.9" y="319.1" text-anchor="end">0</text><text x="602.2" y="376.5" text-anchor="middle">1</text><text x="523.9" y="298.9" text-anchor="end">1</text><text x="623.3" y="376.5" text-anchor="middle">2</text><text x="523.9" y="278.8" text-anchor="end">2</text></g>

<defs><linearGradient id="cb1" x1="0" y1="0" x2="0" y2="1"><stop offset="0.000" stop-color="#ff0000"/><stop offset="0.042" stop-color="#ff0a00"/><stop offset="0.083" stop-color="#ff1400"/><stop offset="0.125" stop-color="#ff1f00"/><stop offset="0.167" stop-color="#ff4e00"/><stop offset="0.208" stop-color="#ff7d00"/><stop offset="0.250" stop-color="#ffae00"/><stop offset="0.292" stop-color="#ffde00"/><stop offset="0.333" stop-color="#e2ff00"/><stop offset="0.375" stop-color="#88ff00"/><stop offset="0.417" stop-color="#2eff00"/><stop offset="0.458" stop-color="#00ff23"/><stop offset="0.500" stop-color="#00ff69"/><stop offset="0.542" stop-color="#00ffa8"/><stop offset="0.583" stop-color="#00ffe6"/><stop offset="0.625" stop-color="#00ceff"/><stop offset="0.667" stop-color="#007cff"/><stop offset="0.708" stop-color="#002aff"/><stop offset="0.750" stop-color="#1800ff"/><stop offset="0.792" stop-color="#4a00ff"/><stop offset="0.833" stop-color="#7b00ff"/><stop offset="0.875" stop-color="#a600ff"/><stop offset="0.917" stop-color="#bf00ff"/><stop offset="0.958" stop-color="#d900ff"/><stop offset="1.000" stop-color="#f200ff"/></linearGradient></defs><rect x="15.00" y="156.30" width="8.70" height="79.30" fill="url(#cb1)"/><path d="M15.00 156.00h10.20" stroke="#999" stroke-width="0.6"/><g font-size="4.6" fill="#222"><text x="24.7" y="157.8">2</text><text x="24.9" y="197.8">0</text><text x="24.3" y="236.1">−2</text></g><defs><linearGradient id="cb2" x1="0" y1="0" x2="0" y2="1"><stop offset="0.000" stop-color="#ff0000"/><stop offset="0.042" stop-color="#ff0a00"/><stop offset="0.083" stop-color="#ff1400"/><stop offset="0.125" stop-color="#ff1f00"/><stop offset="0.167" stop-color="#ff4e00"/><stop offset="0.208" stop-color="#ff7d00"/><stop offset="0.250" stop-color="#ffae00"/><stop offset="0.292" stop-color="#ffde00"/><stop offset="0.333" stop-color="#e2ff00"/><stop offset="0.375" stop-color="#88ff00"/><stop offset="0.417" stop-color="#2eff00"/><stop offset="0.458" stop-color="#00ff23"/><stop offset="0.500" stop-color="#00ff69"/><stop offset="0.542" stop-color="#00ffa8"/><stop offset="0.583" stop-color="#00ffe6"/><stop offset="0.625" stop-color="#00ceff"/><stop offset="0.667" stop-color="#007cff"/><stop offset="0.708" stop-color="#002aff"/><stop offset="0.750" stop-color="#1800ff"/><stop offset="0.792" stop-color="#4a00ff"/><stop offset="0.833" stop-color="#7b00ff"/><stop offset="0.875" stop-color="#a600ff"/><stop offset="0.917" stop-color="#bf00ff"/><stop offset="0.958" stop-color="#d900ff"/><stop offset="1.000" stop-color="#f200ff"/></linearGradient></defs><rect x="15.50" y="282.50" width="8.70" height="79.50" fill="url(#cb2)"/><path d="M15.50 282.20h10.20" stroke="#999" stroke-width="0.6"/><g font-size="4.6" fill="#222"><text x="25.2" y="284.0">2</text><text x="25.4" y="324.1">0</text><text x="24.8" y="362.5">−2</text></g><path d="M190.0 67.0L193.5 356.5" stroke="#555" stroke-width="0.9" stroke-dasharray="1.1 1.5" fill="none"/><path d="M344.4 65.6L347.5 355.6" stroke="#555" stroke-width="0.9" stroke-dasharray="1.1 1.5" fill="none"/><path d="M501.5 64.4L505.3 354.0" stroke="#555" stroke-width="0.9" stroke-dasharray="1.1 1.5" fill="none"/><text x="10" y="32.3" font-size="17.5" fill="#111">(a)</text><text x="10.5" y="148.3" font-size="17.5" fill="#111">(b)</text><text transform="translate(47.6 187.6) rotate(-90)" text-anchor="middle" font-size="13.5" font-style="italic" fill="#111" textLength="34.5" lengthAdjust="spacingAndGlyphs">Im(α)</text><text transform="translate(47.6 318.0) rotate(-90)" text-anchor="middle" font-size="13.5" font-style="italic" fill="#111" textLength="34.5" lengthAdjust="spacingAndGlyphs">Im(α)</text><text x="121.5" y="397.6" text-anchor="middle" font-size="13.5" font-style="italic" fill="#111" textLength="34" lengthAdjust="spacingAndGlyphs">Re(α)</text><text x="271.0" y="396.8" text-anchor="middle" font-size="13.5" font-style="italic" fill="#111" textLength="34" lengthAdjust="spacingAndGlyphs">Re(α)</text><text x="426.3" y="396.3" text-anchor="middle" font-size="13.5" font-style="italic" fill="#111" textLength="34" lengthAdjust="spacingAndGlyphs">Re(α)</text><text x="581.7" y="395.2" text-anchor="middle" font-size="13.5" font-style="italic" fill="#111" textLength="34" lengthAdjust="spacingAndGlyphs">Re(α)</text><defs><linearGradient id="bf" x1="0" y1="0" x2="0.25" y2="1"><stop offset="0" stop-color="#ffecd8"/><stop offset="0.5" stop-color="#ffcd9c"/><stop offset="1" stop-color="#ff9a3e"/></linearGradient><linearGradient id="br" x1="0" y1="0" x2="0" y2="1"><stop offset="0" stop-color="#e26e0a"/><stop offset="1" stop-color="#f28a30"/></linearGradient><linearGradient id="bt" x1="0" y1="1" x2="1" y2="0"><stop offset="0" stop-color="#ffbe80"/><stop offset="0.6" stop-color="#ff9636"/><stop offset="1" stop-color="#f98520"/></linearGradient><linearGradient id="bf2" x1="0" y1="0" x2="0" y2="1"><stop offset="0" stop-color="#ffcf9e"/><stop offset="1" stop-color="#ffa048"/></linearGradient></defs><path d="M50.7 57.9L52.4 105.9L143.4 122.5L177.9 78.6" fill="none" stroke="#8a8a8a" stroke-width="0.55"/><path d="M96.4 71.8L102.2 64.4L102.2 63.5L96.4 70.9z" fill="url(#br)" stroke="#e8801c" stroke-width="0.25"/><path d="M82.2 69.2L96.4 71.8L96.4 70.9L82.2 68.3z" fill="url(#bf2)" stroke="#e8801c" stroke-width="0.25"/><path d="M82.2 68.3L96.4 70.9L102.2 63.5L88 60.9z" fill="url(#bt)" stroke="#ffb877" stroke-width="0.3"/><path d="M117.8 75.7L123.6 68.3L123.6 67.4L117.8 74.8z" fill="url(#br)" stroke="#e8801c" stroke-width="0.25"/><path d="M103.6 73.1L117.8 75.7L117.8 74.8L103.6 72.2z" fill="url(#bf2)" stroke="#e8801c" stroke-width="0.25"/><path d="M103.6 72.2L117.8 74.8L123.6 67.4L109.4 64.8z" fill="url(#bt)" stroke="#ffb877" stroke-width="0.3"/><path d="M139.2 79.6L145 72.2L145 71.3L139.2 78.7z" fill="url(#br)" stroke="#e8801c" stroke-width="0.25"/><path d="M125 77L139.2 79.6L139.2 78.7L125 76.1z" fill="url(#bf2)" stroke="#e8801c" stroke-width="0.25"/><path d="M125 76.1L139.2 78.7L145 71.3L130.8 68.7z" fill="url(#bt)" stroke="#ffb877" stroke-width="0.3"/><path d="M160.6 83.5L166.4 76.1L166.4 75.2L160.6 82.6z" fill="url(#br)" stroke="#e8801c" stroke-width="0.25"/><path d="M146.4 80.9L160.6 83.5L160.6 82.6L146.4 80z" fill="url(#bf2)" stroke="#e8801c" stroke-width="0.25"/><path d="M146.4 80L160.6 82.6L166.4 75.2L152.2 72.6z" fill="url(#bt)" stroke="#ffb877" stroke-width="0.3"/><path d="M87.6 83L93.4 75.6L93.4 74.7L87.6 82.1z" fill="url(#br)" stroke="#e8801c" stroke-width="0.25"/><path d="M73.4 80.4L87.6 83L87.6 82.1L73.4 79.5z" fill="url(#bf2)" stroke="#e8801c" stroke-width="0.25"/><path d="M73.4 79.5L87.6 82.1L93.4 74.7L79.2 72.1z" fill="url(#bt)" stroke="#ffb877" stroke-width="0.3"/><path d="M109 86.9L114.8 79.5L114.8 78.6L109 86z" fill="url(#br)" stroke="#e8801c" stroke-width="0.25"/><path d="M94.8 84.3L109 86.9L109 86L94.8 83.4z" fill="url(#bf2)" stroke="#e8801c" stroke-width="0.25"/><path d="M94.8 83.4L109 86L114.8 78.6L100.6 76z" fill="url(#bt)" stroke="#ffb877" stroke-width="0.3"/><path d="M130.4 90.8L136.2 83.4L136.2 82.5L130.4 89.9z" fill="url(#br)" stroke="#e8801c" stroke-width="0.25"/><path d="M116.2 88.2L130.4 90.8L130.4 89.9L116.2 87.3z" fill="url(#bf2)" stroke="#e8801c" stroke-width="0.25"/><path d="M116.2 87.3L130.4 89.9L136.2 82.5L122 79.9z" fill="url(#bt)" stroke="#ffb877" stroke-width="0.3"/><path d="M151.8 94.7L157.6 87.3L157.6 86.4L151.8 93.8z" fill="url(#br)" stroke="#e8801c" stroke-width="0.25"/><path d="M137.6 92.1L151.8 94.7L151.8 93.8L137.6 91.2z" fill="url(#bf2)" stroke="#e8801c" stroke-width="0.25"/><path d="M137.6 91.2L151.8 93.8L157.6 86.4L143.4 83.8z" fill="url(#bt)" stroke="#ffb877" stroke-width="0.3"/><path d="M78.8 94.2L84.6 86.8L84.6 48.1L78.8 55.5z" fill="url(#br)" stroke="#e8801c" stroke-width="0.25"/><path d="M64.6 91.6L78.8 94.2L78.8 55.5L64.6 52.9z" fill="url(#bf)" stroke="#e8801c" stroke-width="0.25"/><path d="M64.6 52.9L78.8 55.5L84.6 48.1L70.4 45.5z" fill="url(#bt)" stroke="#ffb877" stroke-width="0.3"/><path d="M100.2 98.1L106 90.7L106 52L100.2 59.4z" fill="url(#br)" stroke="#e8801c" stroke-width="0.25"/><path d="M86 95.5L100.2 98.1L100.2 59.4L86 56.8z" fill="url(#bf)" stroke="#e8801c" stroke-width="0.25"/><path d="M86 56.8L100.2 59.4L106 52L91.8 49.4z" fill="url(#bt)" stroke="#ffb877" stroke-width="0.3"/><path d="M121.6 102L127.4 94.6L127.4 93.7L121.6 101.1z" fill="url(#br)" stroke="#e8801c" stroke-width="0.25"/><path d="M107.4 99.4L121.6 102L121.6 101.1L107.4 98.5z" fill="url(#bf2)" stroke="#e8801c" stroke-width="0.25"/><path d="M107.4 98.5L121.6 101.1L127.4 93.7L113.2 91.1z" fill="url(#bt)" stroke="#ffb877" stroke-width="0.3"/><path d="M143 105.9L148.8 98.5L148.8 97.6L143 105z" fill="url(#br)" stroke="#e8801c" stroke-width="0.25"/><path d="M128.8 103.3L143 105.9L143 105L128.8 102.4z" fill="url(#bf2)" stroke="#e8801c" stroke-width="0.25"/><path d="M128.8 102.4L143 105L148.8 97.6L134.6 95z" fill="url(#bt)" stroke="#ffb877" stroke-width="0.3"/><path d="M70 105.4L75.8 98L75.8 59.3L70 66.7z" fill="url(#br)" stroke="#e8801c" stroke-width="0.25"/><path d="M55.8 102.8L70 105.4L70 66.7L55.8 64.1z" fill="url(#bf)" stroke="#e8801c" stroke-width="0.25"/><path d="M55.8 64.1L70 66.7L75.8 59.3L61.6 56.7z" fill="url(#bt)" stroke="#ffb877" stroke-width="0.3"/><path d="M91.4 109.3L97.2 101.9L97.2 63.2L91.4 70.6z" fill="url(#br)" stroke="#e8801c" stroke-width="0.25"/><path d="M77.2 106.7L91.4 109.3L91.4 70.6L77.2 68z" fill="url(#bf)" stroke="#e8801c" stroke-width="0.25"/><path d="M77.2 68L91.4 70.6L97.2 63.2L83 60.6z" fill="url(#bt)" stroke="#ffb877" stroke-width="0.3"/><path d="M112.8 113.2L118.6 105.8L118.6 104.9L112.8 112.3z" fill="url(#br)" stroke="#e8801c" stroke-width="0.25"/><path d="M98.6 110.6L112.8 113.2L112.8 112.3L98.6 109.7z" fill="url(#bf2)" stroke="#e8801c" stroke-width="0.25"/><path d="M98.6 109.7L112.8 112.3L118.6 104.9L104.4 102.3z" fill="url(#bt)" stroke="#ffb877" stroke-width="0.3"/><path d="M134.2 117.1L140 109.7L140 108.8L134.2 116.2z" fill="url(#br)" stroke="#e8801c" stroke-width="0.25"/><path d="M120 114.5L134.2 117.1L134.2 116.2L120 113.6z" fill="url(#bf2)" stroke="#e8801c" stroke-width="0.25"/><path d="M120 113.6L134.2 116.2L140 108.8L125.8 106.2z" fill="url(#bt)" stroke="#ffb877" stroke-width="0.3"/><g font-size="5.6" fill="#222" style="font-family:'Liberation Sans'"><text x="49.1" y="59.5" text-anchor="end">0.6</text><path d="M50.7 57.9h1.3" stroke="#888" stroke-width="0.4"/><text x="50.0" y="83.5" text-anchor="end">0.3</text><path d="M51.6 81.9h1.3" stroke="#888" stroke-width="0.4"/><text x="50.8" y="106.5" text-anchor="end">0</text><text x="61.9" y="107.0" text-anchor="middle">0</text><text x="83.4" y="111.2" text-anchor="middle">1</text><text x="104.8" y="115.3" text-anchor="middle">2</text><text x="126.3" y="119.5" text-anchor="middle">3</text><text x="146.3" y="118.3" text-anchor="middle" transform="rotate(-35 146.3 116.3)">0</text><text x="154.5" y="106.9" text-anchor="middle" transform="rotate(-35 154.5 104.9)">1</text><text x="162.8" y="95.4" text-anchor="middle" transform="rotate(-35 162.8 93.4)">2</text><text x="171.0" y="84.0" text-anchor="middle" transform="rotate(-35 171.0 82.0)">3</text></g><path d="M211.0 56.7L212.7 104.2L302.6 121.7L334.1 79.8" fill="none" stroke="#8a8a8a" stroke-width="0.55"/><path d="M254.8 69.2L259.3 63.2L259.3 62.4L254.8 68.4z" fill="url(#br)" stroke="#e8801c" stroke-width="0.25"/><path d="M243.3 67L254.8 69.2L254.8 68.4L243.3 66.1z" fill="url(#bf2)" stroke="#e8801c" stroke-width="0.25"/><path d="M243.3 66.1L254.8 68.4L259.3 62.4L247.8 60.1z" fill="url(#bt)" stroke="#ffb877" stroke-width="0.3"/><path d="M271.7 72.5L276.2 66.5L276.2 65.7L271.7 71.7z" fill="url(#br)" stroke="#e8801c" stroke-width="0.25"/><path d="M260.2 70.3L271.7 72.5L271.7 71.7L260.2 69.4z" fill="url(#bf2)" stroke="#e8801c" stroke-width="0.25"/><path d="M260.2 69.4L271.7 71.7L276.2 65.7L264.7 63.4z" fill="url(#bt)" stroke="#ffb877" stroke-width="0.3"/><path d="M288.6 75.8L293.1 69.8L293.1 69L288.6 75z" fill="url(#br)" stroke="#e8801c" stroke-width="0.25"/><path d="M277.1 73.6L288.6 75.8L288.6 75L277.1 72.7z" fill="url(#bf2)" stroke="#e8801c" stroke-width="0.25"/><path d="M277.1 72.7L288.6 75L293.1 69L281.6 66.7z" fill="url(#bt)" stroke="#ffb877" stroke-width="0.3"/><path d="M305.5 79.1L310 73.1L310 72.3L305.5 78.3z" fill="url(#br)" stroke="#e8801c" stroke-width="0.25"/><path d="M294 76.9L305.5 79.1L305.5 78.3L294 76z" fill="url(#bf2)" stroke="#e8801c" stroke-width="0.25"/><path d="M294 76L305.5 78.3L310 72.3L298.5 70z" fill="url(#bt)" stroke="#ffb877" stroke-width="0.3"/><path d="M322.4 82.4L326.9 76.4L326.9 75.6L322.4 81.6z" fill="url(#br)" stroke="#e8801c" stroke-width="0.25"/><path d="M310.9 80.2L322.4 82.4L322.4 81.6L310.9 79.3z" fill="url(#bf2)" stroke="#e8801c" stroke-width="0.25"/><path d="M310.9 79.3L322.4 81.6L326.9 75.6L315.4 73.3z" fill="url(#bt)" stroke="#ffb877" stroke-width="0.3"/><path d="M248.2 78L252.7 72L252.7 71.2L248.2 77.2z" fill="url(#br)" stroke="#e8801c" stroke-width="0.25"/><path d="M236.7 75.8L248.2 78L248.2 77.2L236.7 74.9z" fill="url(#bf2)" stroke="#e8801c" stroke-width="0.25"/><path d="M236.7 74.9L248.2 77.2L252.7 71.2L241.2 68.9z" fill="url(#bt)" stroke="#ffb877" stroke-width="0.3"/><path d="M265.1 81.3L269.6 75.3L269.6 73L265.1 79z" fill="url(#br)" stroke="#e8801c" stroke-width="0.25"/><path d="M253.6 79.1L265.1 81.3L265.1 79L253.6 76.7z" fill="url(#bf2)" stroke="#e8801c" stroke-width="0.25"/><path d="M253.6 76.7L265.1 79L269.6 73L258.1 70.7z" fill="url(#bt)" stroke="#ffb877" stroke-width="0.3"/><path d="M282 84.6L286.5 78.6L286.5 75.5L282 81.5z" fill="url(#br)" stroke="#e8801c" stroke-width="0.25"/><path d="M270.5 82.4L282 84.6L282 81.5L270.5 79.2z" fill="url(#bf2)" stroke="#e8801c" stroke-width="0.25"/><path d="M270.5 79.2L282 81.5L286.5 75.5L275 73.3z" fill="url(#bt)" stroke="#ffb877" stroke-width="0.3"/><path d="M298.9 87.9L303.4 81.9L303.4 78.8L298.9 84.8z" fill="url(#br)" stroke="#e8801c" stroke-width="0.25"/><path d="M287.4 85.7L298.9 87.9L298.9 84.8L287.4 82.5z" fill="url(#bf2)" stroke="#e8801c" stroke-width="0.25"/><path d="M287.4 82.5L298.9 84.8L303.4 78.8L291.9 76.6z" fill="url(#bt)" stroke="#ffb877" stroke-width="0.3"/><path d="M315.8 91.2L320.3 85.2L320.3 84.4L315.8 90.4z" fill="url(#br)" stroke="#e8801c" stroke-width="0.25"/><path d="M304.3 89L315.8 91.2L315.8 90.4L304.3 88.1z" fill="url(#bf2)" stroke="#e8801c" stroke-width="0.25"/><path d="M304.3 88.1L315.8 90.4L320.3 84.4L308.8 82.1z" fill="url(#bt)" stroke="#ffb877" stroke-width="0.3"/><path d="M241.6 86.8L246.1 80.8L246.1 73L241.6 79z" fill="url(#br)" stroke="#e8801c" stroke-width="0.25"/><path d="M230.1 84.6L241.6 86.8L241.6 79L230.1 76.8z" fill="url(#bf)" stroke="#e8801c" stroke-width="0.25"/><path d="M230.1 76.8L241.6 79L246.1 73L234.6 70.8z" fill="url(#bt)" stroke="#ffb877" stroke-width="0.3"/><path d="M258.5 90.1L263 84.1L263 49.8L258.5 55.8z" fill="url(#br)" stroke="#e8801c" stroke-width="0.25"/><path d="M247 87.9L258.5 90.1L258.5 55.8L247 53.5z" fill="url(#bf)" stroke="#e8801c" stroke-width="0.25"/><path d="M247 53.5L258.5 55.8L263 49.8L251.5 47.6z" fill="url(#bt)" stroke="#ffb877" stroke-width="0.3"/><path d="M275.4 93.4L279.9 87.4L279.9 53.1L275.4 59.1z" fill="url(#br)" stroke="#e8801c" stroke-width="0.25"/><path d="M263.9 91.2L275.4 93.4L275.4 59.1L263.9 56.8z" fill="url(#bf)" stroke="#e8801c" stroke-width="0.25"/><path d="M263.9 56.8L275.4 59.1L279.9 53.1L268.4 50.9z" fill="url(#bt)" stroke="#ffb877" stroke-width="0.3"/><path d="M292.3 96.7L296.8 90.7L296.8 87.6L292.3 93.6z" fill="url(#br)" stroke="#e8801c" stroke-width="0.25"/><path d="M280.8 94.5L292.3 96.7L292.3 93.6L280.8 91.3z" fill="url(#bf2)" stroke="#e8801c" stroke-width="0.25"/><path d="M280.8 91.3L292.3 93.6L296.8 87.6L285.3 85.4z" fill="url(#bt)" stroke="#ffb877" stroke-width="0.3"/><path d="M309.2 100L313.7 94L313.7 93.2L309.2 99.2z" fill="url(#br)" stroke="#e8801c" stroke-width="0.25"/><path d="M297.7 97.8L309.2 100L309.2 99.2L297.7 96.9z" fill="url(#bf2)" stroke="#e8801c" stroke-width="0.25"/><path d="M297.7 96.9L309.2 99.2L313.7 93.2L302.2 90.9z" fill="url(#bt)" stroke="#ffb877" stroke-width="0.3"/><path d="M235 95.6L239.5 89.6L239.5 80.3L235 86.3z" fill="url(#br)" stroke="#e8801c" stroke-width="0.25"/><path d="M223.5 93.4L235 95.6L235 86.3L223.5 84z" fill="url(#bf)" stroke="#e8801c" stroke-width="0.25"/><path d="M223.5 84L235 86.3L239.5 80.3L228 78z" fill="url(#bt)" stroke="#ffb877" stroke-width="0.3"/><path d="M251.9 98.9L256.4 92.9L256.4 56.3L251.9 62.3z" fill="url(#br)" stroke="#e8801c" stroke-width="0.25"/><path d="M240.4 96.7L251.9 98.9L251.9 62.3L240.4 60z" fill="url(#bf)" stroke="#e8801c" stroke-width="0.25"/><path d="M240.4 60L251.9 62.3L256.4 56.3L244.9 54z" fill="url(#bt)" stroke="#ffb877" stroke-width="0.3"/><path d="M268.8 102.2L273.3 96.2L273.3 62.7L268.8 68.7z" fill="url(#br)" stroke="#e8801c" stroke-width="0.25"/><path d="M257.3 100L268.8 102.2L268.8 68.7L257.3 66.4z" fill="url(#bf)" stroke="#e8801c" stroke-width="0.25"/><path d="M257.3 66.4L268.8 68.7L273.3 62.7L261.8 60.4z" fill="url(#bt)" stroke="#ffb877" stroke-width="0.3"/><path d="M285.7 105.5L290.2 99.5L290.2 97.2L285.7 103.2z" fill="url(#br)" stroke="#e8801c" stroke-width="0.25"/><path d="M274.2 103.3L285.7 105.5L285.7 103.2L274.2 100.9z" fill="url(#bf2)" stroke="#e8801c" stroke-width="0.25"/><path d="M274.2 100.9L285.7 103.2L290.2 97.2L278.7 94.9z" fill="url(#bt)" stroke="#ffb877" stroke-width="0.3"/><path d="M302.6 108.8L307.1 102.8L307.1 102L302.6 108z" fill="url(#br)" stroke="#e8801c" stroke-width="0.25"/><path d="M291.1 106.6L302.6 108.8L302.6 108L291.1 105.7z" fill="url(#bf2)" stroke="#e8801c" stroke-width="0.25"/><path d="M291.1 105.7L302.6 108L307.1 102L295.6 99.7z" fill="url(#bt)" stroke="#ffb877" stroke-width="0.3"/><path d="M228.4 104.4L232.9 98.4L232.9 94.9L228.4 100.9z" fill="url(#br)" stroke="#e8801c" stroke-width="0.25"/><path d="M216.9 102.2L228.4 104.4L228.4 100.9L216.9 98.7z" fill="url(#bf2)" stroke="#e8801c" stroke-width="0.25"/><path d="M216.9 98.7L228.4 100.9L232.9 94.9L221.4 92.7z" fill="url(#bt)" stroke="#ffb877" stroke-width="0.3"/><path d="M245.3 107.7L249.8 101.7L249.8 94.7L245.3 100.7z" fill="url(#br)" stroke="#e8801c" stroke-width="0.25"/><path d="M233.8 105.5L245.3 107.7L245.3 100.7L233.8 98.5z" fill="url(#bf)" stroke="#e8801c" stroke-width="0.25"/><path d="M233.8 98.5L245.3 100.7L249.8 94.7L238.3 92.5z" fill="url(#bt)" stroke="#ffb877" stroke-width="0.3"/><path d="M262.2 111L266.7 105L266.7 97.5L262.2 103.5z" fill="url(#br)" stroke="#e8801c" stroke-width="0.25"/><path d="M250.7 108.8L262.2 111L262.2 103.5L250.7 101.3z" fill="url(#bf)" stroke="#e8801c" stroke-width="0.25"/><path d="M250.7 101.3L262.2 103.5L266.7 97.5L255.2 95.3z" fill="url(#bt)" stroke="#ffb877" stroke-width="0.3"/><path d="M279.1 114.3L283.6 108.3L283.6 107.5L279.1 113.5z" fill="url(#br)" stroke="#e8801c" stroke-width="0.25"/><path d="M267.6 112.1L279.1 114.3L279.1 113.5L267.6 111.2z" fill="url(#bf2)" stroke="#e8801c" stroke-width="0.25"/><path d="M267.6 111.2L279.1 113.5L283.6 107.5L272.1 105.2z" fill="url(#bt)" stroke="#ffb877" stroke-width="0.3"/><path d="M296 117.6L300.5 111.6L300.5 110.8L296 116.8z" fill="url(#br)" stroke="#e8801c" stroke-width="0.25"/><path d="M284.5 115.4L296 117.6L296 116.8L284.5 114.5z" fill="url(#bf2)" stroke="#e8801c" stroke-width="0.25"/><path d="M284.5 114.5L296 116.8L300.5 110.8L289 108.5z" fill="url(#bt)" stroke="#ffb877" stroke-width="0.3"/><g font-size="5.8" fill="#222" style="font-family:'Liberation Sans'"><text x="209.4" y="58.3" text-anchor="end">0.6</text><path d="M211.0 56.7h1.3" stroke="#888" stroke-width="0.4"/><text x="210.2" y="82.0" text-anchor="end">0.3</text><path d="M211.8 80.4h1.3" stroke="#888" stroke-width="0.4"/><text x="211.1" y="104.8" text-anchor="end">0</text><text x="220.6" y="106.7" text-anchor="middle">0</text><text x="237.4" y="110.2" text-anchor="middle">1</text><text x="254.3" y="113.7" text-anchor="middle">2</text><text x="271.1" y="117.2" text-anchor="middle">3</text><text x="288.0" y="120.7" text-anchor="middle">4</text><text x="305.2" y="118.8" text-anchor="middle" transform="rotate(-35 305.2 116.7)">0</text><text x="311.7" y="109.7" text-anchor="middle" transform="rotate(-35 311.7 107.6)">1</text><text x="318.2" y="100.6" text-anchor="middle" transform="rotate(-35 318.2 98.6)">2</text><text x="324.8" y="91.6" text-anchor="middle" transform="rotate(-35 324.8 89.5)">3</text><text x="331.3" y="82.5" text-anchor="middle" transform="rotate(-35 331.3 80.4)">4</text></g><path d="M366.5 56.9L368.2 103.5L457.4 123.0L490.5 77.4" fill="none" stroke="#8a8a8a" stroke-width="0.55"/><path d="M408.2 65.4L411.8 60.5L411.8 59.6L408.2 64.5z" fill="url(#br)" stroke="#e8801c" stroke-width="0.25"/><path d="M399.2 63.4L408.2 65.4L408.2 64.5L399.2 62.6z" fill="url(#bf2)" stroke="#e8801c" stroke-width="0.25"/><path d="M399.2 62.6L408.2 64.5L411.8 59.6L402.8 57.6z" fill="url(#bt)" stroke="#ffb877" stroke-width="0.3"/><path d="M421.9 68.4L425.5 63.5L425.5 62.6L421.9 67.5z" fill="url(#br)" stroke="#e8801c" stroke-width="0.25"/><path d="M412.9 66.4L421.9 68.4L421.9 67.5L412.9 65.6z" fill="url(#bf2)" stroke="#e8801c" stroke-width="0.25"/><path d="M412.9 65.6L421.9 67.5L425.5 62.6L416.5 60.6z" fill="url(#bt)" stroke="#ffb877" stroke-width="0.3"/><path d="M435.6 71.4L439.2 66.5L439.2 65.6L435.6 70.5z" fill="url(#br)" stroke="#e8801c" stroke-width="0.25"/><path d="M426.6 69.4L435.6 71.4L435.6 70.5L426.6 68.6z" fill="url(#bf2)" stroke="#e8801c" stroke-width="0.25"/><path d="M426.6 68.6L435.6 70.5L439.2 65.6L430.2 63.6z" fill="url(#bt)" stroke="#ffb877" stroke-width="0.3"/><path d="M449.3 74.4L452.9 69.5L452.9 68.6L449.3 73.5z" fill="url(#br)" stroke="#e8801c" stroke-width="0.25"/><path d="M440.3 72.4L449.3 74.4L449.3 73.5L440.3 71.6z" fill="url(#bf2)" stroke="#e8801c" stroke-width="0.25"/><path d="M440.3 71.6L449.3 73.5L452.9 68.6L443.9 66.6z" fill="url(#bt)" stroke="#ffb877" stroke-width="0.3"/><path d="M463 77.4L466.6 72.5L466.6 71.6L463 76.5z" fill="url(#br)" stroke="#e8801c" stroke-width="0.25"/><path d="M454 75.4L463 77.4L463 76.5L454 74.6z" fill="url(#bf2)" stroke="#e8801c" stroke-width="0.25"/><path d="M454 74.6L463 76.5L466.6 71.6L457.6 69.6z" fill="url(#bt)" stroke="#ffb877" stroke-width="0.3"/><path d="M476.7 80.4L480.3 75.5L480.3 74.6L476.7 79.5z" fill="url(#br)" stroke="#e8801c" stroke-width="0.25"/><path d="M467.7 78.4L476.7 80.4L476.7 79.5L467.7 77.6z" fill="url(#bf2)" stroke="#e8801c" stroke-width="0.25"/><path d="M467.7 77.6L476.7 79.5L480.3 74.6L471.3 72.6z" fill="url(#bt)" stroke="#ffb877" stroke-width="0.3"/><path d="M402.8 72.8L406.4 67.9L406.4 67.1L402.8 72z" fill="url(#br)" stroke="#e8801c" stroke-width="0.25"/><path d="M393.8 70.9L402.8 72.8L402.8 72L393.8 70z" fill="url(#bf2)" stroke="#e8801c" stroke-width="0.25"/><path d="M393.8 70L402.8 72L406.4 67.1L397.4 65.1z" fill="url(#bt)" stroke="#ffb877" stroke-width="0.3"/><path d="M416.5 75.8L420.1 70.9L420.1 70.1L416.5 75z" fill="url(#br)" stroke="#e8801c" stroke-width="0.25"/><path d="M407.5 73.9L416.5 75.8L416.5 75L407.5 73z" fill="url(#bf2)" stroke="#e8801c" stroke-width="0.25"/><path d="M407.5 73L416.5 75L420.1 70.1L411.1 68.1z" fill="url(#bt)" stroke="#ffb877" stroke-width="0.3"/><path d="M430.2 78.8L433.8 73.9L433.8 66.1L430.2 71z" fill="url(#br)" stroke="#e8801c" stroke-width="0.25"/><path d="M421.2 76.9L430.2 78.8L430.2 71L421.2 69z" fill="url(#bf)" stroke="#e8801c" stroke-width="0.25"/><path d="M421.2 69L430.2 71L433.8 66.1L424.8 64.1z" fill="url(#bt)" stroke="#ffb877" stroke-width="0.3"/><path d="M443.9 81.8L447.5 76.9L447.5 69.1L443.9 74z" fill="url(#br)" stroke="#e8801c" stroke-width="0.25"/><path d="M434.9 79.9L443.9 81.8L443.9 74L434.9 72z" fill="url(#bf)" stroke="#e8801c" stroke-width="0.25"/><path d="M434.9 72L443.9 74L447.5 69.1L438.5 67.1z" fill="url(#bt)" stroke="#ffb877" stroke-width="0.3"/><path d="M457.6 84.8L461.2 79.9L461.2 72.1L457.6 77z" fill="url(#br)" stroke="#e8801c" stroke-width="0.25"/><path d="M448.6 82.9L457.6 84.8L457.6 77L448.6 75z" fill="url(#bf)" stroke="#e8801c" stroke-width="0.25"/><path d="M448.6 75L457.6 77L461.2 72.1L452.2 70.1z" fill="url(#bt)" stroke="#ffb877" stroke-width="0.3"/><path d="M471.3 87.8L474.9 82.9L474.9 82.1L471.3 87z" fill="url(#br)" stroke="#e8801c" stroke-width="0.25"/><path d="M462.3 85.9L471.3 87.8L471.3 87L462.3 85z" fill="url(#bf2)" stroke="#e8801c" stroke-width="0.25"/><path d="M462.3 85L471.3 87L474.9 82.1L465.9 80.1z" fill="url(#bt)" stroke="#ffb877" stroke-width="0.3"/><path d="M397.4 80.3L401 75.4L401 74.5L397.4 79.4z" fill="url(#br)" stroke="#e8801c" stroke-width="0.25"/><path d="M388.4 78.3L397.4 80.3L397.4 79.4L388.4 77.5z" fill="url(#bf2)" stroke="#e8801c" stroke-width="0.25"/><path d="M388.4 77.5L397.4 79.4L401 74.5L392 72.5z" fill="url(#bt)" stroke="#ffb877" stroke-width="0.3"/><path d="M411.1 83.3L414.7 78.4L414.7 76L411.1 80.9z" fill="url(#br)" stroke="#e8801c" stroke-width="0.25"/><path d="M402.1 81.3L411.1 83.3L411.1 80.9L402.1 79z" fill="url(#bf2)" stroke="#e8801c" stroke-width="0.25"/><path d="M402.1 79L411.1 80.9L414.7 76L405.7 74.1z" fill="url(#bt)" stroke="#ffb877" stroke-width="0.3"/><path d="M424.8 86.3L428.4 81.4L428.4 48.5L424.8 53.4z" fill="url(#br)" stroke="#e8801c" stroke-width="0.25"/><path d="M415.8 84.3L424.8 86.3L424.8 53.4L415.8 51.4z" fill="url(#bf)" stroke="#e8801c" stroke-width="0.25"/><path d="M415.8 51.4L424.8 53.4L428.4 48.5L419.4 46.5z" fill="url(#bt)" stroke="#ffb877" stroke-width="0.3"/><path d="M438.5 89.3L442.1 84.4L442.1 47.6L438.5 52.5z" fill="url(#br)" stroke="#e8801c" stroke-width="0.25"/><path d="M429.5 87.3L438.5 89.3L438.5 52.5L429.5 50.5z" fill="url(#bf)" stroke="#e8801c" stroke-width="0.25"/><path d="M429.5 50.5L438.5 52.5L442.1 47.6L433.1 45.6z" fill="url(#bt)" stroke="#ffb877" stroke-width="0.3"/><path d="M452.2 92.3L455.8 87.4L455.8 78L452.2 82.9z" fill="url(#br)" stroke="#e8801c" stroke-width="0.25"/><path d="M443.2 90.3L452.2 92.3L452.2 82.9L443.2 80.9z" fill="url(#bf)" stroke="#e8801c" stroke-width="0.25"/><path d="M443.2 80.9L452.2 82.9L455.8 78L446.8 76z" fill="url(#bt)" stroke="#ffb877" stroke-width="0.3"/><path d="M465.9 95.3L469.5 90.4L469.5 89.5L465.9 94.4z" fill="url(#br)" stroke="#e8801c" stroke-width="0.25"/><path d="M456.9 93.3L465.9 95.3L465.9 94.4L456.9 92.5z" fill="url(#bf2)" stroke="#e8801c" stroke-width="0.25"/><path d="M456.9 92.5L465.9 94.4L469.5 89.5L460.5 87.5z" fill="url(#bt)" stroke="#ffb877" stroke-width="0.3"/><path d="M392 87.7L395.6 82.8L395.6 82L392 86.9z" fill="url(#br)" stroke="#e8801c" stroke-width="0.25"/><path d="M383 85.8L392 87.7L392 86.9L383 84.9z" fill="url(#bf2)" stroke="#e8801c" stroke-width="0.25"/><path d="M383 84.9L392 86.9L395.6 82L386.6 80z" fill="url(#bt)" stroke="#ffb877" stroke-width="0.3"/><path d="M405.7 90.7L409.3 85.8L409.3 83.5L405.7 88.4z" fill="url(#br)" stroke="#e8801c" stroke-width="0.25"/><path d="M396.7 88.8L405.7 90.7L405.7 88.4L396.7 86.4z" fill="url(#bf2)" stroke="#e8801c" stroke-width="0.25"/><path d="M396.7 86.4L405.7 88.4L409.3 83.5L400.3 81.5z" fill="url(#bt)" stroke="#ffb877" stroke-width="0.3"/><path d="M419.4 93.7L423 88.8L423 57.5L419.4 62.4z" fill="url(#br)" stroke="#e8801c" stroke-width="0.25"/><path d="M410.4 91.8L419.4 93.7L419.4 62.4L410.4 60.4z" fill="url(#bf)" stroke="#e8801c" stroke-width="0.25"/><path d="M410.4 60.4L419.4 62.4L423 57.5L414 55.5z" fill="url(#bt)" stroke="#ffb877" stroke-width="0.3"/><path d="M433.1 96.7L436.7 91.8L436.7 57.8L433.1 62.7z" fill="url(#br)" stroke="#e8801c" stroke-width="0.25"/><path d="M424.1 94.8L433.1 96.7L433.1 62.7L424.1 60.7z" fill="url(#bf)" stroke="#e8801c" stroke-width="0.25"/><path d="M424.1 60.7L433.1 62.7L436.7 57.8L427.7 55.8z" fill="url(#bt)" stroke="#ffb877" stroke-width="0.3"/><path d="M446.8 99.7L450.4 94.8L450.4 83.9L446.8 88.8z" fill="url(#br)" stroke="#e8801c" stroke-width="0.25"/><path d="M437.8 97.8L446.8 99.7L446.8 88.8L437.8 86.8z" fill="url(#bf)" stroke="#e8801c" stroke-width="0.25"/><path d="M437.8 86.8L446.8 88.8L450.4 83.9L441.4 81.9z" fill="url(#bt)" stroke="#ffb877" stroke-width="0.3"/><path d="M460.5 102.7L464.1 97.8L464.1 97L460.5 101.9z" fill="url(#br)" stroke="#e8801c" stroke-width="0.25"/><path d="M451.5 100.8L460.5 102.7L460.5 101.9L451.5 99.9z" fill="url(#bf2)" stroke="#e8801c" stroke-width="0.25"/><path d="M451.5 99.9L460.5 101.9L464.1 97L455.1 95z" fill="url(#bt)" stroke="#ffb877" stroke-width="0.3"/><path d="M386.6 95.2L390.2 90.3L390.2 89.4L386.6 94.3z" fill="url(#br)" stroke="#e8801c" stroke-width="0.25"/><path d="M377.6 93.2L386.6 95.2L386.6 94.3L377.6 92.4z" fill="url(#bf2)" stroke="#e8801c" stroke-width="0.25"/><path d="M377.6 92.4L386.6 94.3L390.2 89.4L381.2 87.4z" fill="url(#bt)" stroke="#ffb877" stroke-width="0.3"/><path d="M400.3 98.2L403.9 93.3L403.9 92.4L400.3 97.3z" fill="url(#br)" stroke="#e8801c" stroke-width="0.25"/><path d="M391.3 96.2L400.3 98.2L400.3 97.3L391.3 95.4z" fill="url(#bf2)" stroke="#e8801c" stroke-width="0.25"/><path d="M391.3 95.4L400.3 97.3L403.9 92.4L394.9 90.4z" fill="url(#bt)" stroke="#ffb877" stroke-width="0.3"/><path d="M414 101.2L417.6 96.3L417.6 93.9L414 98.8z" fill="url(#br)" stroke="#e8801c" stroke-width="0.25"/><path d="M405 99.2L414 101.2L414 98.8L405 96.9z" fill="url(#bf2)" stroke="#e8801c" stroke-width="0.25"/><path d="M405 96.9L414 98.8L417.6 93.9L408.6 92z" fill="url(#bt)" stroke="#ffb877" stroke-width="0.3"/><path d="M427.7 104.2L431.3 99.3L431.3 96.9L427.7 101.8z" fill="url(#br)" stroke="#e8801c" stroke-width="0.25"/><path d="M418.7 102.2L427.7 104.2L427.7 101.8L418.7 99.9z" fill="url(#bf2)" stroke="#e8801c" stroke-width="0.25"/><path d="M418.7 99.9L427.7 101.8L431.3 96.9L422.3 95z" fill="url(#bt)" stroke="#ffb877" stroke-width="0.3"/><path d="M441.4 107.2L445 102.3L445 101.4L441.4 106.3z" fill="url(#br)" stroke="#e8801c" stroke-width="0.25"/><path d="M432.4 105.2L441.4 107.2L441.4 106.3L432.4 104.4z" fill="url(#bf2)" stroke="#e8801c" stroke-width="0.25"/><path d="M432.4 104.4L441.4 106.3L445 101.4L436 99.4z" fill="url(#bt)" stroke="#ffb877" stroke-width="0.3"/><path d="M455.1 110.2L458.7 105.3L458.7 104.4L455.1 109.3z" fill="url(#br)" stroke="#e8801c" stroke-width="0.25"/><path d="M446.1 108.2L455.1 110.2L455.1 109.3L446.1 107.4z" fill="url(#bf2)" stroke="#e8801c" stroke-width="0.25"/><path d="M446.1 107.4L455.1 109.3L458.7 104.4L449.7 102.4z" fill="url(#bt)" stroke="#ffb877" stroke-width="0.3"/><path d="M381.2 102.6L384.8 97.7L384.8 96.9L381.2 101.8z" fill="url(#br)" stroke="#e8801c" stroke-width="0.25"/><path d="M372.2 100.7L381.2 102.6L381.2 101.8L372.2 99.8z" fill="url(#bf2)" stroke="#e8801c" stroke-width="0.25"/><path d="M372.2 99.8L381.2 101.8L384.8 96.9L375.8 94.9z" fill="url(#bt)" stroke="#ffb877" stroke-width="0.3"/><path d="M394.9 105.6L398.5 100.7L398.5 99.9L394.9 104.8z" fill="url(#br)" stroke="#e8801c" stroke-width="0.25"/><path d="M385.9 103.7L394.9 105.6L394.9 104.8L385.9 102.8z" fill="url(#bf2)" stroke="#e8801c" stroke-width="0.25"/><path d="M385.9 102.8L394.9 104.8L398.5 99.9L389.5 97.9z" fill="url(#bt)" stroke="#ffb877" stroke-width="0.3"/><path d="M408.6 108.6L412.2 103.7L412.2 102.9L408.6 107.8z" fill="url(#br)" stroke="#e8801c" stroke-width="0.25"/><path d="M399.6 106.7L408.6 108.6L408.6 107.8L399.6 105.8z" fill="url(#bf2)" stroke="#e8801c" stroke-width="0.25"/><path d="M399.6 105.8L408.6 107.8L412.2 102.9L403.2 100.9z" fill="url(#bt)" stroke="#ffb877" stroke-width="0.3"/><path d="M422.3 111.6L425.9 106.7L425.9 105.9L422.3 110.8z" fill="url(#br)" stroke="#e8801c" stroke-width="0.25"/><path d="M413.3 109.7L422.3 111.6L422.3 110.8L413.3 108.8z" fill="url(#bf2)" stroke="#e8801c" stroke-width="0.25"/><path d="M413.3 108.8L422.3 110.8L425.9 105.9L416.9 103.9z" fill="url(#bt)" stroke="#ffb877" stroke-width="0.3"/><path d="M436 114.6L439.6 109.7L439.6 108.9L436 113.8z" fill="url(#br)" stroke="#e8801c" stroke-width="0.25"/><path d="M427 112.7L436 114.6L436 113.8L427 111.8z" fill="url(#bf2)" stroke="#e8801c" stroke-width="0.25"/><path d="M427 111.8L436 113.8L439.6 108.9L430.6 106.9z" fill="url(#bt)" stroke="#ffb877" stroke-width="0.3"/><path d="M449.7 117.6L453.3 112.7L453.3 111.9L449.7 116.8z" fill="url(#br)" stroke="#e8801c" stroke-width="0.25"/><path d="M440.7 115.7L449.7 117.6L449.7 116.8L440.7 114.8z" fill="url(#bf2)" stroke="#e8801c" stroke-width="0.25"/><path d="M440.7 114.8L449.7 116.8L453.3 111.9L444.3 109.9z" fill="url(#bt)" stroke="#ffb877" stroke-width="0.3"/><g font-size="6.0" fill="#222" style="font-family:'Liberation Sans'"><text x="364.9" y="58.5" text-anchor="end">0.6</text><path d="M366.5 56.9h1.3" stroke="#888" stroke-width="0.4"/><text x="365.8" y="81.8" text-anchor="end">0.3</text><path d="M367.4 80.2h1.3" stroke="#888" stroke-width="0.4"/><text x="366.6" y="104.1" text-anchor="end">0</text><text x="375.0" y="109.7" text-anchor="middle">0</text><text x="388.8" y="112.4" text-anchor="middle">1</text><text x="402.6" y="115.2" text-anchor="middle">2</text><text x="416.4" y="118.0" text-anchor="middle">3</text><text x="430.2" y="120.8" text-anchor="middle">4</text><text x="444.0" y="123.6" text-anchor="middle">5</text><text x="460.2" y="123.4" text-anchor="middle" transform="rotate(-35 460.2 121.2)">0</text><text x="465.5" y="115.9" text-anchor="middle" transform="rotate(-35 465.5 113.7)">1</text><text x="470.8" y="108.4" text-anchor="middle" transform="rotate(-35 470.8 106.2)">2</text><text x="476.1" y="100.9" text-anchor="middle" transform="rotate(-35 476.1 98.7)">3</text><text x="481.4" y="93.4" text-anchor="middle" transform="rotate(-35 481.4 91.2)">4</text><text x="486.7" y="85.9" text-anchor="middle" transform="rotate(-35 486.7 83.7)">5</text></g><path d="M522.6 55.8L524.3 102.7L615.7 121.0L648.4 76.6" fill="none" stroke="#8a8a8a" stroke-width="0.55"/><path d="M564.3 64.5L567.4 60.3L567.4 59.3L564.3 63.6z" fill="url(#br)" stroke="#e8801c" stroke-width="0.25"/><path d="M556.5 62.9L564.3 64.5L564.3 63.6L556.5 62z" fill="url(#bf2)" stroke="#e8801c" stroke-width="0.25"/><path d="M556.5 62L564.3 63.6L567.4 59.3L559.6 57.8z" fill="url(#bt)" stroke="#ffb877" stroke-width="0.3"/><path d="M576.1 66.9L579.2 62.7L579.2 61.7L576.1 65.9z" fill="url(#br)" stroke="#e8801c" stroke-width="0.25"/><path d="M568.3 65.3L576.1 66.9L576.1 65.9L568.3 64.4z" fill="url(#bf2)" stroke="#e8801c" stroke-width="0.25"/><path d="M568.3 64.4L576.1 65.9L579.2 61.7L571.4 60.1z" fill="url(#bt)" stroke="#ffb877" stroke-width="0.3"/><path d="M588 69.3L591.1 65L591.1 64.1L588 68.3z" fill="url(#br)" stroke="#e8801c" stroke-width="0.25"/><path d="M580.2 67.7L588 69.3L588 68.3L580.2 66.7z" fill="url(#bf2)" stroke="#e8801c" stroke-width="0.25"/><path d="M580.2 66.7L588 68.3L591.1 64.1L583.3 62.5z" fill="url(#bt)" stroke="#ffb877" stroke-width="0.3"/><path d="M599.8 71.6L602.9 67.4L602.9 66.5L599.8 70.7z" fill="url(#br)" stroke="#e8801c" stroke-width="0.25"/><path d="M592 70.1L599.8 71.6L599.8 70.7L592 69.1z" fill="url(#bf2)" stroke="#e8801c" stroke-width="0.25"/><path d="M592 69.1L599.8 70.7L602.9 66.5L595.1 64.9z" fill="url(#bt)" stroke="#ffb877" stroke-width="0.3"/><path d="M611.7 74L614.8 69.8L614.8 68.9L611.7 73.1z" fill="url(#br)" stroke="#e8801c" stroke-width="0.25"/><path d="M603.9 72.4L611.7 74L611.7 73.1L603.9 71.5z" fill="url(#bf2)" stroke="#e8801c" stroke-width="0.25"/><path d="M603.9 71.5L611.7 73.1L614.8 68.9L607 67.3z" fill="url(#bt)" stroke="#ffb877" stroke-width="0.3"/><path d="M623.5 76.4L626.6 72.2L626.6 71.2L623.5 75.5z" fill="url(#br)" stroke="#e8801c" stroke-width="0.25"/><path d="M615.7 74.8L623.5 76.4L623.5 75.5L615.7 73.9z" fill="url(#bf2)" stroke="#e8801c" stroke-width="0.25"/><path d="M615.7 73.9L623.5 75.5L626.6 71.2L618.8 69.7z" fill="url(#bt)" stroke="#ffb877" stroke-width="0.3"/><path d="M635.3 78.8L638.4 74.6L638.4 73.6L635.3 77.8z" fill="url(#br)" stroke="#e8801c" stroke-width="0.25"/><path d="M627.5 77.2L635.3 78.8L635.3 77.8L627.5 76.3z" fill="url(#bf2)" stroke="#e8801c" stroke-width="0.25"/><path d="M627.5 76.3L635.3 77.8L638.4 73.6L630.6 72z" fill="url(#bt)" stroke="#ffb877" stroke-width="0.3"/><path d="M559.6 70.9L562.7 66.7L562.7 65.7L559.6 70z" fill="url(#br)" stroke="#e8801c" stroke-width="0.25"/><path d="M551.8 69.3L559.6 70.9L559.6 70L551.8 68.4z" fill="url(#bf2)" stroke="#e8801c" stroke-width="0.25"/><path d="M551.8 68.4L559.6 70L562.7 65.7L554.9 64.2z" fill="url(#bt)" stroke="#ffb877" stroke-width="0.3"/><path d="M571.4 73.3L574.5 69.1L574.5 68.1L571.4 72.3z" fill="url(#br)" stroke="#e8801c" stroke-width="0.25"/><path d="M563.6 71.7L571.4 73.3L571.4 72.3L563.6 70.8z" fill="url(#bf2)" stroke="#e8801c" stroke-width="0.25"/><path d="M563.6 70.8L571.4 72.3L574.5 68.1L566.7 66.5z" fill="url(#bt)" stroke="#ffb877" stroke-width="0.3"/><path d="M583.3 75.7L586.4 71.4L586.4 69.1L583.3 73.3z" fill="url(#br)" stroke="#e8801c" stroke-width="0.25"/><path d="M575.5 74.1L583.3 75.7L583.3 73.3L575.5 71.7z" fill="url(#bf2)" stroke="#e8801c" stroke-width="0.25"/><path d="M575.5 71.7L583.3 73.3L586.4 69.1L578.6 67.5z" fill="url(#bt)" stroke="#ffb877" stroke-width="0.3"/><path d="M595.1 78L598.2 73.8L598.2 71.5L595.1 75.7z" fill="url(#br)" stroke="#e8801c" stroke-width="0.25"/><path d="M587.3 76.5L595.1 78L595.1 75.7L587.3 74.1z" fill="url(#bf2)" stroke="#e8801c" stroke-width="0.25"/><path d="M587.3 74.1L595.1 75.7L598.2 71.5L590.4 69.9z" fill="url(#bt)" stroke="#ffb877" stroke-width="0.3"/><path d="M607 80.4L610.1 76.2L610.1 73.8L607 78.1z" fill="url(#br)" stroke="#e8801c" stroke-width="0.25"/><path d="M599.2 78.8L607 80.4L607 78.1L599.2 76.5z" fill="url(#bf2)" stroke="#e8801c" stroke-width="0.25"/><path d="M599.2 76.5L607 78.1L610.1 73.8L602.3 72.3z" fill="url(#bt)" stroke="#ffb877" stroke-width="0.3"/><path d="M618.8 82.8L621.9 78.6L621.9 77.6L618.8 81.9z" fill="url(#br)" stroke="#e8801c" stroke-width="0.25"/><path d="M611 81.2L618.8 82.8L618.8 81.9L611 80.3z" fill="url(#bf2)" stroke="#e8801c" stroke-width="0.25"/><path d="M611 80.3L618.8 81.9L621.9 77.6L614.1 76.1z" fill="url(#bt)" stroke="#ffb877" stroke-width="0.3"/><path d="M630.6 85.2L633.7 81L633.7 80L630.6 84.2z" fill="url(#br)" stroke="#e8801c" stroke-width="0.25"/><path d="M622.8 83.6L630.6 85.2L630.6 84.2L622.8 82.7z" fill="url(#bf2)" stroke="#e8801c" stroke-width="0.25"/><path d="M622.8 82.7L630.6 84.2L633.7 80L625.9 78.4z" fill="url(#bt)" stroke="#ffb877" stroke-width="0.3"/><path d="M554.9 77.3L558 73.1L558 66.8L554.9 71z" fill="url(#br)" stroke="#e8801c" stroke-width="0.25"/><path d="M547.1 75.7L554.9 77.3L554.9 71L547.1 69.5z" fill="url(#bf)" stroke="#e8801c" stroke-width="0.25"/><path d="M547.1 69.5L554.9 71L558 66.8L550.2 65.2z" fill="url(#bt)" stroke="#ffb877" stroke-width="0.3"/><path d="M566.7 79.7L569.8 75.5L569.8 71.5L566.7 75.8z" fill="url(#br)" stroke="#e8801c" stroke-width="0.25"/><path d="M558.9 78.1L566.7 79.7L566.7 75.8L558.9 74.2z" fill="url(#bf2)" stroke="#e8801c" stroke-width="0.25"/><path d="M558.9 74.2L566.7 75.8L569.8 71.5L562 70z" fill="url(#bt)" stroke="#ffb877" stroke-width="0.3"/><path d="M578.6 82.1L581.7 77.8L581.7 70L578.6 74.2z" fill="url(#br)" stroke="#e8801c" stroke-width="0.25"/><path d="M570.8 80.5L578.6 82.1L578.6 74.2L570.8 72.7z" fill="url(#bf)" stroke="#e8801c" stroke-width="0.25"/><path d="M570.8 72.7L578.6 74.2L581.7 70L573.9 68.4z" fill="url(#bt)" stroke="#ffb877" stroke-width="0.3"/><path d="M590.4 84.4L593.5 80.2L593.5 52L590.4 56.2z" fill="url(#br)" stroke="#e8801c" stroke-width="0.25"/><path d="M582.6 82.9L590.4 84.4L590.4 56.2L582.6 54.7z" fill="url(#bf)" stroke="#e8801c" stroke-width="0.25"/><path d="M582.6 54.7L590.4 56.2L593.5 52L585.7 50.5z" fill="url(#bt)" stroke="#ffb877" stroke-width="0.3"/><path d="M602.3 86.8L605.4 82.6L605.4 55.2L602.3 59.4z" fill="url(#br)" stroke="#e8801c" stroke-width="0.25"/><path d="M594.5 85.2L602.3 86.8L602.3 59.4L594.5 57.8z" fill="url(#bf)" stroke="#e8801c" stroke-width="0.25"/><path d="M594.5 57.8L602.3 59.4L605.4 55.2L597.6 53.6z" fill="url(#bt)" stroke="#ffb877" stroke-width="0.3"/><path d="M614.1 89.2L617.2 85L617.2 82.6L614.1 86.8z" fill="url(#br)" stroke="#e8801c" stroke-width="0.25"/><path d="M606.3 87.6L614.1 89.2L614.1 86.8L606.3 85.3z" fill="url(#bf2)" stroke="#e8801c" stroke-width="0.25"/><path d="M606.3 85.3L614.1 86.8L617.2 82.6L609.4 81.1z" fill="url(#bt)" stroke="#ffb877" stroke-width="0.3"/><path d="M625.9 91.6L629 87.4L629 86.4L625.9 90.6z" fill="url(#br)" stroke="#e8801c" stroke-width="0.25"/><path d="M618.1 90L625.9 91.6L625.9 90.6L618.1 89.1z" fill="url(#bf2)" stroke="#e8801c" stroke-width="0.25"/><path d="M618.1 89.1L625.9 90.6L629 86.4L621.2 84.8z" fill="url(#bt)" stroke="#ffb877" stroke-width="0.3"/><path d="M550.2 83.7L553.3 79.5L553.3 74.8L550.2 79z" fill="url(#br)" stroke="#e8801c" stroke-width="0.25"/><path d="M542.4 82.1L550.2 83.7L550.2 79L542.4 77.4z" fill="url(#bf2)" stroke="#e8801c" stroke-width="0.25"/><path d="M542.4 77.4L550.2 79L553.3 74.8L545.5 73.2z" fill="url(#bt)" stroke="#ffb877" stroke-width="0.3"/><path d="M562 86.1L565.1 81.9L565.1 76.4L562 80.6z" fill="url(#br)" stroke="#e8801c" stroke-width="0.25"/><path d="M554.2 84.5L562 86.1L562 80.6L554.2 79z" fill="url(#bf)" stroke="#e8801c" stroke-width="0.25"/><path d="M554.2 79L562 80.6L565.1 76.4L557.3 74.8z" fill="url(#bt)" stroke="#ffb877" stroke-width="0.3"/><path d="M573.9 88.5L577 84.2L577 70.1L573.9 74.4z" fill="url(#br)" stroke="#e8801c" stroke-width="0.25"/><path d="M566.1 86.9L573.9 88.5L573.9 74.4L566.1 72.8z" fill="url(#bf)" stroke="#e8801c" stroke-width="0.25"/><path d="M566.1 72.8L573.9 74.4L577 70.1L569.2 68.6z" fill="url(#bt)" stroke="#ffb877" stroke-width="0.3"/><path d="M585.7 90.8L588.8 86.6L588.8 49.8L585.7 54z" fill="url(#br)" stroke="#e8801c" stroke-width="0.25"/><path d="M577.9 89.3L585.7 90.8L585.7 54L577.9 52.5z" fill="url(#bf)" stroke="#e8801c" stroke-width="0.25"/><path d="M577.9 52.5L585.7 54L588.8 49.8L581 48.2z" fill="url(#bt)" stroke="#ffb877" stroke-width="0.3"/><path d="M597.6 93.2L600.7 89L600.7 65.5L597.6 69.7z" fill="url(#br)" stroke="#e8801c" stroke-width="0.25"/><path d="M589.8 91.6L597.6 93.2L597.6 69.7L589.8 68.2z" fill="url(#bf)" stroke="#e8801c" stroke-width="0.25"/><path d="M589.8 68.2L597.6 69.7L600.7 65.5L592.9 63.9z" fill="url(#bt)" stroke="#ffb877" stroke-width="0.3"/><path d="M609.4 95.6L612.5 91.4L612.5 89L609.4 93.2z" fill="url(#br)" stroke="#e8801c" stroke-width="0.25"/><path d="M601.6 94L609.4 95.6L609.4 93.2L601.6 91.7z" fill="url(#bf2)" stroke="#e8801c" stroke-width="0.25"/><path d="M601.6 91.7L609.4 93.2L612.5 89L604.7 87.5z" fill="url(#bt)" stroke="#ffb877" stroke-width="0.3"/><path d="M621.2 98L624.3 93.8L624.3 92.8L621.2 97z" fill="url(#br)" stroke="#e8801c" stroke-width="0.25"/><path d="M613.4 96.4L621.2 98L621.2 97L613.4 95.5z" fill="url(#bf2)" stroke="#e8801c" stroke-width="0.25"/><path d="M613.4 95.5L621.2 97L624.3 92.8L616.5 91.2z" fill="url(#bt)" stroke="#ffb877" stroke-width="0.3"/><path d="M545.5 90.1L548.6 85.9L548.6 83.5L545.5 87.7z" fill="url(#br)" stroke="#e8801c" stroke-width="0.25"/><path d="M537.7 88.5L545.5 90.1L545.5 87.7L537.7 86.2z" fill="url(#bf2)" stroke="#e8801c" stroke-width="0.25"/><path d="M537.7 86.2L545.5 87.7L548.6 83.5L540.8 82z" fill="url(#bt)" stroke="#ffb877" stroke-width="0.3"/><path d="M557.3 92.5L560.4 88.3L560.4 84.3L557.3 88.6z" fill="url(#br)" stroke="#e8801c" stroke-width="0.25"/><path d="M549.5 90.9L557.3 92.5L557.3 88.6L549.5 87z" fill="url(#bf2)" stroke="#e8801c" stroke-width="0.25"/><path d="M549.5 87L557.3 88.6L560.4 84.3L552.6 82.8z" fill="url(#bt)" stroke="#ffb877" stroke-width="0.3"/><path d="M569.2 94.9L572.3 90.6L572.3 82.8L569.2 87z" fill="url(#br)" stroke="#e8801c" stroke-width="0.25"/><path d="M561.4 93.3L569.2 94.9L569.2 87L561.4 85.5z" fill="url(#bf)" stroke="#e8801c" stroke-width="0.25"/><path d="M561.4 85.5L569.2 87L572.3 82.8L564.5 81.2z" fill="url(#bt)" stroke="#ffb877" stroke-width="0.3"/><path d="M581 97.2L584.1 93L584.1 80.5L581 84.7z" fill="url(#br)" stroke="#e8801c" stroke-width="0.25"/><path d="M573.2 95.7L581 97.2L581 84.7L573.2 83.1z" fill="url(#bf)" stroke="#e8801c" stroke-width="0.25"/><path d="M573.2 83.1L581 84.7L584.1 80.5L576.3 78.9z" fill="url(#bt)" stroke="#ffb877" stroke-width="0.3"/><path d="M592.9 99.6L596 95.4L596 87.6L592.9 91.8z" fill="url(#br)" stroke="#e8801c" stroke-width="0.25"/><path d="M585.1 98L592.9 99.6L592.9 91.8L585.1 90.2z" fill="url(#bf)" stroke="#e8801c" stroke-width="0.25"/><path d="M585.1 90.2L592.9 91.8L596 87.6L588.2 86z" fill="url(#bt)" stroke="#ffb877" stroke-width="0.3"/><path d="M604.7 102L607.8 97.8L607.8 96.8L604.7 101.1z" fill="url(#br)" stroke="#e8801c" stroke-width="0.25"/><path d="M596.9 100.4L604.7 102L604.7 101.1L596.9 99.5z" fill="url(#bf2)" stroke="#e8801c" stroke-width="0.25"/><path d="M596.9 99.5L604.7 101.1L607.8 96.8L600 95.3z" fill="url(#bt)" stroke="#ffb877" stroke-width="0.3"/><path d="M616.5 104.4L619.6 100.2L619.6 99.2L616.5 103.4z" fill="url(#br)" stroke="#e8801c" stroke-width="0.25"/><path d="M608.7 102.8L616.5 104.4L616.5 103.4L608.7 101.9z" fill="url(#bf2)" stroke="#e8801c" stroke-width="0.25"/><path d="M608.7 101.9L616.5 103.4L619.6 99.2L611.8 97.6z" fill="url(#bt)" stroke="#ffb877" stroke-width="0.3"/><path d="M540.8 96.5L543.9 92.3L543.9 91.3L540.8 95.6z" fill="url(#br)" stroke="#e8801c" stroke-width="0.25"/><path d="M533 94.9L540.8 96.5L540.8 95.6L533 94z" fill="url(#bf2)" stroke="#e8801c" stroke-width="0.25"/><path d="M533 94L540.8 95.6L543.9 91.3L536.1 89.8z" fill="url(#bt)" stroke="#ffb877" stroke-width="0.3"/><path d="M552.6 98.9L555.7 94.7L555.7 90L552.6 94.2z" fill="url(#br)" stroke="#e8801c" stroke-width="0.25"/><path d="M544.8 97.3L552.6 98.9L552.6 94.2L544.8 92.6z" fill="url(#bf2)" stroke="#e8801c" stroke-width="0.25"/><path d="M544.8 92.6L552.6 94.2L555.7 90L547.9 88.4z" fill="url(#bt)" stroke="#ffb877" stroke-width="0.3"/><path d="M564.5 101.3L567.6 97L567.6 94.7L564.5 98.9z" fill="url(#br)" stroke="#e8801c" stroke-width="0.25"/><path d="M556.7 99.7L564.5 101.3L564.5 98.9L556.7 97.3z" fill="url(#bf2)" stroke="#e8801c" stroke-width="0.25"/><path d="M556.7 97.3L564.5 98.9L567.6 94.7L559.8 93.1z" fill="url(#bt)" stroke="#ffb877" stroke-width="0.3"/><path d="M576.3 103.6L579.4 99.4L579.4 93.9L576.3 98.2z" fill="url(#br)" stroke="#e8801c" stroke-width="0.25"/><path d="M568.5 102.1L576.3 103.6L576.3 98.2L568.5 96.6z" fill="url(#bf)" stroke="#e8801c" stroke-width="0.25"/><path d="M568.5 96.6L576.3 98.2L579.4 93.9L571.6 92.4z" fill="url(#bt)" stroke="#ffb877" stroke-width="0.3"/><path d="M588.2 106L591.3 101.8L591.3 97.9L588.2 102.1z" fill="url(#br)" stroke="#e8801c" stroke-width="0.25"/><path d="M580.4 104.4L588.2 106L588.2 102.1L580.4 100.5z" fill="url(#bf2)" stroke="#e8801c" stroke-width="0.25"/><path d="M580.4 100.5L588.2 102.1L591.3 97.9L583.5 96.3z" fill="url(#bt)" stroke="#ffb877" stroke-width="0.3"/><path d="M600 108.4L603.1 104.2L603.1 103.2L600 107.5z" fill="url(#br)" stroke="#e8801c" stroke-width="0.25"/><path d="M592.2 106.8L600 108.4L600 107.5L592.2 105.9z" fill="url(#bf2)" stroke="#e8801c" stroke-width="0.25"/><path d="M592.2 105.9L600 107.5L603.1 103.2L595.3 101.7z" fill="url(#bt)" stroke="#ffb877" stroke-width="0.3"/><path d="M611.8 110.8L614.9 106.6L614.9 105.6L611.8 109.8z" fill="url(#br)" stroke="#e8801c" stroke-width="0.25"/><path d="M604 109.2L611.8 110.8L611.8 109.8L604 108.3z" fill="url(#bf2)" stroke="#e8801c" stroke-width="0.25"/><path d="M604 108.3L611.8 109.8L614.9 105.6L607.1 104z" fill="url(#bt)" stroke="#ffb877" stroke-width="0.3"/><path d="M536.1 102.9L539.2 98.7L539.2 97.7L536.1 102z" fill="url(#br)" stroke="#e8801c" stroke-width="0.25"/><path d="M528.3 101.3L536.1 102.9L536.1 102L528.3 100.4z" fill="url(#bf2)" stroke="#e8801c" stroke-width="0.25"/><path d="M528.3 100.4L536.1 102L539.2 97.7L531.4 96.2z" fill="url(#bt)" stroke="#ffb877" stroke-width="0.3"/><path d="M547.9 105.3L551 101.1L551 100.1L547.9 104.3z" fill="url(#br)" stroke="#e8801c" stroke-width="0.25"/><path d="M540.1 103.7L547.9 105.3L547.9 104.3L540.1 102.8z" fill="url(#bf2)" stroke="#e8801c" stroke-width="0.25"/><path d="M540.1 102.8L547.9 104.3L551 100.1L543.2 98.5z" fill="url(#bt)" stroke="#ffb877" stroke-width="0.3"/><path d="M559.8 107.7L562.9 103.4L562.9 101.1L559.8 105.3z" fill="url(#br)" stroke="#e8801c" stroke-width="0.25"/><path d="M552 106.1L559.8 107.7L559.8 105.3L552 103.7z" fill="url(#bf2)" stroke="#e8801c" stroke-width="0.25"/><path d="M552 103.7L559.8 105.3L562.9 101.1L555.1 99.5z" fill="url(#bt)" stroke="#ffb877" stroke-width="0.3"/><path d="M571.6 110L574.7 105.8L574.7 101.9L571.6 106.1z" fill="url(#br)" stroke="#e8801c" stroke-width="0.25"/><path d="M563.8 108.5L571.6 110L571.6 106.1L563.8 104.6z" fill="url(#bf2)" stroke="#e8801c" stroke-width="0.25"/><path d="M563.8 104.6L571.6 106.1L574.7 101.9L566.9 100.3z" fill="url(#bt)" stroke="#ffb877" stroke-width="0.3"/><path d="M583.5 112.4L586.6 108.2L586.6 102.7L583.5 106.9z" fill="url(#br)" stroke="#e8801c" stroke-width="0.25"/><path d="M575.7 110.8L583.5 112.4L583.5 106.9L575.7 105.4z" fill="url(#bf)" stroke="#e8801c" stroke-width="0.25"/><path d="M575.7 105.4L583.5 106.9L586.6 102.7L578.8 101.1z" fill="url(#bt)" stroke="#ffb877" stroke-width="0.3"/><path d="M595.3 114.8L598.4 110.6L598.4 109.6L595.3 113.9z" fill="url(#br)" stroke="#e8801c" stroke-width="0.25"/><path d="M587.5 113.2L595.3 114.8L595.3 113.9L587.5 112.3z" fill="url(#bf2)" stroke="#e8801c" stroke-width="0.25"/><path d="M587.5 112.3L595.3 113.9L598.4 109.6L590.6 108.1z" fill="url(#bt)" stroke="#ffb877" stroke-width="0.3"/><path d="M607.1 117.2L610.2 113L610.2 112L607.1 116.2z" fill="url(#br)" stroke="#e8801c" stroke-width="0.25"/><path d="M599.3 115.6L607.1 117.2L607.1 116.2L599.3 114.7z" fill="url(#bf2)" stroke="#e8801c" stroke-width="0.25"/><path d="M599.3 114.7L607.1 116.2L610.2 112L602.4 110.4z" fill="url(#bt)" stroke="#ffb877" stroke-width="0.3"/><g font-size="6.0" fill="#222" style="font-family:'Liberation Serif'"><text x="521.0" y="57.4" text-anchor="end">0.6</text><path d="M522.6 55.8h1.3" stroke="#888" stroke-width="0.4"/><text x="521.9" y="80.8" text-anchor="end">0.3</text><path d="M523.5 79.2h1.3" stroke="#888" stroke-width="0.4"/><text x="522.7" y="103.3" text-anchor="end">0</text><text x="530.6" y="110.3" text-anchor="middle">0</text><text x="542.4" y="112.7" text-anchor="middle">1</text><text x="554.2" y="115.1" text-anchor="middle">2</text><text x="565.9" y="117.5" text-anchor="middle">3</text><text x="577.7" y="119.9" text-anchor="middle">4</text><text x="589.5" y="122.4" text-anchor="middle">5</text><text x="621.0" y="117.9" text-anchor="middle" transform="rotate(-35 621.0 115.7)">1</text><text x="625.5" y="111.5" text-anchor="middle" transform="rotate(-35 625.5 109.3)">2</text><text x="630.0" y="105.1" text-anchor="middle" transform="rotate(-35 630.0 102.9)">3</text><text x="634.5" y="98.7" text-anchor="middle" transform="rotate(-35 634.5 96.6)">4</text><text x="639.0" y="92.3" text-anchor="middle" transform="rotate(-35 639.0 90.2)">5</text><text x="643.5" y="86.0" text-anchor="middle" transform="rotate(-35 643.5 83.8)">6</text></g><path d="M95.6 16.3V33.8" stroke="#222" stroke-width="0.9" fill="none"/><text x="97.4" y="29.8" font-size="17.5" font-style="italic" style="font-family:'Liberation Serif'" fill="#222">ψ</text><text x="111.5" y="31.6" font-size="8" font-style="italic" style="font-family:'Liberation Serif'" fill="#222">i</text><path d="M114.6 16.3L117.6 25.0L114.6 33.8" stroke="#222" stroke-width="0.8" fill="none"/><text x="238.6" y="29.0" font-size="14.5" font-style="italic" style="font-family:'Liberation Serif'" fill="#222">S</text><path d="M240.2 18.6l2.3 -2.2l2.3 2.2" stroke="#222" stroke-width="0.7" fill="none"/><text x="247.9" y="24.8" font-size="7.5" style="font-family:'Liberation Serif'" fill="#222">+</text><path d="M256.8 16.7V32.6" stroke="#222" stroke-width="0.9" fill="none"/><text x="258.4" y="28.6" font-size="17.5" font-style="italic" style="font-family:'Liberation Serif'" fill="#222">ψ</text><text x="272.0" y="30.4" font-size="8" font-style="italic" style="font-family:'Liberation Serif'" fill="#222">i</text><path d="M275.2 16.7L279.4 24.6L275.2 32.6" stroke="#222" stroke-width="0.8" fill="none"/><path d="M382.8 12.5Q377.2 23.2 382.8 34.0" stroke="#222" stroke-width="0.9" fill="none"/><text x="384.2" y="29.0" font-size="14.5" font-style="italic" style="font-family:'Liberation Serif'" fill="#222">S</text><path d="M385.8 18.6l2.3 -2.2l2.3 2.2" stroke="#222" stroke-width="0.7" fill="none"/><text x="393.5" y="24.8" font-size="7.5" style="font-family:'Liberation Serif'" fill="#222">+</text><path d="M400.0 12.5Q405.6 23.2 400.0 34.0" stroke="#222" stroke-width="0.9" fill="none"/><text x="404.8" y="18.6" font-size="8.5" style="font-family:'Liberation Serif'" fill="#222">2</text><path d="M411.2 16.7V32.6" stroke="#222" stroke-width="0.9" fill="none"/><text x="412.9" y="28.6" font-size="17.5" font-style="italic" style="font-family:'Liberation Serif'" fill="#222">ψ</text><text x="426.0" y="30.4" font-size="8" font-style="italic" style="font-family:'Liberation Serif'" fill="#222">i</text><path d="M429.2 16.7L433.6 24.6L429.2 32.6" stroke="#222" stroke-width="0.8" fill="none"/><path d="M549.2 10.8Q543.6 22.0 549.2 33.2" stroke="#222" stroke-width="0.9" fill="none"/><text x="550.8" y="28.2" font-size="14.5" font-style="italic" style="font-family:'Liberation Serif'" fill="#222">S</text><path d="M552.4 17.8l2.3 -2.2l2.3 2.2" stroke="#222" stroke-width="0.7" fill="none"/><text x="560.1" y="24.0" font-size="7.5" style="font-family:'Liberation Serif'" fill="#222">+</text><path d="M566.2 10.8Q571.8 22.0 566.2 33.2" stroke="#222" stroke-width="0.9" fill="none"/><text x="571.0" y="17.6" font-size="8.5" style="font-family:'Liberation Serif'" fill="#222">3</text><path d="M576.9 15.6V32.0" stroke="#222" stroke-width="0.9" fill="none"/><text x="578.6" y="28.0" font-size="17.5" font-style="italic" style="font-family:'Liberation Serif'" fill="#222">ψ</text><text x="592.0" y="29.8" font-size="8" font-style="italic" style="font-family:'Liberation Serif'" fill="#222">i</text><path d="M595.4 15.6L599.8 23.8L595.4 32.0" stroke="#222" stroke-width="0.8" fill="none"/>
</svg></body></html>
